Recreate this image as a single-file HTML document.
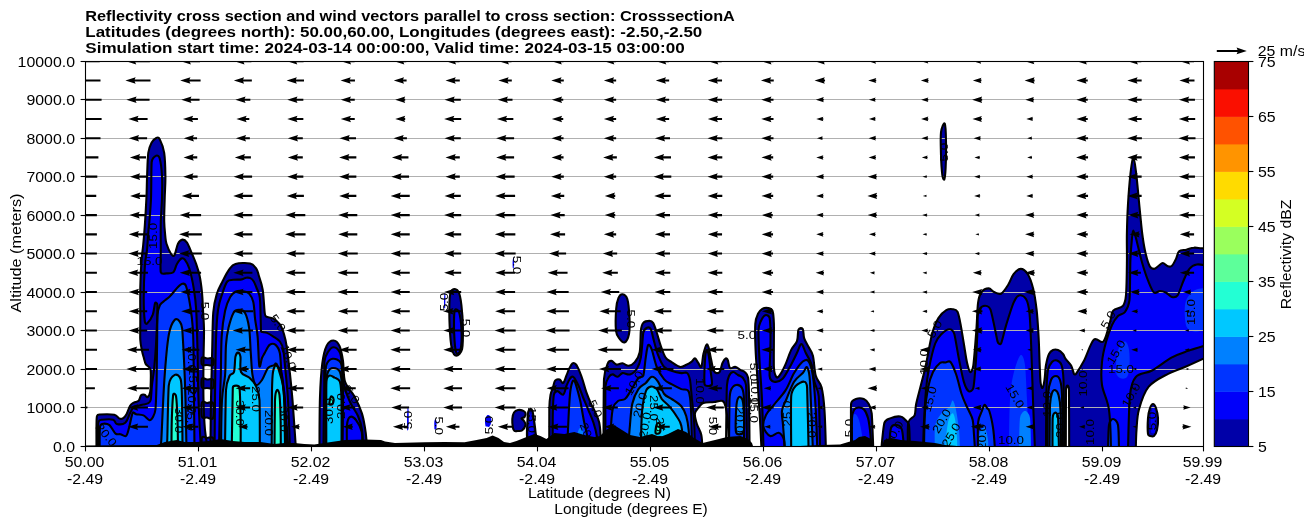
<!DOCTYPE html>
<html><head><meta charset="utf-8"><title>Reflectivity cross section</title><style>html,body{margin:0;padding:0;background:#fff;width:1304px;height:526px;overflow:hidden}</style></head>
<body><svg width="1304" height="526" viewBox="0 0 1304 526" style="position:absolute;left:0;top:0;will-change:transform"><rect width="1304" height="526" fill="#fff"/><defs><clipPath id="ax"><rect x="85.5" y="61.5" width="1118.00" height="385.00"/></clipPath></defs><g clip-path="url(#ax)"><path d="M96.5 450.0 C96.5 450.0 96.4 429.5 96.5 425.0 C96.6 420.5 96.5 417.6 97.0 416.0 C97.5 414.4 98.3 414.6 100.0 414.5 C101.7 414.4 111.3 414.2 114.3 414.8 C117.3 415.4 117.8 417.8 119.2 418.4 C120.6 419.0 121.6 419.1 122.8 418.4 C124.0 417.7 125.3 416.3 126.5 414.2 C127.7 412.1 128.9 407.6 130.1 405.7 C131.3 403.8 132.4 403.4 133.8 402.6 C135.2 401.8 137.4 402.0 138.6 400.8 C139.8 399.6 140.1 396.3 141.1 395.3 C142.1 394.3 143.7 394.4 144.7 394.7 C145.7 395.0 146.2 397.6 147.1 397.2 C148.0 396.8 149.8 395.0 150.2 392.0 C150.6 389.0 151.2 373.5 150.6 369.8 C150.0 366.1 146.9 366.0 145.8 364.1 C144.7 362.2 144.6 360.6 144.0 358.4 C143.4 356.2 142.6 353.9 142.0 350.8 C141.4 347.7 140.6 344.9 140.3 340.0 C140.0 335.1 140.3 330.1 140.3 321.3 C140.3 312.5 140.1 296.9 140.3 287.0 C140.5 277.1 140.9 269.0 141.4 262.0 C141.9 255.0 142.6 251.0 143.2 245.0 C143.8 239.0 144.3 233.7 144.8 225.9 C145.3 218.2 146.0 206.9 146.4 198.5 C146.8 190.1 146.8 183.3 147.1 175.7 C147.4 168.1 147.6 158.1 148.3 152.8 C149.0 147.5 150.4 145.1 151.7 142.6 C153.0 140.1 155.0 138.6 156.3 138.0 C157.6 137.4 158.9 137.5 159.7 139.1 C160.5 140.7 163.2 146.7 164.2 152.8 C165.1 158.9 165.3 168.1 165.4 175.7 C165.5 183.3 164.9 190.9 164.7 198.5 C164.5 206.1 164.1 214.8 164.2 221.3 C164.3 227.8 165.1 234.1 165.4 237.3 C165.7 240.5 165.6 240.9 166.5 243.7 C167.4 246.5 170.1 252.5 171.1 254.0 C172.1 255.5 173.5 256.6 174.5 255.1 C175.5 253.6 176.7 246.3 178.0 243.7 C179.3 241.1 181.0 239.8 182.5 239.6 C184.0 239.4 185.5 240.4 187.0 242.6 C188.5 244.8 190.1 249.2 191.6 252.8 C193.1 256.4 194.9 260.4 196.2 264.2 C197.5 268.0 198.6 271.1 199.6 275.7 C200.6 280.3 201.3 285.9 201.9 291.6 C202.5 297.3 202.7 303.5 203.0 309.9 C203.3 316.3 203.9 321.6 204.0 330.0 C204.1 338.4 203.6 348.3 203.5 360.0 C203.4 371.7 203.2 388.3 203.5 400.0 C203.8 411.7 204.2 421.7 205.0 430.0 C205.8 438.3 208.0 450.0 208.0 450.0 C208.0 450.0 96.5 450.0 96.5 450.0Z" fill="#0000a8"/><path d="M210.4 450.0 C210.4 450.0 210.7 416.7 211.0 400.0 C211.3 383.3 211.8 364.7 212.2 350.0 C212.6 335.3 212.5 321.1 213.3 312.0 C214.1 302.9 215.3 299.1 216.8 294.0 C218.3 288.9 220.4 285.5 222.5 281.4 C224.6 277.3 227.0 272.4 229.2 269.5 C231.4 266.6 232.0 265.0 235.5 264.0 C239.0 263.0 246.6 262.7 250.1 263.5 C253.6 264.3 254.9 266.7 256.4 268.8 C257.9 270.9 257.9 272.8 259.0 276.3 C260.1 279.8 261.8 283.8 262.7 289.7 C263.6 295.6 264.3 309.5 264.6 312.0 C264.9 314.5 264.8 315.6 266.2 316.7 C267.6 317.8 270.7 317.1 273.0 318.4 C275.3 319.7 278.0 321.7 279.9 324.4 C281.8 327.1 283.0 330.9 284.1 334.6 C285.2 338.3 285.8 340.5 286.7 346.6 C287.6 352.7 289.1 366.1 290.1 375.0 C291.1 383.9 291.5 387.5 292.5 400.0 C293.5 412.5 296.0 450.0 296.0 450.0 C296.0 450.0 210.4 450.0 210.4 450.0Z" fill="#0000a8"/><path d="M319.5 450.0 C319.5 450.0 319.5 411.2 320.0 396.8 C320.5 382.4 321.2 371.9 322.3 363.4 C323.4 354.9 324.8 349.4 326.7 345.6 C328.6 341.8 331.4 340.4 333.5 340.5 C335.6 340.6 337.9 342.6 339.5 346.0 C341.1 349.4 342.1 355.0 343.0 361.0 C343.9 367.0 343.2 375.9 345.1 381.8 C347.0 387.7 351.7 391.3 354.5 396.5 C357.3 401.7 360.1 408.0 361.8 413.2 C363.6 418.4 364.2 423.4 365.0 427.9 C365.8 432.4 366.2 436.7 366.5 440.4 C366.8 444.1 367.0 450.0 367.0 450.0 C367.0 450.0 319.5 450.0 319.5 450.0Z" fill="#0000a8"/><path d="M513.0 428.0 C512.7 426.4 512.1 421.6 512.3 419.0 C512.5 416.4 513.0 414.0 514.0 412.5 C515.0 411.0 516.6 410.3 518.0 410.0 C519.4 409.7 521.2 410.0 522.5 410.5 C523.8 411.0 525.2 411.9 525.5 413.0 C525.8 414.1 525.2 416.1 524.5 417.0 C523.8 417.9 521.6 417.8 521.5 418.5 C521.4 419.2 523.3 419.9 524.0 421.0 C524.7 422.1 525.8 423.4 525.5 425.0 C525.2 426.6 523.3 429.5 522.0 430.5 C520.7 431.5 518.8 430.9 517.5 431.0 C516.2 431.1 515.2 431.5 514.5 431.0 C513.8 430.5 513.3 429.6 513.0 428.0Z" fill="#0000a8"/><path d="M527.5 440.0 C526.1 436.7 527.4 424.0 527.5 420.0 C527.6 416.0 527.8 413.7 528.2 412.0 C528.6 410.3 529.3 409.2 530.0 409.0 C530.7 408.8 532.0 409.5 532.5 411.0 C533.0 412.5 533.5 416.5 534.0 420.0 C534.5 423.5 535.2 428.7 535.5 432.0 C535.8 435.3 537.3 438.7 536.0 440.0 C534.7 441.3 528.9 443.3 527.5 440.0Z" fill="#0000a8"/><path d="M549.3 450.0 C549.3 450.0 549.2 415.3 549.3 408.5 C549.4 401.7 549.9 398.4 550.5 395.0 C551.1 391.6 552.0 390.4 552.8 388.0 C553.6 385.6 554.0 382.1 555.1 380.7 C556.2 379.3 558.4 379.1 559.7 379.5 C561.1 379.9 562.0 383.8 563.2 383.0 C564.4 382.2 565.7 377.2 566.7 374.9 C567.7 372.6 568.0 371.0 569.0 369.1 C570.0 367.2 571.3 364.1 572.5 363.3 C573.7 362.5 574.8 363.1 576.0 364.5 C577.2 365.9 578.4 368.7 579.5 371.4 C580.6 374.1 581.8 377.2 582.9 380.7 C584.0 384.2 585.0 388.4 586.4 392.3 C587.8 396.2 589.5 400.4 591.1 403.9 C592.7 407.4 594.4 410.1 595.7 413.2 C597.1 416.3 598.4 419.0 599.2 422.5 C600.0 426.0 600.2 429.5 600.5 434.1 C600.8 438.7 601.0 450.0 601.0 450.0 C601.0 450.0 549.3 450.0 549.3 450.0Z" fill="#0000a8"/><path d="M603.5 450.0 C603.5 450.0 603.6 387.1 604.0 379.0 C604.4 370.9 607.0 365.3 607.8 363.3 C608.6 361.3 610.1 360.7 611.5 360.9 C612.9 361.1 614.6 364.2 616.4 364.6 C618.2 365.0 620.5 363.1 622.5 363.3 C624.5 363.5 626.6 366.0 628.6 365.8 C630.6 365.6 632.9 364.4 634.8 362.1 C636.6 359.9 638.7 357.6 639.7 352.3 C640.7 347.0 640.4 334.2 640.9 330.3 C641.4 326.4 641.9 324.5 643.3 322.9 C644.7 321.3 647.9 320.9 649.5 320.9 C651.1 320.9 652.0 321.1 653.1 322.9 C654.2 324.7 655.6 329.0 656.8 332.7 C658.0 336.4 659.1 340.9 660.5 345.0 C661.9 349.1 663.6 354.3 665.4 357.2 C667.2 360.1 669.1 360.5 671.5 362.1 C673.9 363.7 677.5 366.4 680.0 366.9 C682.5 367.3 684.4 365.7 686.4 364.8 C688.4 363.9 690.3 362.7 691.7 361.6 C693.1 360.5 693.8 358.2 694.9 358.4 C696.0 358.6 697.0 361.3 698.1 362.7 C699.2 364.1 700.4 368.3 701.3 366.9 C702.2 365.5 702.5 357.8 703.4 354.1 C704.3 350.4 705.7 345.7 706.6 344.6 C707.5 343.6 708.1 346.0 708.7 347.8 C709.3 349.6 710.0 354.5 710.9 358.4 C711.8 362.3 712.6 368.9 714.0 371.2 C715.4 373.5 718.0 373.6 719.4 372.2 C720.8 370.8 721.5 365.0 722.6 362.7 C723.7 360.4 724.8 358.8 725.7 358.4 C726.6 358.0 727.3 359.1 727.9 360.5 C728.5 361.9 728.8 366.9 730.0 368.0 C731.2 369.1 733.5 366.5 735.3 366.9 C737.1 367.2 739.0 369.2 740.6 370.1 C742.2 371.0 743.6 370.9 744.9 372.2 C746.1 373.4 747.6 374.5 748.1 377.6 C748.6 380.7 748.9 388.4 749.1 398.8 C749.3 409.2 749.4 435.0 749.5 440.0 C749.6 445.0 750.0 450.0 750.0 450.0 C750.0 450.0 603.5 450.0 603.5 450.0Z" fill="#0000a8"/><path d="M616.0 330.8 C615.6 326.9 615.8 314.0 616.2 308.6 C616.6 303.2 617.5 300.4 618.5 298.0 C619.5 295.6 621.0 294.1 622.5 294.3 C624.0 294.5 626.3 295.8 627.3 299.0 C628.3 302.2 629.2 312.2 629.5 318.0 C629.8 323.8 629.8 329.9 629.0 334.0 C628.2 338.1 626.2 341.8 624.5 342.5 C622.8 343.2 620.4 339.9 619.0 338.0 C617.6 336.1 616.4 334.7 616.0 330.8Z" fill="#0000a8"/><path d="M452.6 289.6 C454.1 288.6 457.0 289.2 458.5 291.8 C460.0 294.4 460.7 299.1 461.4 305.0 C462.1 310.9 462.8 319.7 462.9 327.0 C463.0 334.3 463.1 344.7 462.1 349.0 C461.1 353.3 458.0 355.6 456.3 355.6 C454.6 355.6 452.8 352.9 451.9 349.0 C451.0 345.1 450.1 335.6 449.7 327.0 C449.3 318.4 449.4 302.0 449.7 297.7 C450.0 293.4 451.1 290.6 452.6 289.6Z" fill="#0000a8"/><path d="M761.5 450.0 C761.5 450.0 760.7 431.7 760.0 420.0 C759.3 408.3 758.2 391.7 757.5 380.0 C756.8 368.3 756.0 359.4 755.6 350.0 C755.2 340.6 755.0 329.1 755.3 323.9 C755.6 318.7 756.8 316.3 758.0 313.8 C759.2 311.3 760.6 309.9 762.3 308.9 C764.0 307.9 766.4 307.7 768.1 308.0 C769.8 308.3 771.6 308.4 772.5 310.9 C773.4 313.4 773.7 317.4 773.9 323.9 C774.1 330.4 773.6 362.1 773.9 367.3 C774.2 372.5 775.6 376.4 776.8 377.4 C778.0 378.3 779.6 375.2 781.1 373.0 C782.6 370.8 783.8 368.2 785.5 364.4 C787.2 360.5 789.3 353.8 791.2 349.9 C793.1 346.0 795.8 344.6 797.0 341.2 C798.2 337.8 797.6 331.7 798.5 329.7 C799.4 327.7 801.8 327.7 802.8 329.1 C803.8 330.6 803.2 335.4 804.2 338.4 C805.2 341.4 807.2 344.1 808.6 347.0 C810.0 349.9 811.7 351.0 812.9 355.7 C814.1 360.4 814.3 370.6 815.8 375.9 C817.2 381.2 820.1 381.7 821.6 387.5 C823.1 393.3 823.8 400.2 824.5 410.6 C825.2 421.0 825.9 450.0 825.9 450.0 C825.9 450.0 761.5 450.0 761.5 450.0Z" fill="#0000a8"/><path d="M851.1 450.0 C851.1 450.0 850.8 407.2 851.1 403.8 C851.4 400.4 853.8 399.8 855.9 399.0 C858.0 398.2 861.7 398.2 863.8 399.0 C865.9 399.8 867.3 401.4 868.6 403.8 C869.9 406.2 871.2 408.3 871.7 413.3 C872.2 418.3 873.3 450.0 873.3 450.0 C873.3 450.0 851.1 450.0 851.1 450.0Z" fill="#0000a8"/><path d="M881.3 450.0 C881.3 450.0 883.3 426.7 884.4 422.9 C885.5 419.1 888.1 419.2 890.8 418.1 C893.4 417.0 897.9 416.2 900.3 416.5 C902.7 416.8 903.6 418.3 905.1 419.7 C906.6 421.1 908.5 421.8 909.0 425.0 C909.5 428.2 910.0 450.0 910.0 450.0 C910.0 450.0 881.3 450.0 881.3 450.0Z" fill="#0000a8"/><path d="M908.0 450.0 C908.0 450.0 907.4 427.3 908.3 422.6 C909.2 417.9 913.3 418.4 914.6 415.3 C915.9 412.2 915.1 408.9 916.2 403.8 C917.3 398.7 919.4 391.2 921.0 384.8 C922.6 378.4 923.9 374.2 925.7 365.7 C927.6 357.2 930.0 341.9 932.1 334.0 C934.2 326.1 936.0 322.1 938.4 318.1 C940.8 314.1 943.9 311.7 946.3 310.2 C948.7 308.7 950.8 308.9 952.7 309.2 C954.6 309.4 956.3 309.3 957.5 311.7 C958.7 314.1 959.6 319.1 960.6 324.4 C961.6 329.7 962.7 337.1 963.8 343.5 C964.9 349.9 965.9 357.7 967.0 362.5 C968.1 367.3 969.2 371.6 970.2 372.1 C971.2 372.6 972.8 369.2 973.3 365.7 C973.8 362.2 975.5 341.5 976.3 331.0 C977.1 320.5 977.3 308.1 978.1 302.6 C978.9 297.1 979.8 294.4 981.6 292.0 C983.4 289.6 986.6 288.4 988.7 288.4 C990.8 288.4 991.9 291.1 994.0 292.0 C996.1 292.9 998.7 294.9 1001.1 293.7 C1003.5 292.5 1006.1 288.1 1008.2 284.8 C1010.3 281.6 1011.5 276.9 1013.6 274.2 C1015.7 271.5 1018.3 268.9 1020.7 268.9 C1023.1 268.9 1025.7 270.9 1027.8 274.2 C1029.9 277.4 1031.6 282.5 1033.1 288.4 C1034.6 294.3 1035.7 301.9 1036.6 309.7 C1037.5 317.5 1038.0 326.6 1038.5 335.0 C1039.0 343.4 1039.2 352.2 1039.5 360.0 C1039.8 367.8 1040.2 378.9 1040.5 382.0 C1040.8 385.1 1041.8 388.3 1042.5 388.0 C1043.2 387.7 1043.9 383.8 1044.5 380.0 C1045.1 376.2 1045.2 369.3 1046.0 365.0 C1046.8 360.7 1047.8 356.5 1049.0 354.0 C1050.2 351.5 1051.5 350.7 1053.0 350.0 C1054.5 349.3 1056.3 349.3 1058.0 350.0 C1059.7 350.7 1061.7 352.5 1063.0 354.0 C1064.3 355.5 1064.2 357.0 1065.6 358.9 C1066.9 360.8 1069.7 363.1 1071.1 365.6 C1072.5 368.1 1073.5 373.1 1074.0 374.0 C1074.5 374.9 1075.4 374.6 1076.0 373.8 C1076.6 373.0 1081.0 366.5 1084.0 360.8 C1087.0 355.1 1090.5 343.0 1093.8 339.8 C1097.0 336.6 1100.8 344.4 1103.5 341.4 C1106.2 338.4 1108.4 327.1 1110.0 322.0 C1111.6 316.9 1111.0 313.4 1113.2 310.7 C1115.4 308.0 1120.8 308.5 1122.9 305.9 C1125.0 303.3 1125.5 300.6 1126.0 295.0 C1126.5 289.4 1126.8 273.2 1126.9 263.0 C1127.1 252.8 1126.7 243.3 1126.9 233.5 C1127.1 223.7 1127.4 213.8 1128.0 204.0 C1128.6 194.2 1129.5 182.4 1130.4 174.5 C1131.3 166.6 1132.3 156.8 1133.3 156.8 C1134.3 156.8 1135.3 166.6 1136.3 174.5 C1137.3 182.4 1138.2 194.2 1139.2 204.0 C1140.2 213.8 1141.2 225.6 1142.2 233.5 C1143.2 241.4 1143.9 245.8 1145.1 251.2 C1146.3 256.6 1148.4 263.6 1149.6 266.0 C1150.8 268.4 1152.5 268.9 1154.0 268.9 C1155.5 268.9 1156.9 267.0 1158.4 266.0 C1159.9 265.0 1161.3 263.0 1162.8 263.0 C1164.3 263.0 1165.8 265.5 1167.3 266.0 C1168.8 266.5 1170.2 267.2 1171.7 266.0 C1173.2 264.8 1174.9 261.1 1176.1 258.6 C1177.3 256.1 1177.4 252.7 1179.1 251.2 C1180.8 249.7 1184.0 250.3 1186.4 249.7 C1188.9 249.1 1191.3 247.9 1193.8 247.7 C1196.3 247.4 1198.8 248.1 1201.2 248.2 C1203.6 248.3 1208.0 248.2 1208.0 248.2 C1208.0 248.2 1208.0 356.6 1208.0 356.6 C1208.0 356.6 1191.0 364.4 1184.3 367.3 C1177.6 370.2 1174.0 370.6 1168.1 373.8 C1162.2 377.0 1153.5 380.8 1148.7 386.7 C1143.9 392.6 1141.0 402.1 1139.0 409.3 C1137.0 416.5 1137.0 423.2 1136.5 430.0 C1136.0 436.8 1135.8 450.0 1135.8 450.0 C1135.8 450.0 908.0 450.0 908.0 450.0Z" fill="#0000a8"/><path d="M1148.0 434.0 C1147.8 432.6 1147.7 422.3 1148.0 418.0 C1148.3 413.7 1149.2 410.3 1150.0 408.0 C1150.8 405.7 1152.0 404.0 1153.0 404.0 C1154.0 404.0 1155.2 405.7 1156.0 408.0 C1156.8 410.3 1157.8 414.3 1158.0 418.0 C1158.2 421.7 1157.7 427.0 1157.0 430.0 C1156.3 433.0 1155.2 435.0 1154.0 436.0 C1152.8 437.0 1151.0 436.3 1150.0 436.0 C1149.0 435.7 1148.2 435.4 1148.0 434.0Z" fill="#0000a8"/><path d="M944.7 123.6 C945.5 125.1 945.9 134.2 946.0 141.6 C946.1 149.0 945.9 162.5 945.6 168.2 C945.3 173.9 944.8 178.4 944.3 179.5 C943.8 180.6 942.6 177.3 942.3 174.8 C942.0 172.3 941.2 162.0 941.0 154.9 C940.8 147.8 940.4 137.0 941.0 132.3 C941.6 127.6 943.9 122.0 944.7 123.6Z" fill="#0000a8"/><path d="M202.0 357.5 C202.8 356.5 205.2 358.3 207.0 358.5 C208.8 358.7 212.0 357.4 213.0 358.5 C214.0 359.6 214.0 363.9 213.0 365.0 C212.0 366.1 208.8 365.1 207.0 365.0 C205.2 364.9 202.8 365.8 202.0 364.5 C201.2 363.2 201.2 358.5 202.0 357.5Z" fill="#0000a8"/><path d="M202.0 378.5 C202.8 377.2 205.2 379.3 207.0 379.5 C208.8 379.7 212.0 378.1 213.0 379.5 C214.0 380.9 214.0 386.6 213.0 388.0 C212.0 389.4 208.8 388.1 207.0 388.0 C205.2 387.9 202.8 389.1 202.0 387.5 C201.2 385.9 201.2 379.8 202.0 378.5Z" fill="#0000a8"/><path d="M202.0 402.5 C202.8 400.2 205.2 402.9 207.0 403.0 C208.8 403.1 212.0 400.5 213.0 403.0 C214.0 405.5 214.0 415.6 213.0 418.0 C212.0 420.4 208.8 417.7 207.0 417.5 C205.2 417.3 202.8 419.4 202.0 417.0 C201.2 414.6 201.2 404.8 202.0 402.5Z" fill="#0000a8"/><path d="M202.0 437.5 C202.8 435.5 205.2 437.9 207.0 438.0 C208.8 438.1 212.0 436.0 213.0 438.0 C214.0 440.0 213.0 450.0 213.0 450.0 C213.0 450.0 202.0 450.0 202.0 450.0 C202.0 450.0 201.2 439.5 202.0 437.5Z" fill="#0000a8"/><path d="M98.0 450.0 C98.0 450.0 97.9 434.3 98.0 430.0 C98.1 425.7 97.9 423.2 98.6 421.5 C99.3 419.8 100.2 419.9 102.2 419.7 C104.2 419.5 110.7 419.0 113.1 419.7 C115.5 420.4 114.7 423.4 116.7 423.9 C118.7 424.4 123.1 424.5 125.3 422.7 C127.5 420.9 128.7 415.6 130.1 413.0 C131.5 410.4 132.4 408.1 133.8 406.9 C135.2 405.7 137.0 406.1 138.6 405.7 C140.2 405.3 141.9 404.9 143.5 404.5 C145.1 404.1 147.2 404.0 148.4 403.2 C149.6 402.4 150.4 401.7 150.8 399.6 C151.2 397.5 151.5 389.9 152.0 385.0 C152.5 380.1 153.3 376.7 154.0 370.0 C154.7 363.3 155.4 355.8 156.0 345.0 C156.6 334.2 157.4 306.5 157.4 305.0 C157.4 303.5 155.8 301.6 155.1 303.0 C154.4 304.4 154.1 311.1 152.8 314.5 C151.5 317.9 148.3 322.5 147.1 323.6 C145.9 324.7 145.0 322.9 144.8 321.3 C144.6 319.7 143.7 308.1 143.7 298.5 C143.7 288.9 144.5 271.1 145.0 264.0 C145.5 256.9 146.4 255.7 147.0 250.0 C147.6 244.3 148.1 234.4 148.5 230.0 C148.9 225.6 149.1 225.7 149.4 221.3 C149.7 216.9 150.6 208.4 151.0 198.5 C151.4 188.6 151.2 165.9 151.7 162.0 C152.2 158.1 155.0 156.2 156.3 155.6 C157.6 155.0 159.1 156.4 159.7 158.5 C160.3 160.6 161.6 169.0 162.0 175.7 C162.4 182.4 162.2 190.9 162.0 198.5 C161.8 206.1 161.0 212.7 160.8 221.3 C160.6 229.9 160.8 241.5 160.8 250.0 C160.8 258.5 160.1 269.4 160.8 272.2 C161.5 275.0 164.4 273.4 166.5 273.4 C168.6 273.4 171.7 273.7 173.4 272.2 C175.1 270.7 175.5 266.5 176.8 264.2 C178.1 261.9 180.1 259.2 181.4 258.5 C182.7 257.8 183.7 258.3 184.8 259.7 C185.9 261.1 187.9 263.9 189.4 268.8 C190.9 273.7 192.8 282.5 193.9 289.4 C195.0 296.2 195.6 299.8 196.2 309.9 C196.8 320.0 197.1 335.0 197.5 350.0 C197.9 365.0 197.9 383.3 198.5 400.0 C199.1 416.7 201.0 450.0 201.0 450.0 C201.0 450.0 98.0 450.0 98.0 450.0Z" fill="#0000fa"/><path d="M214.6 450.0 C214.6 450.0 214.8 418.3 215.0 400.0 C215.2 381.7 215.5 355.0 216.0 340.0 C216.5 325.0 216.9 317.8 218.0 310.0 C219.1 302.2 220.9 297.8 222.5 293.0 C224.1 288.2 225.5 283.7 227.3 281.5 C229.1 279.3 230.9 280.2 233.3 279.8 C235.7 279.4 239.7 279.8 241.8 279.4 C243.9 279.0 244.7 277.9 246.1 277.7 C247.5 277.5 249.1 277.5 250.4 278.1 C251.7 278.7 252.8 279.9 253.8 281.5 C254.8 283.1 255.5 285.2 256.4 287.5 C257.3 289.8 258.7 292.6 259.3 295.0 C259.9 297.4 260.0 298.5 260.2 302.1 C260.4 305.7 260.9 330.2 261.0 331.2 C261.1 332.2 261.9 331.7 262.8 332.0 C263.7 332.3 265.3 332.2 267.0 332.9 C268.7 333.6 270.9 334.9 273.0 336.3 C275.1 337.7 278.2 339.2 279.9 341.5 C281.6 343.8 282.5 345.5 283.3 350.0 C284.1 354.5 285.1 366.7 285.9 375.0 C286.7 383.3 287.3 387.5 288.0 400.0 C288.7 412.5 290.0 450.0 290.0 450.0 C290.0 450.0 214.6 450.0 214.6 450.0Z" fill="#0000fa"/><path d="M323.4 450.0 C323.4 450.0 324.0 404.5 324.2 390.0 C324.4 375.5 324.0 365.8 324.5 361.0 C325.0 356.2 326.5 354.3 328.0 352.0 C329.5 349.7 331.6 347.2 333.6 347.3 C335.6 347.4 338.5 349.7 339.9 352.6 C341.3 355.6 341.3 359.6 342.0 365.0 C342.7 370.4 342.7 378.8 344.0 385.0 C345.3 391.2 347.7 396.8 350.0 402.0 C352.3 407.2 356.0 411.3 358.0 416.0 C360.0 420.7 361.2 424.3 362.0 430.0 C362.8 435.7 363.0 450.0 363.0 450.0 C363.0 450.0 323.4 450.0 323.4 450.0Z" fill="#0000fa"/><path d="M347.0 450.0 C347.0 450.0 346.6 429.3 347.0 425.0 C347.4 420.7 348.5 417.8 350.0 417.0 C351.5 416.2 354.0 417.5 356.0 420.0 C358.0 422.5 360.8 427.0 361.8 432.0 C362.8 437.0 362.0 450.0 362.0 450.0 C362.0 450.0 347.0 450.0 347.0 450.0Z" fill="#0000fa"/><path d="M407.2 430.0 C407.2 429.5 406.9 421.7 407.0 418.0 C407.1 414.3 407.4 409.1 407.6 408.0 C407.8 406.9 408.5 408.9 408.6 410.0 C408.7 411.1 408.9 418.7 408.8 422.0 C408.7 425.3 408.3 429.5 408.2 430.0 C408.1 430.5 407.2 430.5 407.2 430.0Z" fill="#0000fa"/><path d="M434.5 429.0 C434.4 428.4 434.2 423.6 434.3 422.0 C434.4 420.4 435.0 419.2 435.3 419.0 C435.6 418.8 436.2 419.9 436.4 421.0 C436.6 422.1 436.6 427.1 436.5 428.0 C436.4 428.9 435.8 429.3 435.5 429.5 C435.2 429.7 434.6 429.6 434.5 429.0Z" fill="#0000fa"/><path d="M485.5 426.0 C485.3 425.2 484.8 421.8 485.0 420.0 C485.2 418.2 486.2 416.2 487.0 415.5 C487.8 414.8 489.2 415.1 490.0 416.0 C490.8 416.9 491.6 419.2 491.5 421.0 C491.4 422.8 490.2 425.7 489.5 426.6 C488.8 427.5 487.7 426.6 487.0 426.5 C486.3 426.4 485.7 426.8 485.5 426.0Z" fill="#0000fa"/><path d="M529.5 440.0 C529.1 438.0 529.3 426.0 529.5 422.0 C529.7 418.0 530.1 415.0 530.5 414.0 C530.9 413.0 531.7 414.8 532.0 416.0 C532.3 417.2 532.8 421.0 533.0 425.0 C533.2 429.0 534.0 438.1 533.5 440.0 C533.0 441.9 529.9 442.0 529.5 440.0Z" fill="#0000fa"/><path d="M552.8 450.0 C552.8 450.0 552.6 422.4 552.8 413.2 C553.0 404.0 553.4 397.0 553.9 394.6 C554.4 392.2 555.8 391.1 557.4 391.1 C559.0 391.1 561.7 395.6 563.2 394.6 C564.8 393.6 565.5 388.0 566.7 385.3 C567.9 382.6 569.1 379.8 570.2 378.4 C571.4 377.0 572.2 376.0 573.6 377.2 C575.0 378.4 576.8 382.0 578.3 385.3 C579.8 388.6 581.2 392.7 582.9 397.0 C584.6 401.3 587.0 406.6 588.7 410.9 C590.5 415.1 592.0 418.2 593.4 422.5 C594.8 426.8 596.2 431.8 596.9 436.4 C597.6 441.0 597.5 450.0 597.5 450.0 C597.5 450.0 552.8 450.0 552.8 450.0Z" fill="#0000fa"/><path d="M605.5 450.0 C605.5 450.0 605.2 391.8 605.4 386.6 C605.6 381.4 607.9 378.7 609.0 376.8 C610.1 374.9 611.3 374.4 612.7 374.4 C614.1 374.4 616.0 377.0 617.6 376.8 C619.2 376.6 620.5 373.5 622.5 373.1 C624.5 372.7 627.4 375.2 629.9 374.4 C632.4 373.6 635.4 371.1 637.2 368.2 C639.0 365.3 639.9 362.9 640.9 357.2 C641.9 351.5 642.7 335.7 643.3 332.7 C643.9 329.7 645.8 328.4 647.0 327.8 C648.2 327.2 649.7 327.4 650.7 329.0 C651.7 330.6 651.9 333.3 653.1 337.6 C654.3 341.9 656.1 349.9 658.0 354.8 C659.9 359.7 662.0 364.4 664.2 367.0 C666.5 369.6 668.6 369.7 671.5 370.7 C674.4 371.7 678.7 372.7 681.3 373.1 C683.9 373.5 685.5 371.9 687.0 373.0 C688.5 374.1 689.3 376.3 690.0 380.0 C690.7 383.7 691.3 393.3 692.0 400.0 C692.7 406.7 693.5 411.7 694.0 420.0 C694.5 428.3 695.0 450.0 695.0 450.0 C695.0 450.0 605.5 450.0 605.5 450.0Z" fill="#0000fa"/><path d="M704.5 384.0 C704.3 382.0 704.7 365.1 705.0 360.0 C705.3 354.9 706.2 350.7 706.8 350.0 C707.4 349.3 708.2 352.9 708.8 356.0 C709.4 359.1 710.0 365.3 710.5 370.0 C711.0 374.7 712.3 381.8 712.0 384.0 C711.7 386.2 709.2 386.0 708.0 386.0 C706.8 386.0 704.7 386.0 704.5 384.0Z" fill="#0000fa"/><path d="M726.0 450.0 C726.0 450.0 726.3 415.0 726.5 405.0 C726.7 395.0 726.6 389.6 727.0 385.0 C727.4 380.4 728.0 378.2 729.0 376.0 C730.0 373.8 731.5 372.2 733.0 372.0 C734.5 371.8 736.3 374.0 738.0 375.0 C739.7 376.0 741.7 376.3 743.0 378.0 C744.3 379.7 745.6 381.2 746.0 385.0 C746.4 388.8 746.3 399.2 746.5 410.0 C746.7 420.8 747.0 450.0 747.0 450.0 C747.0 450.0 726.0 450.0 726.0 450.0Z" fill="#0000fa"/><path d="M455.0 310.0 C455.8 308.7 458.3 309.9 459.0 312.0 C459.7 314.1 461.2 323.7 461.5 330.0 C461.8 336.3 461.0 347.6 460.5 350.0 C460.0 352.4 457.5 354.7 456.5 353.0 C455.5 351.3 454.9 345.5 454.5 340.0 C454.1 334.5 453.9 325.0 454.0 320.0 C454.1 315.0 454.2 311.3 455.0 310.0Z" fill="#0000fa"/><path d="M444.2 308.0 C444.1 307.5 443.9 302.5 444.0 300.0 C444.1 297.5 444.4 293.7 444.6 293.0 C444.8 292.3 445.3 294.4 445.4 296.0 C445.5 297.6 445.2 307.5 445.2 308.0 C445.2 308.5 444.3 308.5 444.2 308.0Z" fill="#0000fa"/><path d="M512.8 268.0 C512.7 267.5 512.5 263.8 512.6 262.0 C512.7 260.2 513.1 257.3 513.3 257.0 C513.5 256.7 513.9 258.5 514.0 260.0 C514.1 261.5 513.9 267.5 513.8 268.0 C513.7 268.5 512.9 268.5 512.8 268.0Z" fill="#0000fa"/><path d="M763.5 450.0 C763.5 450.0 762.7 415.0 762.0 400.0 C761.3 385.0 760.1 371.7 759.5 360.0 C758.9 348.3 758.3 334.7 758.5 330.0 C758.7 325.3 759.8 323.5 760.9 321.0 C762.0 318.5 763.8 315.7 765.2 315.2 C766.7 314.7 769.0 315.5 769.6 318.1 C770.2 320.7 770.5 330.4 770.5 340.0 C770.5 349.6 769.3 372.3 769.6 375.9 C769.9 379.5 771.7 381.2 773.9 381.7 C776.1 382.2 779.7 381.7 782.6 378.8 C785.5 375.9 788.8 368.7 791.2 364.4 C793.6 360.1 795.3 356.2 797.0 352.8 C798.7 349.4 799.9 344.1 801.4 344.1 C802.9 344.1 804.0 349.4 805.7 352.8 C807.4 356.2 810.0 359.6 811.5 364.4 C813.0 369.2 813.2 376.4 814.4 381.7 C815.6 387.0 818.1 388.7 818.7 396.2 C819.3 403.7 820.1 450.0 820.1 450.0 C820.1 450.0 763.5 450.0 763.5 450.0Z" fill="#0000fa"/><path d="M852.0 450.0 C852.0 450.0 851.8 422.1 852.0 418.0 C852.2 413.9 852.9 411.8 854.0 410.0 C855.1 408.2 856.8 407.6 858.5 407.5 C860.2 407.4 862.4 407.8 864.0 409.5 C865.6 411.2 866.9 413.8 868.0 418.0 C869.1 422.2 870.0 429.7 870.5 435.0 C871.0 440.3 871.0 450.0 871.0 450.0 C871.0 450.0 852.0 450.0 852.0 450.0Z" fill="#0000fa"/><path d="M889.0 450.0 C889.0 450.0 890.0 431.2 891.0 428.0 C892.0 424.8 895.2 424.7 897.0 425.0 C898.8 425.3 901.0 426.6 902.0 430.0 C903.0 433.4 904.0 450.0 904.0 450.0 C904.0 450.0 889.0 450.0 889.0 450.0Z" fill="#0000fa"/><path d="M923.0 450.0 C923.0 450.0 923.6 429.7 924.1 419.7 C924.6 409.7 925.2 398.5 926.0 390.0 C926.8 381.5 927.4 376.6 928.9 368.9 C930.4 361.1 933.2 348.9 935.2 343.5 C937.2 338.1 939.2 336.4 941.6 334.0 C944.0 331.6 947.4 329.2 949.5 329.2 C951.6 329.2 953.3 330.8 954.3 334.0 C955.3 337.2 957.4 351.5 959.0 359.4 C960.6 367.3 962.3 376.5 963.8 381.6 C965.3 386.7 967.0 390.0 968.6 391.1 C970.2 392.2 972.6 390.7 973.3 388.0 C974.0 385.3 975.3 369.7 976.0 360.0 C976.7 350.3 977.1 337.8 977.5 330.0 C977.9 322.2 977.1 317.2 978.1 313.2 C979.1 309.2 981.3 306.7 983.4 306.1 C985.5 305.5 989.0 306.0 990.5 309.7 C992.0 313.4 997.0 339.7 997.6 341.6 C998.2 343.5 1000.2 345.2 1001.1 343.4 C1002.0 341.6 1004.4 330.7 1006.5 323.9 C1008.6 317.1 1011.8 306.7 1013.6 302.6 C1015.4 298.5 1016.8 296.1 1018.9 295.5 C1021.0 294.9 1024.2 296.1 1026.0 299.0 C1027.8 301.9 1028.7 305.9 1029.5 313.2 C1030.3 320.5 1030.7 334.2 1031.3 348.7 C1031.9 363.2 1032.4 383.1 1033.0 400.0 C1033.6 416.9 1035.0 450.0 1035.0 450.0 C1035.0 450.0 923.0 450.0 923.0 450.0Z" fill="#0000fa"/><path d="M1046.0 450.0 C1046.0 450.0 1046.2 400.0 1046.5 390.0 C1046.8 380.0 1047.1 374.4 1048.0 370.0 C1048.9 365.6 1050.5 363.6 1052.0 362.0 C1053.5 360.4 1055.4 360.0 1057.0 360.5 C1058.6 361.0 1060.5 362.0 1061.5 365.0 C1062.5 368.0 1063.2 372.4 1063.5 380.0 C1063.8 387.6 1064.5 450.0 1064.5 450.0 C1064.5 450.0 1046.0 450.0 1046.0 450.0Z" fill="#0000fa"/><path d="M1111.0 450.0 C1111.0 450.0 1110.5 420.8 1109.0 410.0 C1107.5 399.2 1103.2 393.0 1102.0 385.0 C1100.8 377.0 1101.3 369.2 1102.0 362.0 C1102.7 354.8 1104.3 348.2 1106.0 342.0 C1107.7 335.8 1110.0 329.3 1112.0 325.0 C1114.0 320.7 1115.8 318.2 1118.0 316.0 C1120.2 313.8 1123.1 314.7 1125.0 312.0 C1126.9 309.3 1128.8 306.4 1129.5 300.0 C1130.2 293.6 1130.0 270.1 1130.4 260.0 C1130.8 249.9 1131.5 243.9 1131.9 239.4 C1132.3 234.9 1132.6 230.5 1133.3 230.5 C1134.0 230.5 1135.1 234.9 1136.3 239.4 C1137.5 243.9 1140.2 256.1 1142.2 263.0 C1144.2 269.9 1146.1 275.8 1148.1 280.7 C1150.1 285.6 1152.0 290.8 1154.0 292.5 C1156.0 294.2 1157.9 291.0 1159.9 291.0 C1161.9 291.0 1163.8 291.5 1165.8 292.5 C1167.8 293.5 1169.7 296.4 1171.7 296.9 C1173.7 297.4 1175.8 297.9 1177.6 295.4 C1179.4 292.9 1181.5 285.1 1183.5 280.7 C1185.5 276.3 1187.2 271.6 1189.4 268.9 C1191.6 266.2 1193.7 265.0 1196.8 264.5 C1199.9 264.0 1208.0 266.0 1208.0 266.0 C1208.0 266.0 1208.0 344.7 1208.0 344.7 C1208.0 344.7 1193.6 349.0 1187.5 351.1 C1181.4 353.2 1177.3 354.4 1171.4 357.6 C1165.5 360.8 1157.9 367.3 1152.0 370.5 C1146.1 373.7 1139.5 372.9 1135.8 377.0 C1132.1 381.1 1131.0 385.6 1130.0 395.0 C1129.0 404.4 1128.0 450.0 1128.0 450.0 C1128.0 450.0 1111.0 450.0 1111.0 450.0Z" fill="#0000fa"/><path d="M1151.0 432.0 C1150.6 430.0 1150.7 417.2 1151.0 414.0 C1151.3 410.8 1152.8 408.0 1153.5 408.0 C1154.2 408.0 1155.3 410.8 1155.5 414.0 C1155.7 417.2 1155.5 430.1 1155.0 432.0 C1154.5 433.9 1151.4 434.0 1151.0 432.0Z" fill="#0000fa"/><path d="M99.7 450.0 C99.7 450.0 99.6 439.0 99.7 435.0 C99.8 431.0 99.6 427.9 100.2 426.0 C100.8 424.1 101.9 423.8 103.4 423.7 C105.0 423.6 107.5 423.5 109.5 425.1 C111.5 426.8 113.7 432.1 115.5 433.6 C117.3 435.1 118.7 433.8 120.4 434.2 C122.2 434.6 124.6 437.0 126.0 436.0 C127.4 435.0 127.9 431.8 129.0 428.0 C130.1 424.2 131.7 414.7 132.6 413.0 C133.5 411.3 134.4 413.8 136.2 414.2 C138.0 414.6 141.3 414.4 143.5 415.4 C145.7 416.4 148.0 420.1 149.6 420.3 C151.2 420.5 152.2 418.5 153.2 416.6 C154.2 414.7 155.1 412.9 155.5 409.0 C155.9 405.1 156.2 394.8 156.5 385.0 C156.8 375.2 156.8 361.7 157.0 350.0 C157.2 338.3 157.2 320.1 157.5 315.0 C157.8 309.9 158.7 307.5 160.0 305.0 C161.3 302.5 163.7 301.5 165.4 300.0 C167.1 298.5 167.9 298.3 170.0 296.2 C172.1 294.1 176.0 289.0 178.0 287.0 C180.0 285.0 181.2 283.9 182.5 283.7 C183.8 283.5 185.3 284.0 186.0 286.0 C186.7 288.0 189.4 300.6 190.5 307.6 C191.6 314.6 192.3 321.1 192.8 328.2 C193.3 335.3 193.3 339.1 193.5 350.0 C193.7 360.9 193.8 383.3 194.0 400.0 C194.2 416.7 194.5 450.0 194.5 450.0 C194.5 450.0 99.7 450.0 99.7 450.0Z" fill="#0034ff"/><path d="M219.0 450.0 C219.0 450.0 219.7 412.5 220.0 400.0 C220.3 387.5 220.5 385.6 220.8 375.0 C221.1 364.4 221.0 347.0 221.7 336.3 C222.4 325.6 223.7 317.2 225.1 310.7 C226.5 304.1 228.5 300.1 230.2 297.0 C231.9 293.9 233.4 292.8 235.4 291.8 C237.4 290.8 239.9 290.7 242.2 291.0 C244.5 291.3 247.2 291.8 249.1 293.6 C250.9 295.5 252.3 297.8 253.3 302.1 C254.3 306.4 254.4 313.5 255.1 319.2 C255.8 324.9 256.9 328.5 257.6 336.3 C258.3 344.1 258.6 362.4 259.3 366.0 C260.0 369.6 261.1 360.1 262.0 358.0 C262.9 355.9 263.2 355.6 264.5 353.4 C265.8 351.2 267.8 346.3 269.6 344.9 C271.5 343.5 273.9 343.5 275.6 344.9 C277.3 346.3 279.0 348.7 279.9 353.4 C280.8 358.1 280.8 367.2 281.6 375.0 C282.4 382.8 283.4 387.5 284.5 400.0 C285.6 412.5 288.5 450.0 288.5 450.0 C288.5 450.0 219.0 450.0 219.0 450.0Z" fill="#0034ff"/><path d="M325.2 450.0 C325.2 450.0 325.5 387.5 325.6 380.0 C325.7 372.5 325.1 368.6 326.3 365.1 C327.5 361.6 330.2 359.2 332.6 358.8 C335.0 358.4 339.2 359.5 340.9 363.0 C342.5 366.5 342.1 373.8 342.5 380.0 C342.9 386.2 343.0 390.0 343.0 400.0 C343.0 410.0 342.5 450.0 342.5 450.0 C342.5 450.0 325.2 450.0 325.2 450.0Z" fill="#0034ff"/><path d="M567.0 450.0 C567.0 450.0 567.3 442.8 567.7 435.6 C568.1 428.4 568.7 412.5 569.2 405.0 C569.7 397.5 569.9 394.0 570.5 390.0 C571.1 386.0 572.2 382.1 572.8 381.0 C573.4 379.9 574.5 380.9 575.0 382.0 C575.5 383.1 577.1 388.7 578.0 392.0 C578.9 395.3 579.5 397.1 580.5 402.0 C581.5 406.9 582.9 415.9 584.0 421.4 C585.1 426.9 586.3 430.2 587.0 435.0 C587.7 439.8 588.0 450.0 588.0 450.0 C588.0 450.0 567.0 450.0 567.0 450.0Z" fill="#0034ff"/><path d="M610.0 450.0 C610.0 450.0 610.5 433.0 611.0 426.0 C611.5 419.0 611.8 412.1 613.0 408.0 C614.2 403.9 616.0 402.5 618.0 401.0 C620.0 399.5 623.0 400.5 625.0 399.0 C627.0 397.5 627.8 395.5 630.0 392.0 C632.2 388.5 636.7 380.1 638.4 378.0 C640.1 375.9 642.4 378.2 643.3 375.6 C644.2 373.0 645.0 362.3 645.8 357.2 C646.6 352.1 647.2 346.2 648.2 345.0 C649.2 343.8 650.8 347.0 651.9 349.9 C653.0 352.8 654.8 362.1 656.8 367.0 C658.8 371.9 661.8 376.4 664.2 379.3 C666.7 382.2 668.6 382.6 671.5 384.2 C674.4 385.8 678.4 387.9 681.3 389.1 C684.2 390.3 687.1 388.0 688.7 391.5 C690.3 395.0 690.5 400.7 691.0 410.0 C691.5 419.3 692.0 450.0 692.0 450.0 C692.0 450.0 610.0 450.0 610.0 450.0Z" fill="#0034ff"/><path d="M729.0 450.0 C729.0 450.0 729.3 405.1 729.5 400.0 C729.7 394.9 729.9 392.5 731.0 390.0 C732.1 387.5 734.2 385.3 736.0 385.0 C737.8 384.7 740.7 385.5 742.0 388.0 C743.3 390.5 743.8 393.9 744.0 400.0 C744.2 406.1 744.0 450.0 744.0 450.0 C744.0 450.0 729.0 450.0 729.0 450.0Z" fill="#0034ff"/><path d="M784.5 450.0 C784.5 450.0 784.7 441.9 783.7 439.0 C782.7 436.1 780.9 433.2 778.6 432.7 C776.4 432.2 772.7 437.0 770.2 436.0 C767.7 435.0 764.1 430.3 763.4 426.8 C762.7 423.3 764.2 418.7 766.0 415.0 C767.8 411.3 770.6 408.9 773.9 404.8 C777.1 400.7 782.1 395.7 785.5 390.4 C788.9 385.1 791.2 377.8 794.1 373.0 C797.0 368.2 800.5 363.3 802.8 361.5 C805.1 359.7 806.9 359.1 808.6 361.5 C810.3 363.9 811.8 368.5 812.9 375.9 C814.0 383.3 815.1 398.2 815.8 410.6 C816.5 423.0 817.3 450.0 817.3 450.0 C817.3 450.0 784.5 450.0 784.5 450.0Z" fill="#0034ff"/><path d="M852.0 450.0 C852.0 450.0 851.8 420.5 852.0 418.0 C852.2 415.5 853.8 413.7 855.0 414.0 C856.2 414.3 857.9 416.6 859.0 420.0 C860.1 423.4 861.2 430.0 862.0 435.0 C862.8 440.0 863.5 450.0 863.5 450.0 C863.5 450.0 852.0 450.0 852.0 450.0Z" fill="#0034ff"/><path d="M1186.0 325.0 C1184.9 320.9 1184.3 310.2 1185.0 305.0 C1185.7 299.8 1187.8 296.7 1190.0 294.0 C1192.2 291.3 1195.0 290.0 1198.0 289.0 C1201.0 288.0 1208.0 288.0 1208.0 288.0 C1208.0 288.0 1208.0 326.0 1208.0 326.0 C1208.0 326.0 1202.7 330.2 1200.0 331.0 C1197.3 331.8 1194.3 332.0 1192.0 331.0 C1189.7 330.0 1187.1 329.1 1186.0 325.0Z" fill="#0034ff"/><path d="M1116.0 372.0 C1115.5 368.4 1116.2 359.7 1117.0 355.0 C1117.8 350.3 1119.5 346.2 1121.0 344.0 C1122.5 341.8 1124.7 341.0 1126.0 342.0 C1127.3 343.0 1128.4 346.2 1129.0 350.0 C1129.6 353.8 1129.8 360.5 1129.5 365.0 C1129.2 369.5 1128.6 374.8 1127.0 377.0 C1125.4 379.2 1121.8 378.8 1120.0 378.0 C1118.2 377.2 1116.5 375.6 1116.0 372.0Z" fill="#0034ff"/><path d="M1108.0 450.0 C1108.0 450.0 1108.4 428.6 1109.0 425.0 C1109.6 421.4 1111.5 419.0 1113.0 419.0 C1114.5 419.0 1117.3 421.2 1118.0 425.0 C1118.7 428.8 1119.0 450.0 1119.0 450.0 C1119.0 450.0 1108.0 450.0 1108.0 450.0Z" fill="#0034ff"/><path d="M924.0 450.0 C924.0 450.0 924.3 422.3 925.0 412.0 C925.7 401.7 926.7 394.7 928.0 388.0 C929.3 381.3 931.0 376.2 933.0 372.0 C935.0 367.8 937.9 364.6 940.0 363.0 C942.1 361.4 943.8 362.7 945.5 362.5 C947.2 362.3 948.8 360.1 950.5 362.0 C952.2 363.9 954.1 368.7 956.0 374.0 C957.9 379.3 959.9 388.8 961.6 394.0 C963.3 399.2 964.8 402.2 966.0 405.0 C967.2 407.8 967.9 408.5 969.0 411.0 C970.1 413.5 971.9 416.0 972.7 420.0 C973.5 424.0 973.6 430.0 974.0 435.0 C974.4 440.0 975.0 450.0 975.0 450.0 C975.0 450.0 924.0 450.0 924.0 450.0Z" fill="#0034ff"/><path d="M978.0 450.0 C978.0 450.0 977.6 427.8 978.2 422.0 C978.8 416.2 980.9 413.8 981.9 411.0 C982.9 408.2 983.6 405.5 984.5 405.0 C985.4 404.5 986.2 407.0 987.0 408.0 C987.8 409.0 988.7 409.2 989.3 411.0 C989.9 412.8 992.0 421.0 993.0 427.5 C994.0 434.0 995.0 450.0 995.0 450.0 C995.0 450.0 978.0 450.0 978.0 450.0Z" fill="#0034ff"/><path d="M1009.0 450.0 C1009.0 450.0 1009.2 412.7 1010.0 400.0 C1010.8 387.3 1011.8 381.1 1013.6 373.6 C1015.4 366.1 1018.8 356.5 1020.7 355.1 C1022.6 353.7 1024.3 359.7 1025.0 365.0 C1025.7 370.3 1026.3 385.8 1027.0 400.0 C1027.7 414.2 1029.0 450.0 1029.0 450.0 C1029.0 450.0 1009.0 450.0 1009.0 450.0Z" fill="#0034ff"/><path d="M1047.5 450.0 C1047.5 450.0 1047.6 402.6 1048.0 395.0 C1048.4 387.4 1049.8 383.0 1051.0 380.0 C1052.2 377.0 1054.5 376.0 1056.0 376.0 C1057.5 376.0 1059.1 377.3 1060.0 380.0 C1060.9 382.7 1061.7 387.4 1062.0 395.0 C1062.3 402.6 1063.0 450.0 1063.0 450.0 C1063.0 450.0 1047.5 450.0 1047.5 450.0Z" fill="#0034ff"/><path d="M160.0 450.0 C160.0 450.0 161.1 444.5 161.4 439.0 C161.7 433.5 163.2 396.8 164.4 379.4 C165.6 362.0 167.4 342.6 168.8 334.7 C170.2 326.8 172.9 321.9 174.8 319.8 C176.7 317.7 178.8 320.5 180.0 322.0 C181.2 323.5 181.8 325.2 182.2 328.7 C182.6 332.2 183.4 348.1 184.0 360.0 C184.6 371.9 185.1 385.0 185.5 400.0 C185.9 415.0 186.5 450.0 186.5 450.0 C186.5 450.0 160.0 450.0 160.0 450.0Z" fill="#0080ff"/><path d="M221.0 450.0 C221.0 450.0 221.3 412.5 222.0 400.0 C222.7 387.5 224.4 384.2 225.1 375.0 C225.8 365.8 225.4 352.8 226.0 344.9 C226.6 337.0 227.2 333.2 228.5 327.8 C229.8 322.4 232.3 314.9 233.7 312.4 C235.1 309.9 237.0 309.8 238.8 309.8 C240.7 309.8 243.2 309.6 244.8 312.4 C246.4 315.2 248.1 321.0 249.1 327.8 C250.1 334.6 250.2 345.5 250.8 353.4 C251.4 361.3 251.6 369.8 252.5 375.0 C253.4 380.2 254.4 384.2 256.0 385.0 C257.6 385.8 260.0 382.8 262.0 380.0 C264.0 377.2 266.0 370.4 268.0 368.0 C270.0 365.6 272.6 366.1 273.9 365.4 C275.2 364.7 275.5 362.8 276.4 363.7 C277.2 364.6 277.9 367.1 279.0 370.6 C280.1 374.1 282.0 380.1 283.0 385.0 C284.0 389.9 284.6 392.4 285.0 400.0 C285.4 407.6 286.5 450.0 286.5 450.0 C286.5 450.0 221.0 450.0 221.0 450.0Z" fill="#0080ff"/><path d="M325.8 450.0 C325.8 450.0 325.8 391.6 326.0 385.0 C326.2 378.4 326.8 374.8 328.0 372.0 C329.2 369.2 331.0 368.0 333.0 368.0 C335.0 368.0 338.5 368.3 340.0 372.0 C341.5 375.7 341.8 380.9 342.0 390.0 C342.2 399.1 342.0 450.0 342.0 450.0 C342.0 450.0 325.8 450.0 325.8 450.0Z" fill="#0080ff"/><path d="M577.0 450.0 C577.0 450.0 577.1 437.2 577.5 434.0 C577.9 430.8 579.1 428.3 580.0 428.0 C580.9 427.7 582.5 429.6 583.0 432.0 C583.5 434.4 584.5 450.0 584.5 450.0 C584.5 450.0 577.0 450.0 577.0 450.0Z" fill="#0080ff"/><path d="M628.0 450.0 C628.0 450.0 629.2 433.5 629.9 425.8 C630.6 418.1 630.9 409.9 632.3 403.8 C633.7 397.7 636.1 392.6 638.4 389.1 C640.6 385.6 643.5 385.1 645.8 383.0 C648.0 380.9 649.9 377.0 651.9 376.8 C653.9 376.6 656.0 378.8 658.0 381.7 C660.0 384.6 662.0 391.1 664.2 394.0 C666.5 396.9 668.6 396.9 671.5 398.9 C674.4 400.9 678.8 403.3 681.3 406.2 C683.8 409.1 685.0 411.9 686.2 416.0 C687.4 420.1 688.2 425.0 688.7 430.7 C689.2 436.4 689.5 450.0 689.5 450.0 C689.5 450.0 628.0 450.0 628.0 450.0Z" fill="#0080ff"/><path d="M736.0 432.0 C735.1 428.4 736.1 409.2 736.5 405.0 C736.9 400.8 738.0 397.8 739.0 397.0 C740.0 396.2 741.9 397.8 742.5 400.0 C743.1 402.2 743.8 409.7 744.0 415.0 C744.2 420.3 744.8 429.2 743.5 432.0 C742.2 434.8 736.9 435.6 736.0 432.0Z" fill="#0080ff"/><path d="M785.0 450.0 C785.0 450.0 783.5 431.6 783.0 425.0 C782.5 418.4 781.4 414.9 782.0 410.6 C782.6 406.3 784.5 403.8 786.5 399.0 C788.5 394.2 791.4 386.0 794.1 381.7 C796.8 377.4 800.6 375.4 802.8 373.0 C805.0 370.6 805.9 365.9 807.1 367.3 C808.3 368.8 809.5 374.4 810.0 381.7 C810.5 389.0 812.9 450.0 812.9 450.0 C812.9 450.0 785.0 450.0 785.0 450.0Z" fill="#0080ff"/><path d="M935.0 450.0 C935.0 450.0 934.1 432.1 935.2 426.0 C936.3 419.9 939.2 416.5 941.6 413.3 C944.0 410.1 947.6 409.1 949.5 407.0 C951.4 404.9 951.6 400.1 952.7 400.6 C953.8 401.1 955.0 405.1 956.0 410.0 C957.0 414.9 958.3 423.3 959.0 430.0 C959.7 436.7 960.0 450.0 960.0 450.0 C960.0 450.0 935.0 450.0 935.0 450.0Z" fill="#0080ff"/><path d="M1019.0 450.0 C1019.0 450.0 1019.3 422.3 1020.0 418.0 C1020.7 413.7 1023.3 411.0 1025.0 411.0 C1026.7 411.0 1029.3 413.7 1030.0 418.0 C1030.7 422.3 1031.0 450.0 1031.0 450.0 C1031.0 450.0 1019.0 450.0 1019.0 450.0Z" fill="#0080ff"/><path d="M978.0 450.0 C978.0 450.0 979.0 435.1 980.0 432.0 C981.0 428.9 983.7 426.7 985.0 428.0 C986.3 429.3 987.5 436.3 988.0 440.0 C988.5 443.7 988.0 450.0 988.0 450.0 C988.0 450.0 978.0 450.0 978.0 450.0Z" fill="#0080ff"/><path d="M1049.5 450.0 C1049.5 450.0 1049.7 411.1 1050.0 405.0 C1050.3 398.9 1051.3 395.0 1052.0 393.0 C1052.7 391.0 1053.9 389.7 1055.0 390.0 C1056.1 390.3 1057.7 392.1 1058.5 395.0 C1059.3 397.9 1060.2 402.4 1060.5 410.0 C1060.8 417.6 1061.0 450.0 1061.0 450.0 C1061.0 450.0 1049.5 450.0 1049.5 450.0Z" fill="#0080ff"/><path d="M166.0 450.0 C166.0 450.0 167.1 444.5 167.3 439.0 C167.5 433.5 168.1 391.3 168.8 385.3 C169.5 379.3 172.8 375.9 174.8 374.9 C176.8 373.9 179.7 375.8 180.7 379.4 C181.7 383.0 181.7 389.7 182.0 400.0 C182.3 410.3 182.5 450.0 182.5 450.0 C182.5 450.0 166.0 450.0 166.0 450.0Z" fill="#00c8ff"/><path d="M225.0 450.0 C225.0 450.0 225.6 397.2 226.0 390.0 C226.4 382.8 228.3 378.8 229.5 376.0 C230.7 373.2 233.1 374.9 234.0 372.0 C234.9 369.1 234.9 359.4 235.4 356.9 C235.9 354.4 237.2 352.6 238.0 352.6 C238.8 352.6 240.1 354.4 240.5 356.9 C240.9 359.4 239.5 368.5 241.0 372.0 C242.5 375.5 247.0 375.5 249.5 377.8 C252.0 380.1 254.3 382.3 256.0 386.0 C257.7 389.7 259.1 392.8 259.5 400.0 C259.9 407.2 259.8 450.0 259.8 450.0 C259.8 450.0 225.0 450.0 225.0 450.0Z" fill="#00c8ff"/><path d="M271.7 450.0 C271.7 450.0 271.8 399.0 272.0 390.0 C272.2 381.0 272.4 375.5 273.0 372.0 C273.6 368.5 274.7 365.2 276.2 365.6 C277.7 366.0 280.5 369.4 281.8 374.5 C283.1 379.6 283.5 385.6 284.0 396.7 C284.5 407.8 285.1 450.0 285.1 450.0 C285.1 450.0 271.7 450.0 271.7 450.0Z" fill="#00c8ff"/><path d="M326.3 450.0 C326.3 450.0 326.2 385.3 326.3 381.8 C326.4 378.3 328.0 376.3 329.4 375.6 C330.8 374.9 332.9 376.7 334.6 377.7 C336.4 378.7 338.9 378.6 339.9 381.8 C340.9 385.0 341.3 390.9 341.5 400.0 C341.7 409.1 341.5 450.0 341.5 450.0 C341.5 450.0 326.3 450.0 326.3 450.0Z" fill="#00c8ff"/><path d="M640.9 450.0 C640.9 450.0 641.3 420.9 642.1 411.1 C642.9 401.4 644.7 394.8 645.8 391.5 C646.9 388.2 648.9 387.0 650.7 386.6 C652.5 386.2 655.0 387.1 656.8 389.1 C658.6 391.2 659.7 396.0 661.7 398.9 C663.8 401.8 666.7 403.3 669.1 406.2 C671.5 409.1 674.4 412.7 676.4 416.0 C678.4 419.3 680.1 420.4 681.3 425.8 C682.5 431.2 683.8 450.0 683.8 450.0 C683.8 450.0 640.9 450.0 640.9 450.0Z" fill="#00c8ff"/><path d="M791.2 450.0 C791.2 450.0 790.8 401.7 791.2 396.2 C791.6 390.7 793.4 388.4 795.6 386.0 C797.8 383.6 802.3 381.4 804.2 381.7 C806.1 381.9 806.9 384.3 807.1 387.5 C807.3 390.7 808.6 450.0 808.6 450.0 C808.6 450.0 791.2 450.0 791.2 450.0Z" fill="#00c8ff"/><path d="M944.8 450.0 C944.8 450.0 946.8 428.1 947.9 422.9 C949.0 417.7 951.4 412.9 952.7 413.3 C954.1 413.7 955.2 419.0 956.0 425.0 C956.8 431.0 957.5 450.0 957.5 450.0 C957.5 450.0 944.8 450.0 944.8 450.0Z" fill="#00c8ff"/><path d="M1052.5 450.0 C1052.5 450.0 1052.5 420.9 1052.7 418.0 C1052.9 415.1 1054.1 413.0 1055.0 412.7 C1055.9 412.4 1057.8 413.8 1058.0 416.0 C1058.2 418.2 1059.0 450.0 1059.0 450.0 C1059.0 450.0 1052.5 450.0 1052.5 450.0Z" fill="#00c8ff"/><path d="M171.5 450.0 C171.5 450.0 171.5 429.3 171.8 420.0 C172.1 410.7 173.0 395.9 173.3 394.3 C173.6 392.7 175.7 394.4 176.0 396.0 C176.3 397.6 177.2 411.0 177.5 420.0 C177.8 429.0 178.0 450.0 178.0 450.0 C178.0 450.0 171.5 450.0 171.5 450.0Z" fill="#23ffd4"/><path d="M231.7 450.0 C231.7 450.0 232.7 389.8 232.8 387.8 C232.9 385.8 235.0 385.6 236.1 385.6 C237.2 385.6 239.2 385.8 239.5 387.8 C239.8 389.8 240.4 408.6 240.6 419.0 C240.8 429.4 240.6 450.0 240.6 450.0 C240.6 450.0 231.7 450.0 231.7 450.0Z" fill="#23ffd4"/><path d="M274.5 450.0 C274.5 450.0 274.8 405.1 275.0 400.0 C275.2 394.9 276.2 390.8 277.0 390.0 C277.8 389.2 279.2 392.2 279.5 395.0 C279.8 397.8 280.4 410.8 280.6 420.0 C280.8 429.2 280.8 450.0 280.8 450.0 C280.8 450.0 274.5 450.0 274.5 450.0Z" fill="#23ffd4"/><path d="M329.4 404.0 C329.1 402.8 330.3 397.3 331.0 396.5 C331.7 395.7 333.4 397.8 333.6 399.0 C333.9 400.2 333.2 403.2 332.5 404.0 C331.8 404.8 329.6 405.2 329.4 404.0Z" fill="#23ffd4"/><path d="M655.6 433.0 C655.1 431.7 656.0 426.5 656.5 425.0 C657.0 423.5 658.3 422.5 659.0 423.0 C659.7 423.5 660.4 426.3 660.5 428.0 C660.6 429.7 660.3 432.2 659.5 433.0 C658.7 433.8 656.1 434.3 655.6 433.0Z" fill="#23ffd4"/><path d="M694.9 413.7 C695.2 410.8 697.6 408.8 699.0 407.0 C700.4 405.2 700.9 403.9 703.4 403.1 C705.9 402.3 710.8 402.4 714.0 402.0 C717.2 401.6 720.6 400.1 722.6 401.0 C724.6 401.9 724.9 403.9 725.7 407.3 C726.5 410.7 727.4 417.3 727.9 424.4 C728.4 431.5 729.0 450.0 729.0 450.0 C729.0 450.0 702.3 450.0 702.3 450.0 C702.3 450.0 702.2 439.3 701.3 435.0 C700.4 430.7 698.1 427.9 697.0 424.4 C695.9 420.8 694.6 416.6 694.9 413.7Z" fill="#fff"/><path d="M1065.8 450.0 C1065.8 450.0 1065.9 392.3 1066.0 390.0 C1066.1 387.7 1067.0 385.6 1067.5 385.6 C1068.0 385.6 1068.9 387.7 1069.0 390.0 C1069.1 392.3 1069.2 450.0 1069.2 450.0 C1069.2 450.0 1065.8 450.0 1065.8 450.0Z" fill="#fff"/><path d="M80.0 446.6 L85.0 445.5 L150.0 445.0 L156.8 445.0 L164.8 442.0 L176.7 440.0 L184.7 442.0 L196.7 442.0 L208.6 441.0 L220.6 439.0 L232.6 441.0 L244.5 442.0 L260.5 442.0 L274.4 444.0 L284.4 443.0 L294.4 443.0 L304.3 444.0 L314.3 444.5 L324.3 443.0 L345.0 440.0 L365.0 439.5 L381.0 440.0 L385.0 441.5 L395.0 443.0 L424.8 442.3 L444.7 442.0 L464.6 442.3 L476.6 440.0 L486.6 438.0 L492.6 435.6 L498.5 438.0 L504.0 442.0 L510.0 443.0 L516.5 441.0 L526.5 437.0 L534.4 434.0 L540.4 436.0 L546.4 439.0 L554.4 433.0 L564.3 434.0 L574.3 432.0 L584.3 435.0 L594.3 437.0 L600.0 436.0 L606.0 430.0 L614.0 425.0 L622.0 430.0 L630.0 435.0 L640.0 437.0 L652.0 434.0 L660.0 437.0 L668.0 434.0 L678.0 429.0 L686.0 432.0 L694.0 438.0 L702.7 443.0 L715.0 440.0 L727.0 437.0 L733.0 436.5 L740.6 436.0 L748.0 439.0 L752.0 443.0 L753.0 446.0 L800.0 446.0 L820.0 445.0 L840.0 444.5 L855.0 440.0 L859.0 437.0 L865.0 436.0 L871.0 439.0 L874.0 446.0 L882.0 446.0 L884.0 440.0 L891.0 438.0 L901.0 440.0 L915.0 441.0 L935.0 443.0 L945.0 445.0 L960.0 446.3 L1210.0 446.3 L1210.0 450.0 L80.0 450.0Z" fill="#000"/><line x1="85.5" x2="1203.5" y1="446.50" y2="446.50" stroke="#b0b0b0" stroke-width="1.1"/><line x1="85.5" x2="1203.5" y1="407.50" y2="407.50" stroke="#b0b0b0" stroke-width="1.1"/><line x1="85.5" x2="1203.5" y1="369.50" y2="369.50" stroke="#b0b0b0" stroke-width="1.1"/><line x1="85.5" x2="1203.5" y1="330.50" y2="330.50" stroke="#b0b0b0" stroke-width="1.1"/><line x1="85.5" x2="1203.5" y1="292.50" y2="292.50" stroke="#b0b0b0" stroke-width="1.1"/><line x1="85.5" x2="1203.5" y1="253.50" y2="253.50" stroke="#b0b0b0" stroke-width="1.1"/><line x1="85.5" x2="1203.5" y1="215.50" y2="215.50" stroke="#b0b0b0" stroke-width="1.1"/><line x1="85.5" x2="1203.5" y1="176.50" y2="176.50" stroke="#b0b0b0" stroke-width="1.1"/><line x1="85.5" x2="1203.5" y1="138.50" y2="138.50" stroke="#b0b0b0" stroke-width="1.1"/><line x1="85.5" x2="1203.5" y1="99.50" y2="99.50" stroke="#b0b0b0" stroke-width="1.1"/><line x1="85.5" x2="1203.5" y1="61.50" y2="61.50" stroke="#b0b0b0" stroke-width="1.1"/><path d="M96.5 450.0 C96.5 450.0 96.4 429.5 96.5 425.0 C96.6 420.5 96.5 417.6 97.0 416.0 C97.5 414.4 98.3 414.6 100.0 414.5 C101.7 414.4 111.3 414.2 114.3 414.8 C117.3 415.4 117.8 417.8 119.2 418.4 C120.6 419.0 121.6 419.1 122.8 418.4 C124.0 417.7 125.3 416.3 126.5 414.2 C127.7 412.1 128.9 407.6 130.1 405.7 C131.3 403.8 132.4 403.4 133.8 402.6 C135.2 401.8 137.4 402.0 138.6 400.8 C139.8 399.6 140.1 396.3 141.1 395.3 C142.1 394.3 143.7 394.4 144.7 394.7 C145.7 395.0 146.2 397.6 147.1 397.2 C148.0 396.8 149.8 395.0 150.2 392.0 C150.6 389.0 151.2 373.5 150.6 369.8 C150.0 366.1 146.9 366.0 145.8 364.1 C144.7 362.2 144.6 360.6 144.0 358.4 C143.4 356.2 142.6 353.9 142.0 350.8 C141.4 347.7 140.6 344.9 140.3 340.0 C140.0 335.1 140.3 330.1 140.3 321.3 C140.3 312.5 140.1 296.9 140.3 287.0 C140.5 277.1 140.9 269.0 141.4 262.0 C141.9 255.0 142.6 251.0 143.2 245.0 C143.8 239.0 144.3 233.7 144.8 225.9 C145.3 218.2 146.0 206.9 146.4 198.5 C146.8 190.1 146.8 183.3 147.1 175.7 C147.4 168.1 147.6 158.1 148.3 152.8 C149.0 147.5 150.4 145.1 151.7 142.6 C153.0 140.1 155.0 138.6 156.3 138.0 C157.6 137.4 158.9 137.5 159.7 139.1 C160.5 140.7 163.2 146.7 164.2 152.8 C165.1 158.9 165.3 168.1 165.4 175.7 C165.5 183.3 164.9 190.9 164.7 198.5 C164.5 206.1 164.1 214.8 164.2 221.3 C164.3 227.8 165.1 234.1 165.4 237.3 C165.7 240.5 165.6 240.9 166.5 243.7 C167.4 246.5 170.1 252.5 171.1 254.0 C172.1 255.5 173.5 256.6 174.5 255.1 C175.5 253.6 176.7 246.3 178.0 243.7 C179.3 241.1 181.0 239.8 182.5 239.6 C184.0 239.4 185.5 240.4 187.0 242.6 C188.5 244.8 190.1 249.2 191.6 252.8 C193.1 256.4 194.9 260.4 196.2 264.2 C197.5 268.0 198.6 271.1 199.6 275.7 C200.6 280.3 201.3 285.9 201.9 291.6 C202.5 297.3 202.7 303.5 203.0 309.9 C203.3 316.3 203.9 321.6 204.0 330.0 C204.1 338.4 203.6 348.3 203.5 360.0 C203.4 371.7 203.2 388.3 203.5 400.0 C203.8 411.7 204.2 421.7 205.0 430.0 C205.8 438.3 208.0 450.0 208.0 450.0 C208.0 450.0 96.5 450.0 96.5 450.0Z" fill="none" stroke="#000" stroke-width="2.1" stroke-linejoin="round"/><path d="M210.4 450.0 C210.4 450.0 210.7 416.7 211.0 400.0 C211.3 383.3 211.8 364.7 212.2 350.0 C212.6 335.3 212.5 321.1 213.3 312.0 C214.1 302.9 215.3 299.1 216.8 294.0 C218.3 288.9 220.4 285.5 222.5 281.4 C224.6 277.3 227.0 272.4 229.2 269.5 C231.4 266.6 232.0 265.0 235.5 264.0 C239.0 263.0 246.6 262.7 250.1 263.5 C253.6 264.3 254.9 266.7 256.4 268.8 C257.9 270.9 257.9 272.8 259.0 276.3 C260.1 279.8 261.8 283.8 262.7 289.7 C263.6 295.6 264.3 309.5 264.6 312.0 C264.9 314.5 264.8 315.6 266.2 316.7 C267.6 317.8 270.7 317.1 273.0 318.4 C275.3 319.7 278.0 321.7 279.9 324.4 C281.8 327.1 283.0 330.9 284.1 334.6 C285.2 338.3 285.8 340.5 286.7 346.6 C287.6 352.7 289.1 366.1 290.1 375.0 C291.1 383.9 291.5 387.5 292.5 400.0 C293.5 412.5 296.0 450.0 296.0 450.0 C296.0 450.0 210.4 450.0 210.4 450.0Z" fill="none" stroke="#000" stroke-width="2.1" stroke-linejoin="round"/><path d="M319.5 450.0 C319.5 450.0 319.5 411.2 320.0 396.8 C320.5 382.4 321.2 371.9 322.3 363.4 C323.4 354.9 324.8 349.4 326.7 345.6 C328.6 341.8 331.4 340.4 333.5 340.5 C335.6 340.6 337.9 342.6 339.5 346.0 C341.1 349.4 342.1 355.0 343.0 361.0 C343.9 367.0 343.2 375.9 345.1 381.8 C347.0 387.7 351.7 391.3 354.5 396.5 C357.3 401.7 360.1 408.0 361.8 413.2 C363.6 418.4 364.2 423.4 365.0 427.9 C365.8 432.4 366.2 436.7 366.5 440.4 C366.8 444.1 367.0 450.0 367.0 450.0 C367.0 450.0 319.5 450.0 319.5 450.0Z" fill="none" stroke="#000" stroke-width="2.1" stroke-linejoin="round"/><path d="M513.0 428.0 C512.7 426.4 512.1 421.6 512.3 419.0 C512.5 416.4 513.0 414.0 514.0 412.5 C515.0 411.0 516.6 410.3 518.0 410.0 C519.4 409.7 521.2 410.0 522.5 410.5 C523.8 411.0 525.2 411.9 525.5 413.0 C525.8 414.1 525.2 416.1 524.5 417.0 C523.8 417.9 521.6 417.8 521.5 418.5 C521.4 419.2 523.3 419.9 524.0 421.0 C524.7 422.1 525.8 423.4 525.5 425.0 C525.2 426.6 523.3 429.5 522.0 430.5 C520.7 431.5 518.8 430.9 517.5 431.0 C516.2 431.1 515.2 431.5 514.5 431.0 C513.8 430.5 513.3 429.6 513.0 428.0Z" fill="none" stroke="#000" stroke-width="2.1" stroke-linejoin="round"/><path d="M527.5 440.0 C526.1 436.7 527.4 424.0 527.5 420.0 C527.6 416.0 527.8 413.7 528.2 412.0 C528.6 410.3 529.3 409.2 530.0 409.0 C530.7 408.8 532.0 409.5 532.5 411.0 C533.0 412.5 533.5 416.5 534.0 420.0 C534.5 423.5 535.2 428.7 535.5 432.0 C535.8 435.3 537.3 438.7 536.0 440.0 C534.7 441.3 528.9 443.3 527.5 440.0Z" fill="none" stroke="#000" stroke-width="2.1" stroke-linejoin="round"/><path d="M549.3 450.0 C549.3 450.0 549.2 415.3 549.3 408.5 C549.4 401.7 549.9 398.4 550.5 395.0 C551.1 391.6 552.0 390.4 552.8 388.0 C553.6 385.6 554.0 382.1 555.1 380.7 C556.2 379.3 558.4 379.1 559.7 379.5 C561.1 379.9 562.0 383.8 563.2 383.0 C564.4 382.2 565.7 377.2 566.7 374.9 C567.7 372.6 568.0 371.0 569.0 369.1 C570.0 367.2 571.3 364.1 572.5 363.3 C573.7 362.5 574.8 363.1 576.0 364.5 C577.2 365.9 578.4 368.7 579.5 371.4 C580.6 374.1 581.8 377.2 582.9 380.7 C584.0 384.2 585.0 388.4 586.4 392.3 C587.8 396.2 589.5 400.4 591.1 403.9 C592.7 407.4 594.4 410.1 595.7 413.2 C597.1 416.3 598.4 419.0 599.2 422.5 C600.0 426.0 600.2 429.5 600.5 434.1 C600.8 438.7 601.0 450.0 601.0 450.0 C601.0 450.0 549.3 450.0 549.3 450.0Z" fill="none" stroke="#000" stroke-width="2.1" stroke-linejoin="round"/><path d="M603.5 450.0 C603.5 450.0 603.6 387.1 604.0 379.0 C604.4 370.9 607.0 365.3 607.8 363.3 C608.6 361.3 610.1 360.7 611.5 360.9 C612.9 361.1 614.6 364.2 616.4 364.6 C618.2 365.0 620.5 363.1 622.5 363.3 C624.5 363.5 626.6 366.0 628.6 365.8 C630.6 365.6 632.9 364.4 634.8 362.1 C636.6 359.9 638.7 357.6 639.7 352.3 C640.7 347.0 640.4 334.2 640.9 330.3 C641.4 326.4 641.9 324.5 643.3 322.9 C644.7 321.3 647.9 320.9 649.5 320.9 C651.1 320.9 652.0 321.1 653.1 322.9 C654.2 324.7 655.6 329.0 656.8 332.7 C658.0 336.4 659.1 340.9 660.5 345.0 C661.9 349.1 663.6 354.3 665.4 357.2 C667.2 360.1 669.1 360.5 671.5 362.1 C673.9 363.7 677.5 366.4 680.0 366.9 C682.5 367.3 684.4 365.7 686.4 364.8 C688.4 363.9 690.3 362.7 691.7 361.6 C693.1 360.5 693.8 358.2 694.9 358.4 C696.0 358.6 697.0 361.3 698.1 362.7 C699.2 364.1 700.4 368.3 701.3 366.9 C702.2 365.5 702.5 357.8 703.4 354.1 C704.3 350.4 705.7 345.7 706.6 344.6 C707.5 343.6 708.1 346.0 708.7 347.8 C709.3 349.6 710.0 354.5 710.9 358.4 C711.8 362.3 712.6 368.9 714.0 371.2 C715.4 373.5 718.0 373.6 719.4 372.2 C720.8 370.8 721.5 365.0 722.6 362.7 C723.7 360.4 724.8 358.8 725.7 358.4 C726.6 358.0 727.3 359.1 727.9 360.5 C728.5 361.9 728.8 366.9 730.0 368.0 C731.2 369.1 733.5 366.5 735.3 366.9 C737.1 367.2 739.0 369.2 740.6 370.1 C742.2 371.0 743.6 370.9 744.9 372.2 C746.1 373.4 747.6 374.5 748.1 377.6 C748.6 380.7 748.9 388.4 749.1 398.8 C749.3 409.2 749.4 435.0 749.5 440.0 C749.6 445.0 750.0 450.0 750.0 450.0 C750.0 450.0 603.5 450.0 603.5 450.0Z" fill="none" stroke="#000" stroke-width="2.1" stroke-linejoin="round"/><path d="M616.0 330.8 C615.6 326.9 615.8 314.0 616.2 308.6 C616.6 303.2 617.5 300.4 618.5 298.0 C619.5 295.6 621.0 294.1 622.5 294.3 C624.0 294.5 626.3 295.8 627.3 299.0 C628.3 302.2 629.2 312.2 629.5 318.0 C629.8 323.8 629.8 329.9 629.0 334.0 C628.2 338.1 626.2 341.8 624.5 342.5 C622.8 343.2 620.4 339.9 619.0 338.0 C617.6 336.1 616.4 334.7 616.0 330.8Z" fill="none" stroke="#000" stroke-width="2.1" stroke-linejoin="round"/><path d="M452.6 289.6 C454.1 288.6 457.0 289.2 458.5 291.8 C460.0 294.4 460.7 299.1 461.4 305.0 C462.1 310.9 462.8 319.7 462.9 327.0 C463.0 334.3 463.1 344.7 462.1 349.0 C461.1 353.3 458.0 355.6 456.3 355.6 C454.6 355.6 452.8 352.9 451.9 349.0 C451.0 345.1 450.1 335.6 449.7 327.0 C449.3 318.4 449.4 302.0 449.7 297.7 C450.0 293.4 451.1 290.6 452.6 289.6Z" fill="none" stroke="#000" stroke-width="2.1" stroke-linejoin="round"/><path d="M761.5 450.0 C761.5 450.0 760.7 431.7 760.0 420.0 C759.3 408.3 758.2 391.7 757.5 380.0 C756.8 368.3 756.0 359.4 755.6 350.0 C755.2 340.6 755.0 329.1 755.3 323.9 C755.6 318.7 756.8 316.3 758.0 313.8 C759.2 311.3 760.6 309.9 762.3 308.9 C764.0 307.9 766.4 307.7 768.1 308.0 C769.8 308.3 771.6 308.4 772.5 310.9 C773.4 313.4 773.7 317.4 773.9 323.9 C774.1 330.4 773.6 362.1 773.9 367.3 C774.2 372.5 775.6 376.4 776.8 377.4 C778.0 378.3 779.6 375.2 781.1 373.0 C782.6 370.8 783.8 368.2 785.5 364.4 C787.2 360.5 789.3 353.8 791.2 349.9 C793.1 346.0 795.8 344.6 797.0 341.2 C798.2 337.8 797.6 331.7 798.5 329.7 C799.4 327.7 801.8 327.7 802.8 329.1 C803.8 330.6 803.2 335.4 804.2 338.4 C805.2 341.4 807.2 344.1 808.6 347.0 C810.0 349.9 811.7 351.0 812.9 355.7 C814.1 360.4 814.3 370.6 815.8 375.9 C817.2 381.2 820.1 381.7 821.6 387.5 C823.1 393.3 823.8 400.2 824.5 410.6 C825.2 421.0 825.9 450.0 825.9 450.0 C825.9 450.0 761.5 450.0 761.5 450.0Z" fill="none" stroke="#000" stroke-width="2.1" stroke-linejoin="round"/><path d="M851.1 450.0 C851.1 450.0 850.8 407.2 851.1 403.8 C851.4 400.4 853.8 399.8 855.9 399.0 C858.0 398.2 861.7 398.2 863.8 399.0 C865.9 399.8 867.3 401.4 868.6 403.8 C869.9 406.2 871.2 408.3 871.7 413.3 C872.2 418.3 873.3 450.0 873.3 450.0 C873.3 450.0 851.1 450.0 851.1 450.0Z" fill="none" stroke="#000" stroke-width="2.1" stroke-linejoin="round"/><path d="M881.3 450.0 C881.3 450.0 883.3 426.7 884.4 422.9 C885.5 419.1 888.1 419.2 890.8 418.1 C893.4 417.0 897.9 416.2 900.3 416.5 C902.7 416.8 903.6 418.3 905.1 419.7 C906.6 421.1 908.5 421.8 909.0 425.0 C909.5 428.2 910.0 450.0 910.0 450.0 C910.0 450.0 881.3 450.0 881.3 450.0Z" fill="none" stroke="#000" stroke-width="2.1" stroke-linejoin="round"/><path d="M908.0 450.0 C908.0 450.0 907.4 427.3 908.3 422.6 C909.2 417.9 913.3 418.4 914.6 415.3 C915.9 412.2 915.1 408.9 916.2 403.8 C917.3 398.7 919.4 391.2 921.0 384.8 C922.6 378.4 923.9 374.2 925.7 365.7 C927.6 357.2 930.0 341.9 932.1 334.0 C934.2 326.1 936.0 322.1 938.4 318.1 C940.8 314.1 943.9 311.7 946.3 310.2 C948.7 308.7 950.8 308.9 952.7 309.2 C954.6 309.4 956.3 309.3 957.5 311.7 C958.7 314.1 959.6 319.1 960.6 324.4 C961.6 329.7 962.7 337.1 963.8 343.5 C964.9 349.9 965.9 357.7 967.0 362.5 C968.1 367.3 969.2 371.6 970.2 372.1 C971.2 372.6 972.8 369.2 973.3 365.7 C973.8 362.2 975.5 341.5 976.3 331.0 C977.1 320.5 977.3 308.1 978.1 302.6 C978.9 297.1 979.8 294.4 981.6 292.0 C983.4 289.6 986.6 288.4 988.7 288.4 C990.8 288.4 991.9 291.1 994.0 292.0 C996.1 292.9 998.7 294.9 1001.1 293.7 C1003.5 292.5 1006.1 288.1 1008.2 284.8 C1010.3 281.6 1011.5 276.9 1013.6 274.2 C1015.7 271.5 1018.3 268.9 1020.7 268.9 C1023.1 268.9 1025.7 270.9 1027.8 274.2 C1029.9 277.4 1031.6 282.5 1033.1 288.4 C1034.6 294.3 1035.7 301.9 1036.6 309.7 C1037.5 317.5 1038.0 326.6 1038.5 335.0 C1039.0 343.4 1039.2 352.2 1039.5 360.0 C1039.8 367.8 1040.2 378.9 1040.5 382.0 C1040.8 385.1 1041.8 388.3 1042.5 388.0 C1043.2 387.7 1043.9 383.8 1044.5 380.0 C1045.1 376.2 1045.2 369.3 1046.0 365.0 C1046.8 360.7 1047.8 356.5 1049.0 354.0 C1050.2 351.5 1051.5 350.7 1053.0 350.0 C1054.5 349.3 1056.3 349.3 1058.0 350.0 C1059.7 350.7 1061.7 352.5 1063.0 354.0 C1064.3 355.5 1064.2 357.0 1065.6 358.9 C1066.9 360.8 1069.7 363.1 1071.1 365.6 C1072.5 368.1 1073.5 373.1 1074.0 374.0 C1074.5 374.9 1075.4 374.6 1076.0 373.8 C1076.6 373.0 1081.0 366.5 1084.0 360.8 C1087.0 355.1 1090.5 343.0 1093.8 339.8 C1097.0 336.6 1100.8 344.4 1103.5 341.4 C1106.2 338.4 1108.4 327.1 1110.0 322.0 C1111.6 316.9 1111.0 313.4 1113.2 310.7 C1115.4 308.0 1120.8 308.5 1122.9 305.9 C1125.0 303.3 1125.5 300.6 1126.0 295.0 C1126.5 289.4 1126.8 273.2 1126.9 263.0 C1127.1 252.8 1126.7 243.3 1126.9 233.5 C1127.1 223.7 1127.4 213.8 1128.0 204.0 C1128.6 194.2 1129.5 182.4 1130.4 174.5 C1131.3 166.6 1132.3 156.8 1133.3 156.8 C1134.3 156.8 1135.3 166.6 1136.3 174.5 C1137.3 182.4 1138.2 194.2 1139.2 204.0 C1140.2 213.8 1141.2 225.6 1142.2 233.5 C1143.2 241.4 1143.9 245.8 1145.1 251.2 C1146.3 256.6 1148.4 263.6 1149.6 266.0 C1150.8 268.4 1152.5 268.9 1154.0 268.9 C1155.5 268.9 1156.9 267.0 1158.4 266.0 C1159.9 265.0 1161.3 263.0 1162.8 263.0 C1164.3 263.0 1165.8 265.5 1167.3 266.0 C1168.8 266.5 1170.2 267.2 1171.7 266.0 C1173.2 264.8 1174.9 261.1 1176.1 258.6 C1177.3 256.1 1177.4 252.7 1179.1 251.2 C1180.8 249.7 1184.0 250.3 1186.4 249.7 C1188.9 249.1 1191.3 247.9 1193.8 247.7 C1196.3 247.4 1198.8 248.1 1201.2 248.2 C1203.6 248.3 1208.0 248.2 1208.0 248.2 C1208.0 248.2 1208.0 356.6 1208.0 356.6 C1208.0 356.6 1191.0 364.4 1184.3 367.3 C1177.6 370.2 1174.0 370.6 1168.1 373.8 C1162.2 377.0 1153.5 380.8 1148.7 386.7 C1143.9 392.6 1141.0 402.1 1139.0 409.3 C1137.0 416.5 1137.0 423.2 1136.5 430.0 C1136.0 436.8 1135.8 450.0 1135.8 450.0 C1135.8 450.0 908.0 450.0 908.0 450.0Z" fill="none" stroke="#000" stroke-width="2.1" stroke-linejoin="round"/><path d="M1148.0 434.0 C1147.8 432.6 1147.7 422.3 1148.0 418.0 C1148.3 413.7 1149.2 410.3 1150.0 408.0 C1150.8 405.7 1152.0 404.0 1153.0 404.0 C1154.0 404.0 1155.2 405.7 1156.0 408.0 C1156.8 410.3 1157.8 414.3 1158.0 418.0 C1158.2 421.7 1157.7 427.0 1157.0 430.0 C1156.3 433.0 1155.2 435.0 1154.0 436.0 C1152.8 437.0 1151.0 436.3 1150.0 436.0 C1149.0 435.7 1148.2 435.4 1148.0 434.0Z" fill="none" stroke="#000" stroke-width="2.1" stroke-linejoin="round"/><path d="M944.7 123.6 C945.5 125.1 945.9 134.2 946.0 141.6 C946.1 149.0 945.9 162.5 945.6 168.2 C945.3 173.9 944.8 178.4 944.3 179.5 C943.8 180.6 942.6 177.3 942.3 174.8 C942.0 172.3 941.2 162.0 941.0 154.9 C940.8 147.8 940.4 137.0 941.0 132.3 C941.6 127.6 943.9 122.0 944.7 123.6Z" fill="none" stroke="#000" stroke-width="2.1" stroke-linejoin="round"/><path d="M202.0 357.5 C202.8 356.5 205.2 358.3 207.0 358.5 C208.8 358.7 212.0 357.4 213.0 358.5 C214.0 359.6 214.0 363.9 213.0 365.0 C212.0 366.1 208.8 365.1 207.0 365.0 C205.2 364.9 202.8 365.8 202.0 364.5 C201.2 363.2 201.2 358.5 202.0 357.5Z" fill="none" stroke="#000" stroke-width="2.1" stroke-linejoin="round"/><path d="M202.0 378.5 C202.8 377.2 205.2 379.3 207.0 379.5 C208.8 379.7 212.0 378.1 213.0 379.5 C214.0 380.9 214.0 386.6 213.0 388.0 C212.0 389.4 208.8 388.1 207.0 388.0 C205.2 387.9 202.8 389.1 202.0 387.5 C201.2 385.9 201.2 379.8 202.0 378.5Z" fill="none" stroke="#000" stroke-width="2.1" stroke-linejoin="round"/><path d="M202.0 402.5 C202.8 400.2 205.2 402.9 207.0 403.0 C208.8 403.1 212.0 400.5 213.0 403.0 C214.0 405.5 214.0 415.6 213.0 418.0 C212.0 420.4 208.8 417.7 207.0 417.5 C205.2 417.3 202.8 419.4 202.0 417.0 C201.2 414.6 201.2 404.8 202.0 402.5Z" fill="none" stroke="#000" stroke-width="2.1" stroke-linejoin="round"/><path d="M202.0 437.5 C202.8 435.5 205.2 437.9 207.0 438.0 C208.8 438.1 212.0 436.0 213.0 438.0 C214.0 440.0 213.0 450.0 213.0 450.0 C213.0 450.0 202.0 450.0 202.0 450.0 C202.0 450.0 201.2 439.5 202.0 437.5Z" fill="none" stroke="#000" stroke-width="2.1" stroke-linejoin="round"/><path d="M98.0 450.0 C98.0 450.0 97.9 434.3 98.0 430.0 C98.1 425.7 97.9 423.2 98.6 421.5 C99.3 419.8 100.2 419.9 102.2 419.7 C104.2 419.5 110.7 419.0 113.1 419.7 C115.5 420.4 114.7 423.4 116.7 423.9 C118.7 424.4 123.1 424.5 125.3 422.7 C127.5 420.9 128.7 415.6 130.1 413.0 C131.5 410.4 132.4 408.1 133.8 406.9 C135.2 405.7 137.0 406.1 138.6 405.7 C140.2 405.3 141.9 404.9 143.5 404.5 C145.1 404.1 147.2 404.0 148.4 403.2 C149.6 402.4 150.4 401.7 150.8 399.6 C151.2 397.5 151.5 389.9 152.0 385.0 C152.5 380.1 153.3 376.7 154.0 370.0 C154.7 363.3 155.4 355.8 156.0 345.0 C156.6 334.2 157.4 306.5 157.4 305.0 C157.4 303.5 155.8 301.6 155.1 303.0 C154.4 304.4 154.1 311.1 152.8 314.5 C151.5 317.9 148.3 322.5 147.1 323.6 C145.9 324.7 145.0 322.9 144.8 321.3 C144.6 319.7 143.7 308.1 143.7 298.5 C143.7 288.9 144.5 271.1 145.0 264.0 C145.5 256.9 146.4 255.7 147.0 250.0 C147.6 244.3 148.1 234.4 148.5 230.0 C148.9 225.6 149.1 225.7 149.4 221.3 C149.7 216.9 150.6 208.4 151.0 198.5 C151.4 188.6 151.2 165.9 151.7 162.0 C152.2 158.1 155.0 156.2 156.3 155.6 C157.6 155.0 159.1 156.4 159.7 158.5 C160.3 160.6 161.6 169.0 162.0 175.7 C162.4 182.4 162.2 190.9 162.0 198.5 C161.8 206.1 161.0 212.7 160.8 221.3 C160.6 229.9 160.8 241.5 160.8 250.0 C160.8 258.5 160.1 269.4 160.8 272.2 C161.5 275.0 164.4 273.4 166.5 273.4 C168.6 273.4 171.7 273.7 173.4 272.2 C175.1 270.7 175.5 266.5 176.8 264.2 C178.1 261.9 180.1 259.2 181.4 258.5 C182.7 257.8 183.7 258.3 184.8 259.7 C185.9 261.1 187.9 263.9 189.4 268.8 C190.9 273.7 192.8 282.5 193.9 289.4 C195.0 296.2 195.6 299.8 196.2 309.9 C196.8 320.0 197.1 335.0 197.5 350.0 C197.9 365.0 197.9 383.3 198.5 400.0 C199.1 416.7 201.0 450.0 201.0 450.0 C201.0 450.0 98.0 450.0 98.0 450.0Z" fill="none" stroke="#000" stroke-width="2.1" stroke-linejoin="round"/><path d="M214.6 450.0 C214.6 450.0 214.8 418.3 215.0 400.0 C215.2 381.7 215.5 355.0 216.0 340.0 C216.5 325.0 216.9 317.8 218.0 310.0 C219.1 302.2 220.9 297.8 222.5 293.0 C224.1 288.2 225.5 283.7 227.3 281.5 C229.1 279.3 230.9 280.2 233.3 279.8 C235.7 279.4 239.7 279.8 241.8 279.4 C243.9 279.0 244.7 277.9 246.1 277.7 C247.5 277.5 249.1 277.5 250.4 278.1 C251.7 278.7 252.8 279.9 253.8 281.5 C254.8 283.1 255.5 285.2 256.4 287.5 C257.3 289.8 258.7 292.6 259.3 295.0 C259.9 297.4 260.0 298.5 260.2 302.1 C260.4 305.7 260.9 330.2 261.0 331.2 C261.1 332.2 261.9 331.7 262.8 332.0 C263.7 332.3 265.3 332.2 267.0 332.9 C268.7 333.6 270.9 334.9 273.0 336.3 C275.1 337.7 278.2 339.2 279.9 341.5 C281.6 343.8 282.5 345.5 283.3 350.0 C284.1 354.5 285.1 366.7 285.9 375.0 C286.7 383.3 287.3 387.5 288.0 400.0 C288.7 412.5 290.0 450.0 290.0 450.0 C290.0 450.0 214.6 450.0 214.6 450.0Z" fill="none" stroke="#000" stroke-width="2.1" stroke-linejoin="round"/><path d="M323.4 450.0 C323.4 450.0 324.0 404.5 324.2 390.0 C324.4 375.5 324.0 365.8 324.5 361.0 C325.0 356.2 326.5 354.3 328.0 352.0 C329.5 349.7 331.6 347.2 333.6 347.3 C335.6 347.4 338.5 349.7 339.9 352.6 C341.3 355.6 341.3 359.6 342.0 365.0 C342.7 370.4 342.7 378.8 344.0 385.0 C345.3 391.2 347.7 396.8 350.0 402.0 C352.3 407.2 356.0 411.3 358.0 416.0 C360.0 420.7 361.2 424.3 362.0 430.0 C362.8 435.7 363.0 450.0 363.0 450.0 C363.0 450.0 323.4 450.0 323.4 450.0Z" fill="none" stroke="#000" stroke-width="2.1" stroke-linejoin="round"/><path d="M347.0 450.0 C347.0 450.0 346.6 429.3 347.0 425.0 C347.4 420.7 348.5 417.8 350.0 417.0 C351.5 416.2 354.0 417.5 356.0 420.0 C358.0 422.5 360.8 427.0 361.8 432.0 C362.8 437.0 362.0 450.0 362.0 450.0 C362.0 450.0 347.0 450.0 347.0 450.0Z" fill="none" stroke="#000" stroke-width="2.1" stroke-linejoin="round"/><path d="M552.8 450.0 C552.8 450.0 552.6 422.4 552.8 413.2 C553.0 404.0 553.4 397.0 553.9 394.6 C554.4 392.2 555.8 391.1 557.4 391.1 C559.0 391.1 561.7 395.6 563.2 394.6 C564.8 393.6 565.5 388.0 566.7 385.3 C567.9 382.6 569.1 379.8 570.2 378.4 C571.4 377.0 572.2 376.0 573.6 377.2 C575.0 378.4 576.8 382.0 578.3 385.3 C579.8 388.6 581.2 392.7 582.9 397.0 C584.6 401.3 587.0 406.6 588.7 410.9 C590.5 415.1 592.0 418.2 593.4 422.5 C594.8 426.8 596.2 431.8 596.9 436.4 C597.6 441.0 597.5 450.0 597.5 450.0 C597.5 450.0 552.8 450.0 552.8 450.0Z" fill="none" stroke="#000" stroke-width="2.1" stroke-linejoin="round"/><path d="M605.5 450.0 C605.5 450.0 605.2 391.8 605.4 386.6 C605.6 381.4 607.9 378.7 609.0 376.8 C610.1 374.9 611.3 374.4 612.7 374.4 C614.1 374.4 616.0 377.0 617.6 376.8 C619.2 376.6 620.5 373.5 622.5 373.1 C624.5 372.7 627.4 375.2 629.9 374.4 C632.4 373.6 635.4 371.1 637.2 368.2 C639.0 365.3 639.9 362.9 640.9 357.2 C641.9 351.5 642.7 335.7 643.3 332.7 C643.9 329.7 645.8 328.4 647.0 327.8 C648.2 327.2 649.7 327.4 650.7 329.0 C651.7 330.6 651.9 333.3 653.1 337.6 C654.3 341.9 656.1 349.9 658.0 354.8 C659.9 359.7 662.0 364.4 664.2 367.0 C666.5 369.6 668.6 369.7 671.5 370.7 C674.4 371.7 678.7 372.7 681.3 373.1 C683.9 373.5 685.5 371.9 687.0 373.0 C688.5 374.1 689.3 376.3 690.0 380.0 C690.7 383.7 691.3 393.3 692.0 400.0 C692.7 406.7 693.5 411.7 694.0 420.0 C694.5 428.3 695.0 450.0 695.0 450.0 C695.0 450.0 605.5 450.0 605.5 450.0Z" fill="none" stroke="#000" stroke-width="2.1" stroke-linejoin="round"/><path d="M704.5 384.0 C704.3 382.0 704.7 365.1 705.0 360.0 C705.3 354.9 706.2 350.7 706.8 350.0 C707.4 349.3 708.2 352.9 708.8 356.0 C709.4 359.1 710.0 365.3 710.5 370.0 C711.0 374.7 712.3 381.8 712.0 384.0 C711.7 386.2 709.2 386.0 708.0 386.0 C706.8 386.0 704.7 386.0 704.5 384.0Z" fill="none" stroke="#000" stroke-width="2.1" stroke-linejoin="round"/><path d="M726.0 450.0 C726.0 450.0 726.3 415.0 726.5 405.0 C726.7 395.0 726.6 389.6 727.0 385.0 C727.4 380.4 728.0 378.2 729.0 376.0 C730.0 373.8 731.5 372.2 733.0 372.0 C734.5 371.8 736.3 374.0 738.0 375.0 C739.7 376.0 741.7 376.3 743.0 378.0 C744.3 379.7 745.6 381.2 746.0 385.0 C746.4 388.8 746.3 399.2 746.5 410.0 C746.7 420.8 747.0 450.0 747.0 450.0 C747.0 450.0 726.0 450.0 726.0 450.0Z" fill="none" stroke="#000" stroke-width="2.1" stroke-linejoin="round"/><path d="M455.0 310.0 C455.8 308.7 458.3 309.9 459.0 312.0 C459.7 314.1 461.2 323.7 461.5 330.0 C461.8 336.3 461.0 347.6 460.5 350.0 C460.0 352.4 457.5 354.7 456.5 353.0 C455.5 351.3 454.9 345.5 454.5 340.0 C454.1 334.5 453.9 325.0 454.0 320.0 C454.1 315.0 454.2 311.3 455.0 310.0Z" fill="none" stroke="#000" stroke-width="2.1" stroke-linejoin="round"/><path d="M763.5 450.0 C763.5 450.0 762.7 415.0 762.0 400.0 C761.3 385.0 760.1 371.7 759.5 360.0 C758.9 348.3 758.3 334.7 758.5 330.0 C758.7 325.3 759.8 323.5 760.9 321.0 C762.0 318.5 763.8 315.7 765.2 315.2 C766.7 314.7 769.0 315.5 769.6 318.1 C770.2 320.7 770.5 330.4 770.5 340.0 C770.5 349.6 769.3 372.3 769.6 375.9 C769.9 379.5 771.7 381.2 773.9 381.7 C776.1 382.2 779.7 381.7 782.6 378.8 C785.5 375.9 788.8 368.7 791.2 364.4 C793.6 360.1 795.3 356.2 797.0 352.8 C798.7 349.4 799.9 344.1 801.4 344.1 C802.9 344.1 804.0 349.4 805.7 352.8 C807.4 356.2 810.0 359.6 811.5 364.4 C813.0 369.2 813.2 376.4 814.4 381.7 C815.6 387.0 818.1 388.7 818.7 396.2 C819.3 403.7 820.1 450.0 820.1 450.0 C820.1 450.0 763.5 450.0 763.5 450.0Z" fill="none" stroke="#000" stroke-width="2.1" stroke-linejoin="round"/><path d="M852.0 450.0 C852.0 450.0 851.8 422.1 852.0 418.0 C852.2 413.9 852.9 411.8 854.0 410.0 C855.1 408.2 856.8 407.6 858.5 407.5 C860.2 407.4 862.4 407.8 864.0 409.5 C865.6 411.2 866.9 413.8 868.0 418.0 C869.1 422.2 870.0 429.7 870.5 435.0 C871.0 440.3 871.0 450.0 871.0 450.0 C871.0 450.0 852.0 450.0 852.0 450.0Z" fill="none" stroke="#000" stroke-width="2.1" stroke-linejoin="round"/><path d="M889.0 450.0 C889.0 450.0 890.0 431.2 891.0 428.0 C892.0 424.8 895.2 424.7 897.0 425.0 C898.8 425.3 901.0 426.6 902.0 430.0 C903.0 433.4 904.0 450.0 904.0 450.0 C904.0 450.0 889.0 450.0 889.0 450.0Z" fill="none" stroke="#000" stroke-width="2.1" stroke-linejoin="round"/><path d="M923.0 450.0 C923.0 450.0 923.6 429.7 924.1 419.7 C924.6 409.7 925.2 398.5 926.0 390.0 C926.8 381.5 927.4 376.6 928.9 368.9 C930.4 361.1 933.2 348.9 935.2 343.5 C937.2 338.1 939.2 336.4 941.6 334.0 C944.0 331.6 947.4 329.2 949.5 329.2 C951.6 329.2 953.3 330.8 954.3 334.0 C955.3 337.2 957.4 351.5 959.0 359.4 C960.6 367.3 962.3 376.5 963.8 381.6 C965.3 386.7 967.0 390.0 968.6 391.1 C970.2 392.2 972.6 390.7 973.3 388.0 C974.0 385.3 975.3 369.7 976.0 360.0 C976.7 350.3 977.1 337.8 977.5 330.0 C977.9 322.2 977.1 317.2 978.1 313.2 C979.1 309.2 981.3 306.7 983.4 306.1 C985.5 305.5 989.0 306.0 990.5 309.7 C992.0 313.4 997.0 339.7 997.6 341.6 C998.2 343.5 1000.2 345.2 1001.1 343.4 C1002.0 341.6 1004.4 330.7 1006.5 323.9 C1008.6 317.1 1011.8 306.7 1013.6 302.6 C1015.4 298.5 1016.8 296.1 1018.9 295.5 C1021.0 294.9 1024.2 296.1 1026.0 299.0 C1027.8 301.9 1028.7 305.9 1029.5 313.2 C1030.3 320.5 1030.7 334.2 1031.3 348.7 C1031.9 363.2 1032.4 383.1 1033.0 400.0 C1033.6 416.9 1035.0 450.0 1035.0 450.0 C1035.0 450.0 923.0 450.0 923.0 450.0Z" fill="none" stroke="#000" stroke-width="2.1" stroke-linejoin="round"/><path d="M1046.0 450.0 C1046.0 450.0 1046.2 400.0 1046.5 390.0 C1046.8 380.0 1047.1 374.4 1048.0 370.0 C1048.9 365.6 1050.5 363.6 1052.0 362.0 C1053.5 360.4 1055.4 360.0 1057.0 360.5 C1058.6 361.0 1060.5 362.0 1061.5 365.0 C1062.5 368.0 1063.2 372.4 1063.5 380.0 C1063.8 387.6 1064.5 450.0 1064.5 450.0 C1064.5 450.0 1046.0 450.0 1046.0 450.0Z" fill="none" stroke="#000" stroke-width="2.1" stroke-linejoin="round"/><path d="M1111.0 450.0 C1111.0 450.0 1110.5 420.8 1109.0 410.0 C1107.5 399.2 1103.2 393.0 1102.0 385.0 C1100.8 377.0 1101.3 369.2 1102.0 362.0 C1102.7 354.8 1104.3 348.2 1106.0 342.0 C1107.7 335.8 1110.0 329.3 1112.0 325.0 C1114.0 320.7 1115.8 318.2 1118.0 316.0 C1120.2 313.8 1123.1 314.7 1125.0 312.0 C1126.9 309.3 1128.8 306.4 1129.5 300.0 C1130.2 293.6 1130.0 270.1 1130.4 260.0 C1130.8 249.9 1131.5 243.9 1131.9 239.4 C1132.3 234.9 1132.6 230.5 1133.3 230.5 C1134.0 230.5 1135.1 234.9 1136.3 239.4 C1137.5 243.9 1140.2 256.1 1142.2 263.0 C1144.2 269.9 1146.1 275.8 1148.1 280.7 C1150.1 285.6 1152.0 290.8 1154.0 292.5 C1156.0 294.2 1157.9 291.0 1159.9 291.0 C1161.9 291.0 1163.8 291.5 1165.8 292.5 C1167.8 293.5 1169.7 296.4 1171.7 296.9 C1173.7 297.4 1175.8 297.9 1177.6 295.4 C1179.4 292.9 1181.5 285.1 1183.5 280.7 C1185.5 276.3 1187.2 271.6 1189.4 268.9 C1191.6 266.2 1193.7 265.0 1196.8 264.5 C1199.9 264.0 1208.0 266.0 1208.0 266.0 C1208.0 266.0 1208.0 344.7 1208.0 344.7 C1208.0 344.7 1193.6 349.0 1187.5 351.1 C1181.4 353.2 1177.3 354.4 1171.4 357.6 C1165.5 360.8 1157.9 367.3 1152.0 370.5 C1146.1 373.7 1139.5 372.9 1135.8 377.0 C1132.1 381.1 1131.0 385.6 1130.0 395.0 C1129.0 404.4 1128.0 450.0 1128.0 450.0 C1128.0 450.0 1111.0 450.0 1111.0 450.0Z" fill="none" stroke="#000" stroke-width="2.1" stroke-linejoin="round"/><path d="M99.7 450.0 C99.7 450.0 99.6 439.0 99.7 435.0 C99.8 431.0 99.6 427.9 100.2 426.0 C100.8 424.1 101.9 423.8 103.4 423.7 C105.0 423.6 107.5 423.5 109.5 425.1 C111.5 426.8 113.7 432.1 115.5 433.6 C117.3 435.1 118.7 433.8 120.4 434.2 C122.2 434.6 124.6 437.0 126.0 436.0 C127.4 435.0 127.9 431.8 129.0 428.0 C130.1 424.2 131.7 414.7 132.6 413.0 C133.5 411.3 134.4 413.8 136.2 414.2 C138.0 414.6 141.3 414.4 143.5 415.4 C145.7 416.4 148.0 420.1 149.6 420.3 C151.2 420.5 152.2 418.5 153.2 416.6 C154.2 414.7 155.1 412.9 155.5 409.0 C155.9 405.1 156.2 394.8 156.5 385.0 C156.8 375.2 156.8 361.7 157.0 350.0 C157.2 338.3 157.2 320.1 157.5 315.0 C157.8 309.9 158.7 307.5 160.0 305.0 C161.3 302.5 163.7 301.5 165.4 300.0 C167.1 298.5 167.9 298.3 170.0 296.2 C172.1 294.1 176.0 289.0 178.0 287.0 C180.0 285.0 181.2 283.9 182.5 283.7 C183.8 283.5 185.3 284.0 186.0 286.0 C186.7 288.0 189.4 300.6 190.5 307.6 C191.6 314.6 192.3 321.1 192.8 328.2 C193.3 335.3 193.3 339.1 193.5 350.0 C193.7 360.9 193.8 383.3 194.0 400.0 C194.2 416.7 194.5 450.0 194.5 450.0 C194.5 450.0 99.7 450.0 99.7 450.0Z" fill="none" stroke="#000" stroke-width="2.1" stroke-linejoin="round"/><path d="M219.0 450.0 C219.0 450.0 219.7 412.5 220.0 400.0 C220.3 387.5 220.5 385.6 220.8 375.0 C221.1 364.4 221.0 347.0 221.7 336.3 C222.4 325.6 223.7 317.2 225.1 310.7 C226.5 304.1 228.5 300.1 230.2 297.0 C231.9 293.9 233.4 292.8 235.4 291.8 C237.4 290.8 239.9 290.7 242.2 291.0 C244.5 291.3 247.2 291.8 249.1 293.6 C250.9 295.5 252.3 297.8 253.3 302.1 C254.3 306.4 254.4 313.5 255.1 319.2 C255.8 324.9 256.9 328.5 257.6 336.3 C258.3 344.1 258.6 362.4 259.3 366.0 C260.0 369.6 261.1 360.1 262.0 358.0 C262.9 355.9 263.2 355.6 264.5 353.4 C265.8 351.2 267.8 346.3 269.6 344.9 C271.5 343.5 273.9 343.5 275.6 344.9 C277.3 346.3 279.0 348.7 279.9 353.4 C280.8 358.1 280.8 367.2 281.6 375.0 C282.4 382.8 283.4 387.5 284.5 400.0 C285.6 412.5 288.5 450.0 288.5 450.0 C288.5 450.0 219.0 450.0 219.0 450.0Z" fill="none" stroke="#000" stroke-width="2.1" stroke-linejoin="round"/><path d="M325.2 450.0 C325.2 450.0 325.5 387.5 325.6 380.0 C325.7 372.5 325.1 368.6 326.3 365.1 C327.5 361.6 330.2 359.2 332.6 358.8 C335.0 358.4 339.2 359.5 340.9 363.0 C342.5 366.5 342.1 373.8 342.5 380.0 C342.9 386.2 343.0 390.0 343.0 400.0 C343.0 410.0 342.5 450.0 342.5 450.0 C342.5 450.0 325.2 450.0 325.2 450.0Z" fill="none" stroke="#000" stroke-width="2.1" stroke-linejoin="round"/><path d="M567.0 450.0 C567.0 450.0 567.3 442.8 567.7 435.6 C568.1 428.4 568.7 412.5 569.2 405.0 C569.7 397.5 569.9 394.0 570.5 390.0 C571.1 386.0 572.2 382.1 572.8 381.0 C573.4 379.9 574.5 380.9 575.0 382.0 C575.5 383.1 577.1 388.7 578.0 392.0 C578.9 395.3 579.5 397.1 580.5 402.0 C581.5 406.9 582.9 415.9 584.0 421.4 C585.1 426.9 586.3 430.2 587.0 435.0 C587.7 439.8 588.0 450.0 588.0 450.0 C588.0 450.0 567.0 450.0 567.0 450.0Z" fill="none" stroke="#000" stroke-width="2.1" stroke-linejoin="round"/><path d="M610.0 450.0 C610.0 450.0 610.5 433.0 611.0 426.0 C611.5 419.0 611.8 412.1 613.0 408.0 C614.2 403.9 616.0 402.5 618.0 401.0 C620.0 399.5 623.0 400.5 625.0 399.0 C627.0 397.5 627.8 395.5 630.0 392.0 C632.2 388.5 636.7 380.1 638.4 378.0 C640.1 375.9 642.4 378.2 643.3 375.6 C644.2 373.0 645.0 362.3 645.8 357.2 C646.6 352.1 647.2 346.2 648.2 345.0 C649.2 343.8 650.8 347.0 651.9 349.9 C653.0 352.8 654.8 362.1 656.8 367.0 C658.8 371.9 661.8 376.4 664.2 379.3 C666.7 382.2 668.6 382.6 671.5 384.2 C674.4 385.8 678.4 387.9 681.3 389.1 C684.2 390.3 687.1 388.0 688.7 391.5 C690.3 395.0 690.5 400.7 691.0 410.0 C691.5 419.3 692.0 450.0 692.0 450.0 C692.0 450.0 610.0 450.0 610.0 450.0Z" fill="none" stroke="#000" stroke-width="2.1" stroke-linejoin="round"/><path d="M729.0 450.0 C729.0 450.0 729.3 405.1 729.5 400.0 C729.7 394.9 729.9 392.5 731.0 390.0 C732.1 387.5 734.2 385.3 736.0 385.0 C737.8 384.7 740.7 385.5 742.0 388.0 C743.3 390.5 743.8 393.9 744.0 400.0 C744.2 406.1 744.0 450.0 744.0 450.0 C744.0 450.0 729.0 450.0 729.0 450.0Z" fill="none" stroke="#000" stroke-width="2.1" stroke-linejoin="round"/><path d="M784.5 450.0 C784.5 450.0 784.7 441.9 783.7 439.0 C782.7 436.1 780.9 433.2 778.6 432.7 C776.4 432.2 772.7 437.0 770.2 436.0 C767.7 435.0 764.1 430.3 763.4 426.8 C762.7 423.3 764.2 418.7 766.0 415.0 C767.8 411.3 770.6 408.9 773.9 404.8 C777.1 400.7 782.1 395.7 785.5 390.4 C788.9 385.1 791.2 377.8 794.1 373.0 C797.0 368.2 800.5 363.3 802.8 361.5 C805.1 359.7 806.9 359.1 808.6 361.5 C810.3 363.9 811.8 368.5 812.9 375.9 C814.0 383.3 815.1 398.2 815.8 410.6 C816.5 423.0 817.3 450.0 817.3 450.0 C817.3 450.0 784.5 450.0 784.5 450.0Z" fill="none" stroke="#000" stroke-width="2.1" stroke-linejoin="round"/><path d="M1108.0 450.0 C1108.0 450.0 1108.4 428.6 1109.0 425.0 C1109.6 421.4 1111.5 419.0 1113.0 419.0 C1114.5 419.0 1117.3 421.2 1118.0 425.0 C1118.7 428.8 1119.0 450.0 1119.0 450.0 C1119.0 450.0 1108.0 450.0 1108.0 450.0Z" fill="none" stroke="#000" stroke-width="2.1" stroke-linejoin="round"/><path d="M924.0 450.0 C924.0 450.0 924.3 422.3 925.0 412.0 C925.7 401.7 926.7 394.7 928.0 388.0 C929.3 381.3 931.0 376.2 933.0 372.0 C935.0 367.8 937.9 364.6 940.0 363.0 C942.1 361.4 943.8 362.7 945.5 362.5 C947.2 362.3 948.8 360.1 950.5 362.0 C952.2 363.9 954.1 368.7 956.0 374.0 C957.9 379.3 959.9 388.8 961.6 394.0 C963.3 399.2 964.8 402.2 966.0 405.0 C967.2 407.8 967.9 408.5 969.0 411.0 C970.1 413.5 971.9 416.0 972.7 420.0 C973.5 424.0 973.6 430.0 974.0 435.0 C974.4 440.0 975.0 450.0 975.0 450.0 C975.0 450.0 924.0 450.0 924.0 450.0Z" fill="none" stroke="#000" stroke-width="2.1" stroke-linejoin="round"/><path d="M978.0 450.0 C978.0 450.0 977.6 427.8 978.2 422.0 C978.8 416.2 980.9 413.8 981.9 411.0 C982.9 408.2 983.6 405.5 984.5 405.0 C985.4 404.5 986.2 407.0 987.0 408.0 C987.8 409.0 988.7 409.2 989.3 411.0 C989.9 412.8 992.0 421.0 993.0 427.5 C994.0 434.0 995.0 450.0 995.0 450.0 C995.0 450.0 978.0 450.0 978.0 450.0Z" fill="none" stroke="#000" stroke-width="2.1" stroke-linejoin="round"/><path d="M1047.5 450.0 C1047.5 450.0 1047.6 402.6 1048.0 395.0 C1048.4 387.4 1049.8 383.0 1051.0 380.0 C1052.2 377.0 1054.5 376.0 1056.0 376.0 C1057.5 376.0 1059.1 377.3 1060.0 380.0 C1060.9 382.7 1061.7 387.4 1062.0 395.0 C1062.3 402.6 1063.0 450.0 1063.0 450.0 C1063.0 450.0 1047.5 450.0 1047.5 450.0Z" fill="none" stroke="#000" stroke-width="2.1" stroke-linejoin="round"/><path d="M160.0 450.0 C160.0 450.0 161.1 444.5 161.4 439.0 C161.7 433.5 163.2 396.8 164.4 379.4 C165.6 362.0 167.4 342.6 168.8 334.7 C170.2 326.8 172.9 321.9 174.8 319.8 C176.7 317.7 178.8 320.5 180.0 322.0 C181.2 323.5 181.8 325.2 182.2 328.7 C182.6 332.2 183.4 348.1 184.0 360.0 C184.6 371.9 185.1 385.0 185.5 400.0 C185.9 415.0 186.5 450.0 186.5 450.0 C186.5 450.0 160.0 450.0 160.0 450.0Z" fill="none" stroke="#000" stroke-width="2.1" stroke-linejoin="round"/><path d="M221.0 450.0 C221.0 450.0 221.3 412.5 222.0 400.0 C222.7 387.5 224.4 384.2 225.1 375.0 C225.8 365.8 225.4 352.8 226.0 344.9 C226.6 337.0 227.2 333.2 228.5 327.8 C229.8 322.4 232.3 314.9 233.7 312.4 C235.1 309.9 237.0 309.8 238.8 309.8 C240.7 309.8 243.2 309.6 244.8 312.4 C246.4 315.2 248.1 321.0 249.1 327.8 C250.1 334.6 250.2 345.5 250.8 353.4 C251.4 361.3 251.6 369.8 252.5 375.0 C253.4 380.2 254.4 384.2 256.0 385.0 C257.6 385.8 260.0 382.8 262.0 380.0 C264.0 377.2 266.0 370.4 268.0 368.0 C270.0 365.6 272.6 366.1 273.9 365.4 C275.2 364.7 275.5 362.8 276.4 363.7 C277.2 364.6 277.9 367.1 279.0 370.6 C280.1 374.1 282.0 380.1 283.0 385.0 C284.0 389.9 284.6 392.4 285.0 400.0 C285.4 407.6 286.5 450.0 286.5 450.0 C286.5 450.0 221.0 450.0 221.0 450.0Z" fill="none" stroke="#000" stroke-width="2.1" stroke-linejoin="round"/><path d="M325.8 450.0 C325.8 450.0 325.8 391.6 326.0 385.0 C326.2 378.4 326.8 374.8 328.0 372.0 C329.2 369.2 331.0 368.0 333.0 368.0 C335.0 368.0 338.5 368.3 340.0 372.0 C341.5 375.7 341.8 380.9 342.0 390.0 C342.2 399.1 342.0 450.0 342.0 450.0 C342.0 450.0 325.8 450.0 325.8 450.0Z" fill="none" stroke="#000" stroke-width="2.1" stroke-linejoin="round"/><path d="M628.0 450.0 C628.0 450.0 629.2 433.5 629.9 425.8 C630.6 418.1 630.9 409.9 632.3 403.8 C633.7 397.7 636.1 392.6 638.4 389.1 C640.6 385.6 643.5 385.1 645.8 383.0 C648.0 380.9 649.9 377.0 651.9 376.8 C653.9 376.6 656.0 378.8 658.0 381.7 C660.0 384.6 662.0 391.1 664.2 394.0 C666.5 396.9 668.6 396.9 671.5 398.9 C674.4 400.9 678.8 403.3 681.3 406.2 C683.8 409.1 685.0 411.9 686.2 416.0 C687.4 420.1 688.2 425.0 688.7 430.7 C689.2 436.4 689.5 450.0 689.5 450.0 C689.5 450.0 628.0 450.0 628.0 450.0Z" fill="none" stroke="#000" stroke-width="2.1" stroke-linejoin="round"/><path d="M736.0 432.0 C735.1 428.4 736.1 409.2 736.5 405.0 C736.9 400.8 738.0 397.8 739.0 397.0 C740.0 396.2 741.9 397.8 742.5 400.0 C743.1 402.2 743.8 409.7 744.0 415.0 C744.2 420.3 744.8 429.2 743.5 432.0 C742.2 434.8 736.9 435.6 736.0 432.0Z" fill="none" stroke="#000" stroke-width="2.1" stroke-linejoin="round"/><path d="M785.0 450.0 C785.0 450.0 783.5 431.6 783.0 425.0 C782.5 418.4 781.4 414.9 782.0 410.6 C782.6 406.3 784.5 403.8 786.5 399.0 C788.5 394.2 791.4 386.0 794.1 381.7 C796.8 377.4 800.6 375.4 802.8 373.0 C805.0 370.6 805.9 365.9 807.1 367.3 C808.3 368.8 809.5 374.4 810.0 381.7 C810.5 389.0 812.9 450.0 812.9 450.0 C812.9 450.0 785.0 450.0 785.0 450.0Z" fill="none" stroke="#000" stroke-width="2.1" stroke-linejoin="round"/><path d="M1049.5 450.0 C1049.5 450.0 1049.7 411.1 1050.0 405.0 C1050.3 398.9 1051.3 395.0 1052.0 393.0 C1052.7 391.0 1053.9 389.7 1055.0 390.0 C1056.1 390.3 1057.7 392.1 1058.5 395.0 C1059.3 397.9 1060.2 402.4 1060.5 410.0 C1060.8 417.6 1061.0 450.0 1061.0 450.0 C1061.0 450.0 1049.5 450.0 1049.5 450.0Z" fill="none" stroke="#000" stroke-width="2.1" stroke-linejoin="round"/><path d="M166.0 450.0 C166.0 450.0 167.1 444.5 167.3 439.0 C167.5 433.5 168.1 391.3 168.8 385.3 C169.5 379.3 172.8 375.9 174.8 374.9 C176.8 373.9 179.7 375.8 180.7 379.4 C181.7 383.0 181.7 389.7 182.0 400.0 C182.3 410.3 182.5 450.0 182.5 450.0 C182.5 450.0 166.0 450.0 166.0 450.0Z" fill="none" stroke="#000" stroke-width="2.1" stroke-linejoin="round"/><path d="M225.0 450.0 C225.0 450.0 225.6 397.2 226.0 390.0 C226.4 382.8 228.3 378.8 229.5 376.0 C230.7 373.2 233.1 374.9 234.0 372.0 C234.9 369.1 234.9 359.4 235.4 356.9 C235.9 354.4 237.2 352.6 238.0 352.6 C238.8 352.6 240.1 354.4 240.5 356.9 C240.9 359.4 239.5 368.5 241.0 372.0 C242.5 375.5 247.0 375.5 249.5 377.8 C252.0 380.1 254.3 382.3 256.0 386.0 C257.7 389.7 259.1 392.8 259.5 400.0 C259.9 407.2 259.8 450.0 259.8 450.0 C259.8 450.0 225.0 450.0 225.0 450.0Z" fill="none" stroke="#000" stroke-width="2.1" stroke-linejoin="round"/><path d="M271.7 450.0 C271.7 450.0 271.8 399.0 272.0 390.0 C272.2 381.0 272.4 375.5 273.0 372.0 C273.6 368.5 274.7 365.2 276.2 365.6 C277.7 366.0 280.5 369.4 281.8 374.5 C283.1 379.6 283.5 385.6 284.0 396.7 C284.5 407.8 285.1 450.0 285.1 450.0 C285.1 450.0 271.7 450.0 271.7 450.0Z" fill="none" stroke="#000" stroke-width="2.1" stroke-linejoin="round"/><path d="M326.3 450.0 C326.3 450.0 326.2 385.3 326.3 381.8 C326.4 378.3 328.0 376.3 329.4 375.6 C330.8 374.9 332.9 376.7 334.6 377.7 C336.4 378.7 338.9 378.6 339.9 381.8 C340.9 385.0 341.3 390.9 341.5 400.0 C341.7 409.1 341.5 450.0 341.5 450.0 C341.5 450.0 326.3 450.0 326.3 450.0Z" fill="none" stroke="#000" stroke-width="2.1" stroke-linejoin="round"/><path d="M640.9 450.0 C640.9 450.0 641.3 420.9 642.1 411.1 C642.9 401.4 644.7 394.8 645.8 391.5 C646.9 388.2 648.9 387.0 650.7 386.6 C652.5 386.2 655.0 387.1 656.8 389.1 C658.6 391.2 659.7 396.0 661.7 398.9 C663.8 401.8 666.7 403.3 669.1 406.2 C671.5 409.1 674.4 412.7 676.4 416.0 C678.4 419.3 680.1 420.4 681.3 425.8 C682.5 431.2 683.8 450.0 683.8 450.0 C683.8 450.0 640.9 450.0 640.9 450.0Z" fill="none" stroke="#000" stroke-width="2.1" stroke-linejoin="round"/><path d="M791.2 450.0 C791.2 450.0 790.8 401.7 791.2 396.2 C791.6 390.7 793.4 388.4 795.6 386.0 C797.8 383.6 802.3 381.4 804.2 381.7 C806.1 381.9 806.9 384.3 807.1 387.5 C807.3 390.7 808.6 450.0 808.6 450.0 C808.6 450.0 791.2 450.0 791.2 450.0Z" fill="none" stroke="#000" stroke-width="2.1" stroke-linejoin="round"/><path d="M1052.5 450.0 C1052.5 450.0 1052.5 420.9 1052.7 418.0 C1052.9 415.1 1054.1 413.0 1055.0 412.7 C1055.9 412.4 1057.8 413.8 1058.0 416.0 C1058.2 418.2 1059.0 450.0 1059.0 450.0 C1059.0 450.0 1052.5 450.0 1052.5 450.0Z" fill="none" stroke="#000" stroke-width="2.1" stroke-linejoin="round"/><path d="M171.5 450.0 C171.5 450.0 171.5 429.3 171.8 420.0 C172.1 410.7 173.0 395.9 173.3 394.3 C173.6 392.7 175.7 394.4 176.0 396.0 C176.3 397.6 177.2 411.0 177.5 420.0 C177.8 429.0 178.0 450.0 178.0 450.0 C178.0 450.0 171.5 450.0 171.5 450.0Z" fill="none" stroke="#000" stroke-width="2.1" stroke-linejoin="round"/><path d="M231.7 450.0 C231.7 450.0 232.7 389.8 232.8 387.8 C232.9 385.8 235.0 385.6 236.1 385.6 C237.2 385.6 239.2 385.8 239.5 387.8 C239.8 389.8 240.4 408.6 240.6 419.0 C240.8 429.4 240.6 450.0 240.6 450.0 C240.6 450.0 231.7 450.0 231.7 450.0Z" fill="none" stroke="#000" stroke-width="2.1" stroke-linejoin="round"/><path d="M274.5 450.0 C274.5 450.0 274.8 405.1 275.0 400.0 C275.2 394.9 276.2 390.8 277.0 390.0 C277.8 389.2 279.2 392.2 279.5 395.0 C279.8 397.8 280.4 410.8 280.6 420.0 C280.8 429.2 280.8 450.0 280.8 450.0 C280.8 450.0 274.5 450.0 274.5 450.0Z" fill="none" stroke="#000" stroke-width="2.1" stroke-linejoin="round"/><path d="M329.4 404.0 C329.1 402.8 330.3 397.3 331.0 396.5 C331.7 395.7 333.4 397.8 333.6 399.0 C333.9 400.2 333.2 403.2 332.5 404.0 C331.8 404.8 329.6 405.2 329.4 404.0Z" fill="none" stroke="#000" stroke-width="2.1" stroke-linejoin="round"/><path d="M655.6 433.0 C655.1 431.7 656.0 426.5 656.5 425.0 C657.0 423.5 658.3 422.5 659.0 423.0 C659.7 423.5 660.4 426.3 660.5 428.0 C660.6 429.7 660.3 432.2 659.5 433.0 C658.7 433.8 656.1 434.3 655.6 433.0Z" fill="none" stroke="#000" stroke-width="2.1" stroke-linejoin="round"/><path d="M694.9 413.7 C695.2 410.8 697.6 408.8 699.0 407.0 C700.4 405.2 700.9 403.9 703.4 403.1 C705.9 402.3 710.8 402.4 714.0 402.0 C717.2 401.6 720.6 400.1 722.6 401.0 C724.6 401.9 724.9 403.9 725.7 407.3 C726.5 410.7 727.4 417.3 727.9 424.4 C728.4 431.5 729.0 450.0 729.0 450.0 C729.0 450.0 702.3 450.0 702.3 450.0 C702.3 450.0 702.2 439.3 701.3 435.0 C700.4 430.7 698.1 427.9 697.0 424.4 C695.9 420.8 694.6 416.6 694.9 413.7Z" fill="none" stroke="#000" stroke-width="2.1" stroke-linejoin="round"/><path d="M1065.8 450.0 C1065.8 450.0 1065.9 392.3 1066.0 390.0 C1066.1 387.7 1067.0 385.6 1067.5 385.6 C1068.0 385.6 1068.9 387.7 1069.0 390.0 C1069.1 392.3 1069.2 450.0 1069.2 450.0 C1069.2 450.0 1065.8 450.0 1065.8 450.0Z" fill="none" stroke="#000" stroke-width="2.1" stroke-linejoin="round"/><text x="152.8" y="240.0" transform="rotate(-90 152.8 235.9)" font-family="'Liberation Sans', sans-serif" font-size="11.6" text-anchor="middle" textLength="26.0" lengthAdjust="spacingAndGlyphs" fill="#000">15.0</text><text x="149.5" y="264.6" transform="rotate(0 149.5 260.5)" font-family="'Liberation Sans', sans-serif" font-size="11.6" text-anchor="middle" textLength="26.0" lengthAdjust="spacingAndGlyphs" fill="#000">15.0</text><text x="205.3" y="315.1" transform="rotate(90 205.3 311)" font-family="'Liberation Sans', sans-serif" font-size="11.6" text-anchor="middle" textLength="18.6" lengthAdjust="spacingAndGlyphs" fill="#000">5.0</text><text x="178.9" y="424.3" transform="rotate(90 178.9 420.2)" font-family="'Liberation Sans', sans-serif" font-size="11.6" text-anchor="middle" textLength="26.0" lengthAdjust="spacingAndGlyphs" fill="#000">30.0</text><text x="192.3" y="363.1" transform="rotate(90 192.3 359)" font-family="'Liberation Sans', sans-serif" font-size="11.6" text-anchor="middle" textLength="26.0" lengthAdjust="spacingAndGlyphs" fill="#000">10.0</text><text x="193.4" y="385.1" transform="rotate(90 193.4 381)" font-family="'Liberation Sans', sans-serif" font-size="11.6" text-anchor="middle" textLength="26.0" lengthAdjust="spacingAndGlyphs" fill="#000">15.0</text><text x="192" y="405.1" transform="rotate(90 192 401)" font-family="'Liberation Sans', sans-serif" font-size="11.6" text-anchor="middle" textLength="26.0" lengthAdjust="spacingAndGlyphs" fill="#000">20.0</text><text x="191" y="422.1" transform="rotate(90 191 418)" font-family="'Liberation Sans', sans-serif" font-size="11.6" text-anchor="middle" textLength="26.0" lengthAdjust="spacingAndGlyphs" fill="#000">25.0</text><text x="106.4" y="438.9" transform="rotate(50 106.4 434.8)" font-family="'Liberation Sans', sans-serif" font-size="11.6" text-anchor="middle" textLength="26.0" lengthAdjust="spacingAndGlyphs" fill="#000">20.0</text><text x="278" y="327.1" transform="rotate(55 278 323)" font-family="'Liberation Sans', sans-serif" font-size="11.6" text-anchor="middle" textLength="18.6" lengthAdjust="spacingAndGlyphs" fill="#000">5.0</text><text x="288.5" y="361.1" transform="rotate(70 288.5 357)" font-family="'Liberation Sans', sans-serif" font-size="11.6" text-anchor="middle" textLength="26.0" lengthAdjust="spacingAndGlyphs" fill="#000">10.0</text><text x="256" y="403.1" transform="rotate(90 256 399)" font-family="'Liberation Sans', sans-serif" font-size="11.6" text-anchor="middle" textLength="26.0" lengthAdjust="spacingAndGlyphs" fill="#000">25.0</text><text x="240" y="417.1" transform="rotate(90 240 413)" font-family="'Liberation Sans', sans-serif" font-size="11.6" text-anchor="middle" textLength="26.0" lengthAdjust="spacingAndGlyphs" fill="#000">30.0</text><text x="269.5" y="427.1" transform="rotate(90 269.5 423)" font-family="'Liberation Sans', sans-serif" font-size="11.6" text-anchor="middle" textLength="26.0" lengthAdjust="spacingAndGlyphs" fill="#000">20.0</text><text x="284" y="423.1" transform="rotate(90 284 419)" font-family="'Liberation Sans', sans-serif" font-size="11.6" text-anchor="middle" textLength="26.0" lengthAdjust="spacingAndGlyphs" fill="#000">30.0</text><text x="329" y="415.1" transform="rotate(-90 329 411)" font-family="'Liberation Sans', sans-serif" font-size="11.6" text-anchor="middle" textLength="26.0" lengthAdjust="spacingAndGlyphs" fill="#000">30.0</text><text x="341" y="410.1" transform="rotate(-90 341 406)" font-family="'Liberation Sans', sans-serif" font-size="11.6" text-anchor="middle" textLength="26.0" lengthAdjust="spacingAndGlyphs" fill="#000">20.0</text><text x="352" y="399.1" transform="rotate(55 352 395)" font-family="'Liberation Sans', sans-serif" font-size="11.6" text-anchor="middle" textLength="18.6" lengthAdjust="spacingAndGlyphs" fill="#000">5.0</text><text x="407.5" y="424.1" transform="rotate(-90 407.5 420)" font-family="'Liberation Sans', sans-serif" font-size="11.6" text-anchor="middle" textLength="18.6" lengthAdjust="spacingAndGlyphs" fill="#000">5.0</text><text x="439" y="429.8" transform="rotate(90 439 425.7)" font-family="'Liberation Sans', sans-serif" font-size="11.6" text-anchor="middle" textLength="18.6" lengthAdjust="spacingAndGlyphs" fill="#000">5.0</text><text x="489" y="429.1" transform="rotate(-90 489 425)" font-family="'Liberation Sans', sans-serif" font-size="11.6" text-anchor="middle" textLength="18.6" lengthAdjust="spacingAndGlyphs" fill="#000">5.0</text><text x="532" y="424.1" transform="rotate(90 532 420)" font-family="'Liberation Sans', sans-serif" font-size="11.6" text-anchor="middle" textLength="26.0" lengthAdjust="spacingAndGlyphs" fill="#000">15.0</text><text x="444" y="306.1" transform="rotate(-90 444 302)" font-family="'Liberation Sans', sans-serif" font-size="11.6" text-anchor="middle" textLength="18.6" lengthAdjust="spacingAndGlyphs" fill="#000">5.0</text><text x="466" y="332.1" transform="rotate(90 466 328)" font-family="'Liberation Sans', sans-serif" font-size="11.6" text-anchor="middle" textLength="18.6" lengthAdjust="spacingAndGlyphs" fill="#000">5.0</text><text x="517" y="269.1" transform="rotate(90 517 265)" font-family="'Liberation Sans', sans-serif" font-size="11.6" text-anchor="middle" textLength="18.6" lengthAdjust="spacingAndGlyphs" fill="#000">5.0</text><text x="595.5" y="412.7" transform="rotate(65 595.5 408.6)" font-family="'Liberation Sans', sans-serif" font-size="11.6" text-anchor="middle" textLength="18.6" lengthAdjust="spacingAndGlyphs" fill="#000">5.0</text><text x="586" y="434.1" transform="rotate(70 586 430)" font-family="'Liberation Sans', sans-serif" font-size="11.6" text-anchor="middle" textLength="14.9" lengthAdjust="spacingAndGlyphs" fill="#000">20</text><text x="631" y="322.9" transform="rotate(90 631 318.8)" font-family="'Liberation Sans', sans-serif" font-size="11.6" text-anchor="middle" textLength="18.6" lengthAdjust="spacingAndGlyphs" fill="#000">5.0</text><text x="634" y="387.1" transform="rotate(-60 634 383)" font-family="'Liberation Sans', sans-serif" font-size="11.6" text-anchor="middle" textLength="26.0" lengthAdjust="spacingAndGlyphs" fill="#000">10.0</text><text x="640" y="409.1" transform="rotate(-75 640 405)" font-family="'Liberation Sans', sans-serif" font-size="11.6" text-anchor="middle" textLength="26.0" lengthAdjust="spacingAndGlyphs" fill="#000">20.0</text><text x="654" y="412.1" transform="rotate(90 654 408)" font-family="'Liberation Sans', sans-serif" font-size="11.6" text-anchor="middle" textLength="26.0" lengthAdjust="spacingAndGlyphs" fill="#000">25.0</text><text x="645" y="429.1" transform="rotate(-80 645 425)" font-family="'Liberation Sans', sans-serif" font-size="11.6" text-anchor="middle" textLength="26.0" lengthAdjust="spacingAndGlyphs" fill="#000">20.0</text><text x="660" y="434.1" transform="rotate(90 660 430)" font-family="'Liberation Sans', sans-serif" font-size="11.6" text-anchor="middle" textLength="26.0" lengthAdjust="spacingAndGlyphs" fill="#000">25.0</text><text x="700" y="395.1" transform="rotate(90 700 391)" font-family="'Liberation Sans', sans-serif" font-size="11.6" text-anchor="middle" textLength="26.0" lengthAdjust="spacingAndGlyphs" fill="#000">10.0</text><text x="713" y="430.1" transform="rotate(90 713 426)" font-family="'Liberation Sans', sans-serif" font-size="11.6" text-anchor="middle" textLength="18.6" lengthAdjust="spacingAndGlyphs" fill="#000">5.0</text><text x="740" y="424.1" transform="rotate(90 740 420)" font-family="'Liberation Sans', sans-serif" font-size="11.6" text-anchor="middle" textLength="26.0" lengthAdjust="spacingAndGlyphs" fill="#000">20.0</text><text x="746.8" y="338.7" transform="rotate(0 746.8 334.6)" font-family="'Liberation Sans', sans-serif" font-size="11.6" text-anchor="middle" textLength="18.6" lengthAdjust="spacingAndGlyphs" fill="#000">5.0</text><text x="754" y="376.1" transform="rotate(90 754 372)" font-family="'Liberation Sans', sans-serif" font-size="11.6" text-anchor="middle" textLength="18.6" lengthAdjust="spacingAndGlyphs" fill="#000">5.0</text><text x="755" y="396.1" transform="rotate(90 755 392)" font-family="'Liberation Sans', sans-serif" font-size="11.6" text-anchor="middle" textLength="26.0" lengthAdjust="spacingAndGlyphs" fill="#000">10.0</text><text x="754" y="414.1" transform="rotate(90 754 410)" font-family="'Liberation Sans', sans-serif" font-size="11.6" text-anchor="middle" textLength="26.0" lengthAdjust="spacingAndGlyphs" fill="#000">15.0</text><text x="787" y="417.6" transform="rotate(-90 787 413.5)" font-family="'Liberation Sans', sans-serif" font-size="11.6" text-anchor="middle" textLength="26.0" lengthAdjust="spacingAndGlyphs" fill="#000">25.0</text><text x="812" y="429.1" transform="rotate(90 812 425)" font-family="'Liberation Sans', sans-serif" font-size="11.6" text-anchor="middle" textLength="26.0" lengthAdjust="spacingAndGlyphs" fill="#000">20.0</text><text x="944.2" y="156.3" transform="rotate(-90 944.2 152.2)" font-family="'Liberation Sans', sans-serif" font-size="11.6" text-anchor="middle" textLength="18.6" lengthAdjust="spacingAndGlyphs" fill="#000">5.0</text><text x="849" y="432.1" transform="rotate(-90 849 428)" font-family="'Liberation Sans', sans-serif" font-size="11.6" text-anchor="middle" textLength="18.6" lengthAdjust="spacingAndGlyphs" fill="#000">5.0</text><text x="894" y="437.1" transform="rotate(-60 894 433)" font-family="'Liberation Sans', sans-serif" font-size="11.6" text-anchor="middle" textLength="26.0" lengthAdjust="spacingAndGlyphs" fill="#000">10.0</text><text x="934.5" y="333.1" transform="rotate(-60 934.5 329)" font-family="'Liberation Sans', sans-serif" font-size="11.6" text-anchor="middle" textLength="18.6" lengthAdjust="spacingAndGlyphs" fill="#000">5.0</text><text x="924" y="366.1" transform="rotate(-90 924 362)" font-family="'Liberation Sans', sans-serif" font-size="11.6" text-anchor="middle" textLength="26.0" lengthAdjust="spacingAndGlyphs" fill="#000">10.0</text><text x="929.7" y="403.1" transform="rotate(-75 929.7 399)" font-family="'Liberation Sans', sans-serif" font-size="11.6" text-anchor="middle" textLength="26.0" lengthAdjust="spacingAndGlyphs" fill="#000">15.0</text><text x="941.5" y="425.1" transform="rotate(-60 941.5 421)" font-family="'Liberation Sans', sans-serif" font-size="11.6" text-anchor="middle" textLength="26.0" lengthAdjust="spacingAndGlyphs" fill="#000">20.0</text><text x="951" y="439.1" transform="rotate(-60 951 435)" font-family="'Liberation Sans', sans-serif" font-size="11.6" text-anchor="middle" textLength="26.0" lengthAdjust="spacingAndGlyphs" fill="#000">25.0</text><text x="1015" y="400.1" transform="rotate(60 1015 396)" font-family="'Liberation Sans', sans-serif" font-size="11.6" text-anchor="middle" textLength="26.0" lengthAdjust="spacingAndGlyphs" fill="#000">15.0</text><text x="1011" y="444.1" transform="rotate(0 1011 440)" font-family="'Liberation Sans', sans-serif" font-size="11.6" text-anchor="middle" textLength="26.0" lengthAdjust="spacingAndGlyphs" fill="#000">10.0</text><text x="982" y="441.1" transform="rotate(-90 982 437)" font-family="'Liberation Sans', sans-serif" font-size="11.6" text-anchor="middle" textLength="26.0" lengthAdjust="spacingAndGlyphs" fill="#000">20.0</text><text x="1108" y="323.7" transform="rotate(-60 1108 319.6)" font-family="'Liberation Sans', sans-serif" font-size="11.6" text-anchor="middle" textLength="18.6" lengthAdjust="spacingAndGlyphs" fill="#000">5.0</text><text x="1116" y="356.1" transform="rotate(-60 1116 352)" font-family="'Liberation Sans', sans-serif" font-size="11.6" text-anchor="middle" textLength="26.0" lengthAdjust="spacingAndGlyphs" fill="#000">15.0</text><text x="1121" y="373.1" transform="rotate(0 1121 369)" font-family="'Liberation Sans', sans-serif" font-size="11.6" text-anchor="middle" textLength="26.0" lengthAdjust="spacingAndGlyphs" fill="#000">15.0</text><text x="1083" y="387.6" transform="rotate(-90 1083 383.5)" font-family="'Liberation Sans', sans-serif" font-size="11.6" text-anchor="middle" textLength="26.0" lengthAdjust="spacingAndGlyphs" fill="#000">10.0</text><text x="1131" y="399.1" transform="rotate(-60 1131 395)" font-family="'Liberation Sans', sans-serif" font-size="11.6" text-anchor="middle" textLength="26.0" lengthAdjust="spacingAndGlyphs" fill="#000">10.0</text><text x="1191" y="316.1" transform="rotate(-90 1191 312)" font-family="'Liberation Sans', sans-serif" font-size="11.6" text-anchor="middle" textLength="26.0" lengthAdjust="spacingAndGlyphs" fill="#000">15.0</text><text x="1152" y="425.1" transform="rotate(-90 1152 421)" font-family="'Liberation Sans', sans-serif" font-size="11.6" text-anchor="middle" textLength="18.6" lengthAdjust="spacingAndGlyphs" fill="#000">5.0</text><text x="1047" y="408.1" transform="rotate(-90 1047 404)" font-family="'Liberation Sans', sans-serif" font-size="11.6" text-anchor="middle" textLength="26.0" lengthAdjust="spacingAndGlyphs" fill="#000">10.0</text><text x="1060" y="429.1" transform="rotate(-90 1060 425)" font-family="'Liberation Sans', sans-serif" font-size="11.6" text-anchor="middle" textLength="26.0" lengthAdjust="spacingAndGlyphs" fill="#000">20.0</text><text x="1090" y="436.1" transform="rotate(-90 1090 432)" font-family="'Liberation Sans', sans-serif" font-size="11.6" text-anchor="middle" textLength="26.0" lengthAdjust="spacingAndGlyphs" fill="#000">10.0</text><polygon points="147.95,427.78 137.17,427.78 138.20,430.04 127.95,426.76 138.20,423.48 137.17,425.74 147.95,425.74" fill="#000"/><polygon points="198.25,427.78 191.78,427.78 192.80,430.04 182.55,426.76 192.80,423.48 191.78,425.74 198.25,425.74" fill="#000"/><polygon points="247.55,427.70 246.61,427.70 247.55,429.77 238.15,426.76 247.55,423.75 246.61,425.82 247.55,425.82" fill="#000"/><polygon points="299.50,427.60 298.66,427.60 299.50,429.45 291.10,426.76 299.50,424.07 298.66,425.92 299.50,425.92" fill="#000"/><polygon points="352.75,427.76 351.75,427.76 352.75,429.96 342.75,426.76 352.75,423.56 351.75,425.76 352.75,425.76" fill="#000"/><polygon points="407.50,427.78 402.13,427.78 403.15,430.04 392.90,426.76 403.15,423.48 402.13,425.74 407.50,425.74" fill="#000"/><polygon points="459.45,427.78 455.08,427.78 456.10,430.04 445.85,426.76 456.10,423.48 455.08,425.74 459.45,425.74" fill="#000"/><polygon points="512.40,427.78 507.03,427.78 508.05,430.04 497.80,426.76 508.05,423.48 507.03,425.74 512.40,425.74" fill="#000"/><polygon points="566.95,427.78 557.38,427.78 558.40,430.04 548.15,426.76 558.40,423.48 557.38,425.74 566.95,425.74" fill="#000"/><polygon points="616.00,427.78 613.23,427.78 614.25,430.04 604.00,426.76 614.25,423.48 613.23,425.74 616.00,425.74" fill="#000"/><polygon points="669.75,427.78 664.38,427.78 665.40,430.04 655.15,426.76 665.40,423.48 664.38,425.74 669.75,425.74" fill="#000"/><polygon points="721.20,427.78 717.83,427.78 718.85,430.04 708.60,426.76 718.85,423.48 717.83,425.74 721.20,425.74" fill="#000"/><polygon points="770.50,427.39 769.87,427.39 770.50,428.78 764.20,426.76 770.50,424.74 769.87,426.13 770.50,426.13" fill="#000"/><polygon points="822.30,427.26 821.80,427.26 822.30,428.36 817.30,426.76 822.30,425.16 821.80,426.26 822.30,426.26" fill="#000"/><polygon points="875.25,427.36 874.65,427.36 875.25,428.68 869.25,426.76 875.25,424.84 874.65,426.16 875.25,426.16" fill="#000"/><polygon points="929.40,427.70 928.46,427.70 929.40,429.77 920.00,426.76 929.40,423.75 928.46,425.82 929.40,425.82" fill="#000"/><polygon points="983.45,427.78 980.08,427.78 981.10,430.04 970.85,426.76 981.10,423.48 980.08,425.74 983.45,425.74" fill="#000"/><polygon points="1033.60,427.56 1032.80,427.56 1033.60,429.32 1025.60,426.76 1033.60,424.20 1032.80,425.96 1033.60,425.96" fill="#000"/><polygon points="1085.05,427.36 1084.45,427.36 1085.05,428.68 1079.05,426.76 1085.05,424.84 1084.45,426.16 1085.05,426.16" fill="#000"/><polygon points="1136.50,427.16 1136.10,427.16 1136.50,428.04 1132.50,426.76 1136.50,425.48 1136.10,426.36 1136.50,426.36" fill="#000"/><polygon points="1182.50,427.65 1183.39,427.65 1182.50,429.61 1191.40,426.76 1182.50,423.91 1183.39,425.87 1182.50,425.87" fill="#000"/><polygon points="87.50,407.92 87.10,407.92 87.50,408.80 83.50,407.52 87.50,406.24 87.10,407.12 87.50,407.12" fill="#000"/><polygon points="147.95,408.54 137.17,408.54 138.20,410.80 127.95,407.52 138.20,404.24 137.17,406.50 147.95,406.50" fill="#000"/><polygon points="198.75,408.54 191.28,408.54 192.30,410.80 182.05,407.52 192.30,404.24 191.28,406.50 198.75,406.50" fill="#000"/><polygon points="250.15,408.54 244.78,408.54 245.80,410.80 235.55,407.52 245.80,404.24 244.78,406.50 250.15,406.50" fill="#000"/><polygon points="303.15,408.54 296.68,408.54 297.70,410.80 287.45,407.52 297.70,404.24 296.68,406.50 303.15,406.50" fill="#000"/><polygon points="355.25,408.54 349.48,408.54 350.50,410.80 340.25,407.52 350.50,404.24 349.48,406.50 355.25,406.50" fill="#000"/><polygon points="409.10,408.54 400.53,408.54 401.55,410.80 391.30,407.52 401.55,404.24 400.53,406.50 409.10,406.50" fill="#000"/><polygon points="462.05,408.54 452.48,408.54 453.50,410.80 443.25,407.52 453.50,404.24 452.48,406.50 462.05,406.50" fill="#000"/><polygon points="515.55,408.54 503.88,408.54 504.90,410.80 494.65,407.52 504.90,404.24 503.88,406.50 515.55,406.50" fill="#000"/><polygon points="568.05,408.54 556.27,408.54 557.30,410.80 547.05,407.52 557.30,404.24 556.27,406.50 568.05,406.50" fill="#000"/><polygon points="617.85,408.54 611.38,408.54 612.40,410.80 602.15,407.52 612.40,404.24 611.38,406.50 617.85,406.50" fill="#000"/><polygon points="671.85,408.54 662.28,408.54 663.30,410.80 653.05,407.52 663.30,404.24 662.28,406.50 671.85,406.50" fill="#000"/><polygon points="723.80,408.54 715.23,408.54 716.25,410.80 706.00,407.52 716.25,404.24 715.23,406.50 723.80,406.50" fill="#000"/><polygon points="773.65,408.54 770.27,408.54 771.30,410.80 761.05,407.52 771.30,404.24 770.27,406.50 773.65,406.50" fill="#000"/><polygon points="822.80,408.12 822.20,408.12 822.80,409.44 816.80,407.52 822.80,405.60 822.20,406.92 822.80,406.92" fill="#000"/><polygon points="875.90,408.25 875.17,408.25 875.90,409.86 868.60,407.52 875.90,405.18 875.17,406.79 875.90,406.79" fill="#000"/><polygon points="928.20,408.22 927.50,408.22 928.20,409.76 921.20,407.52 928.20,405.28 927.50,406.82 928.20,406.82" fill="#000"/><polygon points="981.35,408.36 980.51,408.36 981.35,410.21 972.95,407.52 981.35,404.83 980.51,406.68 981.35,406.68" fill="#000"/><polygon points="1032.75,408.15 1032.12,408.15 1032.75,409.54 1026.45,407.52 1032.75,405.50 1032.12,406.89 1032.75,406.89" fill="#000"/><polygon points="1084.05,407.92 1083.65,407.92 1084.05,408.80 1080.05,407.52 1084.05,406.24 1083.65,407.12 1084.05,407.12" fill="#000"/><polygon points="1136.25,407.87 1135.90,407.87 1136.25,408.64 1132.75,407.52 1136.25,406.40 1135.90,407.17 1136.25,407.17" fill="#000"/><polygon points="1183.30,408.25 1184.03,408.25 1183.30,409.86 1190.60,407.52 1183.30,405.18 1184.03,406.79 1183.30,406.79" fill="#000"/><polygon points="94.90,389.30 85.33,389.30 86.35,391.56 76.10,388.28 86.35,385.00 85.33,387.25 94.90,387.25" fill="#000"/><polygon points="148.95,389.30 136.17,389.30 137.20,391.56 126.95,388.28 137.20,385.00 136.17,387.25 148.95,387.25" fill="#000"/><polygon points="199.30,389.30 190.72,389.30 191.75,391.56 181.50,388.28 191.75,385.00 190.72,387.25 199.30,387.25" fill="#000"/><polygon points="250.15,389.30 244.78,389.30 245.80,391.56 235.55,388.28 245.80,385.00 244.78,387.25 250.15,387.25" fill="#000"/><polygon points="303.65,389.30 296.18,389.30 297.20,391.56 286.95,388.28 297.20,385.00 296.18,387.25 303.65,387.25" fill="#000"/><polygon points="355.75,389.30 348.98,389.30 350.00,391.56 339.75,388.28 350.00,385.00 348.98,387.25 355.75,387.25" fill="#000"/><polygon points="410.15,389.30 399.48,389.30 400.50,391.56 390.25,388.28 400.50,385.00 399.48,387.25 410.15,387.25" fill="#000"/><polygon points="462.05,389.30 452.48,389.30 453.50,391.56 443.25,388.28 453.50,385.00 452.48,387.25 462.05,387.25" fill="#000"/><polygon points="515.55,389.30 503.88,389.30 504.90,391.56 494.65,388.28 504.90,385.00 503.88,387.25 515.55,387.25" fill="#000"/><polygon points="568.55,389.30 555.77,389.30 556.80,391.56 546.55,388.28 556.80,385.00 555.77,387.25 568.55,387.25" fill="#000"/><polygon points="618.90,389.30 610.33,389.30 611.35,391.56 601.10,388.28 611.35,385.00 610.33,387.25 618.90,387.25" fill="#000"/><polygon points="671.85,389.30 662.28,389.30 663.30,391.56 653.05,388.28 663.30,385.00 662.28,387.25 671.85,387.25" fill="#000"/><polygon points="721.90,389.30 717.13,389.30 718.15,391.56 707.90,388.28 718.15,385.00 717.13,387.25 721.90,387.25" fill="#000"/><polygon points="771.00,389.01 770.27,389.01 771.00,390.62 763.70,388.28 771.00,385.94 770.27,387.55 771.00,387.55" fill="#000"/><polygon points="822.30,388.78 821.80,388.78 822.30,389.88 817.30,388.28 822.30,386.68 821.80,387.78 822.30,387.78" fill="#000"/><polygon points="876.95,389.22 876.01,389.22 876.95,391.29 867.55,388.28 876.95,385.27 876.01,387.34 876.95,387.34" fill="#000"/><polygon points="928.70,389.08 927.90,389.08 928.70,390.84 920.70,388.28 928.70,385.72 927.90,387.48 928.70,387.48" fill="#000"/><polygon points="979.65,388.78 979.15,388.78 979.65,389.88 974.65,388.28 979.65,386.68 979.15,387.78 979.65,387.78" fill="#000"/><polygon points="1032.75,388.91 1032.12,388.91 1032.75,390.30 1026.45,388.28 1032.75,386.26 1032.12,387.65 1032.75,387.65" fill="#000"/><polygon points="1083.55,388.58 1083.25,388.58 1083.55,389.24 1080.55,388.28 1083.55,387.32 1083.25,387.98 1083.55,387.98" fill="#000"/><polygon points="1136.00,388.58 1135.70,388.58 1136.00,389.24 1133.00,388.28 1136.00,387.32 1135.70,387.98 1136.00,387.98" fill="#000"/><polygon points="1185.70,388.53 1185.95,388.53 1185.70,389.08 1188.20,388.28 1185.70,387.48 1185.95,388.03 1185.70,388.03" fill="#000"/><polygon points="97.00,370.06 83.22,370.06 84.25,372.32 74.00,369.04 84.25,365.76 83.22,368.02 97.00,368.02" fill="#000"/><polygon points="149.45,370.06 135.67,370.06 136.70,372.32 126.45,369.04 136.70,365.76 135.67,368.02 149.45,368.02" fill="#000"/><polygon points="198.75,370.06 191.28,370.06 192.30,372.32 182.05,369.04 192.30,365.76 191.28,368.02 198.75,368.02" fill="#000"/><polygon points="248.60,370.06 246.33,370.06 247.35,372.32 237.10,369.04 247.35,365.76 246.33,368.02 248.60,368.02" fill="#000"/><polygon points="304.20,370.06 295.62,370.06 296.65,372.32 286.40,369.04 296.65,365.76 295.62,368.02 304.20,368.02" fill="#000"/><polygon points="356.65,370.06 348.07,370.06 349.10,372.32 338.85,369.04 349.10,365.76 348.07,368.02 356.65,368.02" fill="#000"/><polygon points="410.15,370.06 399.48,370.06 400.50,372.32 390.25,369.04 400.50,365.76 399.48,368.02 410.15,368.02" fill="#000"/><polygon points="462.05,370.06 452.48,370.06 453.50,372.32 443.25,369.04 453.50,365.76 452.48,368.02 462.05,368.02" fill="#000"/><polygon points="515.55,370.06 503.88,370.06 504.90,372.32 494.65,369.04 504.90,365.76 503.88,368.02 515.55,368.02" fill="#000"/><polygon points="569.05,370.06 555.27,370.06 556.30,372.32 546.05,369.04 556.30,365.76 555.27,368.02 569.05,368.02" fill="#000"/><polygon points="621.00,370.06 608.23,370.06 609.25,372.32 599.00,369.04 609.25,365.76 608.23,368.02 621.00,368.02" fill="#000"/><polygon points="673.45,370.06 660.68,370.06 661.70,372.32 651.45,369.04 661.70,365.76 660.68,368.02 673.45,368.02" fill="#000"/><polygon points="724.30,370.06 714.73,370.06 715.75,372.32 705.50,369.04 715.75,365.76 714.73,368.02 724.30,368.02" fill="#000"/><polygon points="772.35,370.04 771.35,370.04 772.35,372.24 762.35,369.04 772.35,365.84 771.35,368.04 772.35,368.04" fill="#000"/><polygon points="822.40,369.56 821.88,369.56 822.40,370.70 817.20,369.04 822.40,367.38 821.88,368.52 822.40,368.52" fill="#000"/><polygon points="875.90,369.77 875.17,369.77 875.90,371.38 868.60,369.04 875.90,366.70 875.17,368.31 875.90,368.31" fill="#000"/><polygon points="929.40,369.98 928.46,369.98 929.40,372.05 920.00,369.04 929.40,366.03 928.46,368.10 929.40,368.10" fill="#000"/><polygon points="981.15,369.84 980.35,369.84 981.15,371.60 973.15,369.04 981.15,366.48 980.35,368.24 981.15,368.24" fill="#000"/><polygon points="1032.10,369.54 1031.60,369.54 1032.10,370.64 1027.10,369.04 1032.10,367.44 1031.60,368.54 1032.10,368.54" fill="#000"/><polygon points="1083.05,369.24 1082.85,369.24 1083.05,369.68 1081.05,369.04 1083.05,368.40 1082.85,368.84 1083.05,368.84" fill="#000"/><polygon points="1136.50,369.44 1136.10,369.44 1136.50,370.32 1132.50,369.04 1136.50,367.76 1136.10,368.64 1136.50,368.64" fill="#000"/><polygon points="1188.45,369.34 1188.15,369.34 1188.45,370.00 1185.45,369.04 1188.45,368.08 1188.15,368.74 1188.45,368.74" fill="#000"/><polygon points="97.00,350.82 83.22,350.82 84.25,353.08 74.00,349.80 84.25,346.52 83.22,348.78 97.00,348.78" fill="#000"/><polygon points="148.95,350.82 136.17,350.82 137.20,353.08 126.95,349.80 137.20,346.52 136.17,348.78 148.95,348.78" fill="#000"/><polygon points="199.30,350.82 190.72,350.82 191.75,353.08 181.50,349.80 191.75,346.52 190.72,348.78 199.30,348.78" fill="#000"/><polygon points="250.15,350.82 244.78,350.82 245.80,353.08 235.55,349.80 245.80,346.52 244.78,348.78 250.15,348.78" fill="#000"/><polygon points="304.20,350.82 295.62,350.82 296.65,353.08 286.40,349.80 296.65,346.52 295.62,348.78 304.20,348.78" fill="#000"/><polygon points="356.65,350.82 348.07,350.82 349.10,353.08 338.85,349.80 349.10,346.52 348.07,348.78 356.65,348.78" fill="#000"/><polygon points="410.15,350.82 399.48,350.82 400.50,353.08 390.25,349.80 400.50,346.52 399.48,348.78 410.15,348.78" fill="#000"/><polygon points="462.05,350.82 452.48,350.82 453.50,353.08 443.25,349.80 453.50,346.52 452.48,348.78 462.05,348.78" fill="#000"/><polygon points="515.55,350.82 503.88,350.82 504.90,353.08 494.65,349.80 504.90,346.52 503.88,348.78 515.55,348.78" fill="#000"/><polygon points="569.05,350.82 555.27,350.82 556.30,353.08 546.05,349.80 556.30,346.52 555.27,348.78 569.05,348.78" fill="#000"/><polygon points="622.55,350.82 606.67,350.82 607.70,353.08 597.45,349.80 607.70,346.52 606.67,348.78 622.55,348.78" fill="#000"/><polygon points="673.45,350.82 660.68,350.82 661.70,353.08 651.45,349.80 661.70,346.52 660.68,348.78 673.45,348.78" fill="#000"/><polygon points="723.25,350.82 715.78,350.82 716.80,353.08 706.55,349.80 716.80,346.52 715.78,348.78 723.25,348.78" fill="#000"/><polygon points="773.35,350.82 770.58,350.82 771.60,353.08 761.35,349.80 771.60,346.52 770.58,348.78 773.35,348.78" fill="#000"/><polygon points="821.90,350.22 821.48,350.22 821.90,351.14 817.70,349.80 821.90,348.46 821.48,349.38 821.90,349.38" fill="#000"/><polygon points="874.85,350.32 874.33,350.32 874.85,351.46 869.65,349.80 874.85,348.14 874.33,349.28 874.85,349.28" fill="#000"/><polygon points="929.40,350.74 928.46,350.74 929.40,352.81 920.00,349.80 929.40,346.79 928.46,348.86 929.40,348.86" fill="#000"/><polygon points="981.35,350.64 980.51,350.64 981.35,352.49 972.95,349.80 981.35,347.11 980.51,348.96 981.35,348.96" fill="#000"/><polygon points="1032.00,350.28 1031.52,350.28 1032.00,351.34 1027.20,349.80 1032.00,348.26 1031.52,349.32 1032.00,349.32" fill="#000"/><polygon points="1083.05,350.00 1082.85,350.00 1083.05,350.44 1081.05,349.80 1083.05,349.16 1082.85,349.60 1083.05,349.60" fill="#000"/><polygon points="1137.75,350.45 1137.10,350.45 1137.75,351.88 1131.25,349.80 1137.75,347.72 1137.10,349.15 1137.75,349.15" fill="#000"/><polygon points="1189.35,350.28 1188.87,350.28 1189.35,351.34 1184.55,349.80 1189.35,348.26 1188.87,349.32 1189.35,349.32" fill="#000"/><polygon points="96.90,331.58 83.33,331.58 84.35,333.84 74.10,330.56 84.35,327.28 83.33,329.54 96.90,329.54" fill="#000"/><polygon points="147.20,331.58 137.92,331.58 138.95,333.84 128.70,330.56 138.95,327.28 137.92,329.54 147.20,329.54" fill="#000"/><polygon points="198.95,331.58 191.08,331.58 192.10,333.84 181.85,330.56 192.10,327.28 191.08,329.54 198.95,329.54" fill="#000"/><polygon points="253.10,331.58 241.83,331.58 242.85,333.84 232.60,330.56 242.85,327.28 241.83,329.54 253.10,329.54" fill="#000"/><polygon points="304.55,331.58 295.28,331.58 296.30,333.84 286.05,330.56 296.30,327.28 295.28,329.54 304.55,329.54" fill="#000"/><polygon points="357.75,331.58 346.98,331.58 348.00,333.84 337.75,330.56 348.00,327.28 346.98,329.54 357.75,329.54" fill="#000"/><polygon points="409.75,331.58 399.88,331.58 400.90,333.84 390.65,330.56 400.90,327.28 399.88,329.54 409.75,329.54" fill="#000"/><polygon points="461.90,331.58 452.63,331.58 453.65,333.84 443.40,330.56 453.65,327.28 452.63,329.54 461.90,329.54" fill="#000"/><polygon points="515.65,331.58 503.78,331.58 504.80,333.84 494.55,330.56 504.80,327.28 503.78,329.54 515.65,329.54" fill="#000"/><polygon points="569.55,331.58 554.77,331.58 555.80,333.84 545.55,330.56 555.80,327.28 554.77,329.54 569.55,329.54" fill="#000"/><polygon points="621.85,331.58 607.38,331.58 608.40,333.84 598.15,330.56 608.40,327.28 607.38,329.54 621.85,329.54" fill="#000"/><polygon points="671.70,331.58 662.43,331.58 663.45,333.84 653.20,330.56 663.45,327.28 662.43,329.54 671.70,329.54" fill="#000"/><polygon points="723.45,331.58 715.58,331.58 716.60,333.84 706.35,330.56 716.60,327.28 715.58,329.54 723.45,329.54" fill="#000"/><polygon points="772.85,331.58 771.08,331.58 772.10,333.84 761.85,330.56 772.10,327.28 771.08,329.54 772.85,329.54" fill="#000"/><polygon points="823.35,331.27 822.64,331.27 823.35,332.83 816.25,330.56 823.35,328.29 822.64,329.85 823.35,329.85" fill="#000"/><polygon points="874.65,331.04 874.17,331.04 874.65,332.10 869.85,330.56 874.65,329.02 874.17,330.08 874.65,330.08" fill="#000"/><polygon points="928.05,331.23 927.38,331.23 928.05,332.70 921.35,330.56 928.05,328.42 927.38,329.89 928.05,329.89" fill="#000"/><polygon points="982.40,331.58 981.13,331.58 982.15,333.84 971.90,330.56 982.15,327.28 981.13,329.54 982.40,329.54" fill="#000"/><polygon points="1033.60,331.36 1032.80,331.36 1033.60,333.12 1025.60,330.56 1033.60,328.00 1032.80,329.76 1033.60,329.76" fill="#000"/><polygon points="1085.10,331.17 1084.49,331.17 1085.10,332.51 1079.00,330.56 1085.10,328.61 1084.49,329.95 1085.10,329.95" fill="#000"/><polygon points="1136.50,330.96 1136.10,330.96 1136.50,331.84 1132.50,330.56 1136.50,329.28 1136.10,330.16 1136.50,330.16" fill="#000"/><polygon points="1188.95,330.96 1188.55,330.96 1188.95,331.84 1184.95,330.56 1188.95,329.28 1188.55,330.16 1188.95,330.16" fill="#000"/><polygon points="96.90,312.34 83.33,312.34 84.35,314.60 74.10,311.32 84.35,308.04 83.33,310.30 96.90,310.30" fill="#000"/><polygon points="147.20,312.34 137.92,312.34 138.95,314.60 128.70,311.32 138.95,308.04 137.92,310.30 147.20,310.30" fill="#000"/><polygon points="199.65,312.34 190.38,312.34 191.40,314.60 181.15,311.32 191.40,308.04 190.38,310.30 199.65,310.30" fill="#000"/><polygon points="253.10,312.34 241.83,312.34 242.85,314.60 232.60,311.32 242.85,308.04 241.83,310.30 253.10,310.30" fill="#000"/><polygon points="304.55,312.34 295.28,312.34 296.30,314.60 286.05,311.32 296.30,308.04 295.28,310.30 304.55,310.30" fill="#000"/><polygon points="357.75,312.34 346.98,312.34 348.00,314.60 337.75,311.32 348.00,308.04 346.98,310.30 357.75,310.30" fill="#000"/><polygon points="409.75,312.34 399.88,312.34 400.90,314.60 390.65,311.32 400.90,308.04 399.88,310.30 409.75,310.30" fill="#000"/><polygon points="462.20,312.34 452.33,312.34 453.35,314.60 443.10,311.32 453.35,308.04 452.33,310.30 462.20,310.30" fill="#000"/><polygon points="515.10,312.34 504.33,312.34 505.35,314.60 495.10,311.32 505.35,308.04 504.33,310.30 515.10,310.30" fill="#000"/><polygon points="568.95,312.34 555.38,312.34 556.40,314.60 546.15,311.32 556.40,308.04 555.38,310.30 568.95,310.30" fill="#000"/><polygon points="620.70,312.34 608.52,312.34 609.55,314.60 599.30,311.32 609.55,308.04 608.52,310.30 620.70,310.30" fill="#000"/><polygon points="671.30,312.34 662.83,312.34 663.85,314.60 653.60,311.32 663.85,308.04 662.83,310.30 671.30,310.30" fill="#000"/><polygon points="723.45,312.34 715.58,312.34 716.60,314.60 706.35,311.32 716.60,308.04 715.58,310.30 723.45,310.30" fill="#000"/><polygon points="772.85,312.34 771.08,312.34 772.10,314.60 761.85,311.32 772.10,308.04 771.08,310.30 772.85,310.30" fill="#000"/><polygon points="823.10,311.98 822.44,311.98 823.10,313.43 816.50,311.32 823.10,309.21 822.44,310.66 823.10,310.66" fill="#000"/><polygon points="874.10,311.69 873.73,311.69 874.10,312.50 870.40,311.32 874.10,310.14 873.73,310.95 874.10,310.95" fill="#000"/><polygon points="927.20,311.82 926.70,311.82 927.20,312.92 922.20,311.32 927.20,309.72 926.70,310.82 927.20,310.82" fill="#000"/><polygon points="982.40,312.34 981.13,312.34 982.15,314.60 971.90,311.32 982.15,308.04 981.13,310.30 982.40,310.30" fill="#000"/><polygon points="1033.60,312.12 1032.80,312.12 1033.60,313.88 1025.60,311.32 1033.60,308.76 1032.80,310.52 1033.60,310.52" fill="#000"/><polygon points="1086.90,312.29 1085.93,312.29 1086.90,314.42 1077.20,311.32 1086.90,308.22 1085.93,310.35 1086.90,310.35" fill="#000"/><polygon points="1137.75,311.97 1137.10,311.97 1137.75,313.40 1131.25,311.32 1137.75,309.24 1137.10,310.67 1137.75,310.67" fill="#000"/><polygon points="1189.45,311.82 1188.95,311.82 1189.45,312.92 1184.45,311.32 1189.45,309.72 1188.95,310.82 1189.45,310.82" fill="#000"/><polygon points="96.90,293.11 83.33,293.11 84.35,295.36 74.10,292.08 84.35,288.80 83.33,291.06 96.90,291.06" fill="#000"/><polygon points="147.20,293.11 137.92,293.11 138.95,295.36 128.70,292.08 138.95,288.80 137.92,291.06 147.20,291.06" fill="#000"/><polygon points="200.40,293.11 189.62,293.11 190.65,295.36 180.40,292.08 190.65,288.80 189.62,291.06 200.40,291.06" fill="#000"/><polygon points="252.40,293.11 242.53,293.11 243.55,295.36 233.30,292.08 243.55,288.80 242.53,291.06 252.40,291.06" fill="#000"/><polygon points="305.30,293.11 294.53,293.11 295.55,295.36 285.30,292.08 295.55,288.80 294.53,291.06 305.30,291.06" fill="#000"/><polygon points="358.15,293.11 346.57,293.11 347.60,295.36 337.35,292.08 347.60,288.80 346.57,291.06 358.15,291.06" fill="#000"/><polygon points="409.75,293.11 399.88,293.11 400.90,295.36 390.65,292.08 400.90,288.80 399.88,291.06 409.75,291.06" fill="#000"/><polygon points="461.20,293.11 453.33,293.11 454.35,295.36 444.10,292.08 454.35,288.80 453.33,291.06 461.20,291.06" fill="#000"/><polygon points="515.10,293.11 504.33,293.11 505.35,295.36 495.10,292.08 505.35,288.80 504.33,291.06 515.10,291.06" fill="#000"/><polygon points="568.65,293.11 555.67,293.11 556.70,295.36 546.45,292.08 556.70,288.80 555.67,291.06 568.65,291.06" fill="#000"/><polygon points="619.25,293.11 609.98,293.11 611.00,295.36 600.75,292.08 611.00,288.80 609.98,291.06 619.25,291.06" fill="#000"/><polygon points="670.30,293.11 663.83,293.11 664.85,295.36 654.60,292.08 664.85,288.80 663.83,291.06 670.30,291.06" fill="#000"/><polygon points="722.60,293.11 716.43,293.11 717.45,295.36 707.20,292.08 717.45,288.80 716.43,291.06 722.60,291.06" fill="#000"/><polygon points="773.05,293.11 770.88,293.11 771.90,295.36 761.65,292.08 771.90,288.80 770.88,291.06 773.05,291.06" fill="#000"/><polygon points="823.65,292.85 822.88,292.85 823.65,294.54 815.95,292.08 823.65,289.62 822.88,291.31 823.65,291.31" fill="#000"/><polygon points="874.65,292.56 874.17,292.56 874.65,293.62 869.85,292.08 874.65,290.54 874.17,291.60 874.65,291.60" fill="#000"/><polygon points="927.20,292.58 926.70,292.58 927.20,293.68 922.20,292.08 927.20,290.48 926.70,291.58 927.20,291.58" fill="#000"/><polygon points="982.15,293.08 981.15,293.08 982.15,295.28 972.15,292.08 982.15,288.88 981.15,291.08 982.15,291.08" fill="#000"/><polygon points="1035.25,293.11 1033.17,293.11 1034.20,295.36 1023.95,292.08 1034.20,288.80 1033.17,291.06 1035.25,291.06" fill="#000"/><polygon points="1087.70,293.11 1085.63,293.11 1086.65,295.36 1076.40,292.08 1086.65,288.80 1085.63,291.06 1087.70,291.06" fill="#000"/><polygon points="1139.35,293.05 1138.38,293.05 1139.35,295.18 1129.65,292.08 1139.35,288.98 1138.38,291.11 1139.35,291.11" fill="#000"/><polygon points="1190.95,292.88 1190.15,292.88 1190.95,294.64 1182.95,292.08 1190.95,289.52 1190.15,291.28 1190.95,291.28" fill="#000"/><polygon points="96.90,273.87 83.33,273.87 84.35,276.12 74.10,272.84 84.35,269.56 83.33,271.82 96.90,271.82" fill="#000"/><polygon points="147.95,273.87 137.17,273.87 138.20,276.12 127.95,272.84 138.20,269.56 137.17,271.82 147.95,271.82" fill="#000"/><polygon points="201.10,273.87 188.93,273.87 189.95,276.12 179.70,272.84 189.95,269.56 188.93,271.82 201.10,271.82" fill="#000"/><polygon points="252.40,273.87 242.53,273.87 243.55,276.12 233.30,272.84 243.55,269.56 242.53,271.82 252.40,271.82" fill="#000"/><polygon points="305.30,273.87 294.53,273.87 295.55,276.12 285.30,272.84 295.55,269.56 294.53,271.82 305.30,271.82" fill="#000"/><polygon points="358.15,273.87 346.57,273.87 347.60,276.12 337.35,272.84 347.60,269.56 346.57,271.82 358.15,271.82" fill="#000"/><polygon points="409.75,273.87 399.88,273.87 400.90,276.12 390.65,272.84 400.90,269.56 399.88,271.82 409.75,271.82" fill="#000"/><polygon points="461.20,273.87 453.33,273.87 454.35,276.12 444.10,272.84 454.35,269.56 453.33,271.82 461.20,271.82" fill="#000"/><polygon points="515.10,273.87 504.33,273.87 505.35,276.12 495.10,272.84 505.35,269.56 504.33,271.82 515.10,271.82" fill="#000"/><polygon points="567.55,273.87 556.77,273.87 557.80,276.12 547.55,272.84 557.80,269.56 556.77,271.82 567.55,271.82" fill="#000"/><polygon points="617.85,273.87 611.38,273.87 612.40,276.12 602.15,272.84 612.40,269.56 611.38,271.82 617.85,271.82" fill="#000"/><polygon points="670.30,273.87 663.83,273.87 664.85,276.12 654.60,272.84 664.85,269.56 663.83,271.82 670.30,271.82" fill="#000"/><polygon points="722.30,273.87 716.73,273.87 717.75,276.12 707.50,272.84 717.75,269.56 716.73,271.82 722.30,271.82" fill="#000"/><polygon points="773.05,273.87 770.88,273.87 771.90,276.12 761.65,272.84 771.90,269.56 770.88,271.82 773.05,271.82" fill="#000"/><polygon points="823.95,273.67 823.12,273.67 823.95,275.50 815.65,272.84 823.95,270.18 823.12,272.01 823.95,272.01" fill="#000"/><polygon points="874.65,273.32 874.17,273.32 874.65,274.38 869.85,272.84 874.65,271.30 874.17,272.36 874.65,272.36" fill="#000"/><polygon points="926.85,273.27 926.42,273.27 926.85,274.22 922.55,272.84 926.85,271.46 926.42,272.41 926.85,272.41" fill="#000"/><polygon points="981.45,273.70 980.59,273.70 981.45,275.59 972.85,272.84 981.45,270.09 980.59,271.98 981.45,271.98" fill="#000"/><polygon points="1034.60,273.84 1033.60,273.84 1034.60,276.04 1024.60,272.84 1034.60,269.64 1033.60,271.84 1034.60,271.84" fill="#000"/><polygon points="1087.75,273.87 1085.58,273.87 1086.60,276.12 1076.35,272.84 1086.60,269.56 1085.58,271.82 1087.75,271.82" fill="#000"/><polygon points="1140.90,273.87 1137.33,273.87 1138.35,276.12 1128.10,272.84 1138.35,269.56 1137.33,271.82 1140.90,271.82" fill="#000"/><polygon points="1194.10,273.87 1189.03,273.87 1190.05,276.12 1179.80,272.84 1190.05,269.56 1189.03,271.82 1194.10,271.82" fill="#000"/><polygon points="96.90,254.62 83.33,254.62 84.35,256.88 74.10,253.60 84.35,250.32 83.33,252.57 96.90,252.57" fill="#000"/><polygon points="147.50,254.62 137.62,254.62 138.65,256.88 128.40,253.60 138.65,250.32 137.62,252.57 147.50,252.57" fill="#000"/><polygon points="201.80,254.62 188.22,254.62 189.25,256.88 179.00,253.60 189.25,250.32 188.22,252.57 201.80,252.57" fill="#000"/><polygon points="252.40,254.62 242.53,254.62 243.55,256.88 233.30,253.60 243.55,250.32 242.53,252.57 252.40,252.57" fill="#000"/><polygon points="304.55,254.62 295.28,254.62 296.30,256.88 286.05,253.60 296.30,250.32 295.28,252.57 304.55,252.57" fill="#000"/><polygon points="357.75,254.62 346.98,254.62 348.00,256.88 337.75,253.60 348.00,250.32 346.98,252.57 357.75,252.57" fill="#000"/><polygon points="409.75,254.62 399.88,254.62 400.90,256.88 390.65,253.60 400.90,250.32 399.88,252.57 409.75,252.57" fill="#000"/><polygon points="461.20,254.62 453.33,254.62 454.35,256.88 444.10,253.60 454.35,250.32 453.33,252.57 461.20,252.57" fill="#000"/><polygon points="515.65,254.62 503.78,254.62 504.80,256.88 494.55,253.60 504.80,250.32 503.78,252.57 515.65,252.57" fill="#000"/><polygon points="566.10,254.62 558.22,254.62 559.25,256.88 549.00,253.60 559.25,250.32 558.22,252.57 566.10,252.57" fill="#000"/><polygon points="617.15,254.62 612.08,254.62 613.10,256.88 602.85,253.60 613.10,250.32 612.08,252.57 617.15,252.57" fill="#000"/><polygon points="670.00,254.62 664.12,254.62 665.15,256.88 654.90,253.60 665.15,250.32 664.12,252.57 670.00,252.57" fill="#000"/><polygon points="722.05,254.62 716.98,254.62 718.00,256.88 707.75,253.60 718.00,250.32 716.98,252.57 722.05,252.57" fill="#000"/><polygon points="773.05,254.62 770.88,254.62 771.90,256.88 761.65,253.60 771.90,250.32 770.88,252.57 773.05,252.57" fill="#000"/><polygon points="823.65,254.37 822.88,254.37 823.65,256.06 815.95,253.60 823.65,251.14 822.88,252.83 823.65,252.83" fill="#000"/><polygon points="875.55,254.26 874.89,254.26 875.55,255.71 868.95,253.60 875.55,251.49 874.89,252.94 875.55,252.94" fill="#000"/><polygon points="927.20,254.10 926.70,254.10 927.20,255.20 922.20,253.60 927.20,252.00 926.70,253.10 927.20,253.10" fill="#000"/><polygon points="979.55,254.08 979.07,254.08 979.55,255.14 974.75,253.60 979.55,252.06 979.07,253.12 979.55,253.12" fill="#000"/><polygon points="1034.15,254.51 1033.24,254.51 1034.15,256.51 1025.05,253.60 1034.15,250.69 1033.24,252.69 1034.15,252.69" fill="#000"/><polygon points="1087.75,254.62 1085.58,254.62 1086.60,256.88 1076.35,253.60 1086.60,250.32 1085.58,252.57 1087.75,252.57" fill="#000"/><polygon points="1140.90,254.62 1137.33,254.62 1138.35,256.88 1128.10,253.60 1138.35,250.32 1137.33,252.57 1140.90,252.57" fill="#000"/><polygon points="1194.10,254.62 1189.03,254.62 1190.05,256.88 1179.80,253.60 1190.05,250.32 1189.03,252.57 1194.10,252.57" fill="#000"/><polygon points="96.90,235.38 83.33,235.38 84.35,237.64 74.10,234.36 84.35,231.08 83.33,233.33 96.90,233.33" fill="#000"/><polygon points="147.20,235.38 137.92,235.38 138.95,237.64 128.70,234.36 138.95,231.08 137.92,233.33 147.20,233.33" fill="#000"/><polygon points="201.80,235.38 188.22,235.38 189.25,237.64 179.00,234.36 189.25,231.08 188.22,233.33 201.80,233.33" fill="#000"/><polygon points="252.40,235.38 242.53,235.38 243.55,237.64 233.30,234.36 243.55,231.08 242.53,233.33 252.40,233.33" fill="#000"/><polygon points="305.55,235.38 294.28,235.38 295.30,237.64 285.05,234.36 295.30,231.08 294.28,233.33 305.55,233.33" fill="#000"/><polygon points="357.30,235.38 347.43,235.38 348.45,237.64 338.20,234.36 348.45,231.08 347.43,233.33 357.30,233.33" fill="#000"/><polygon points="409.75,235.38 399.88,235.38 400.90,237.64 390.65,234.36 400.90,231.08 399.88,233.33 409.75,233.33" fill="#000"/><polygon points="461.20,235.38 453.33,235.38 454.35,237.64 444.10,234.36 454.35,231.08 453.33,233.33 461.20,233.33" fill="#000"/><polygon points="515.35,235.38 504.08,235.38 505.10,237.64 494.85,234.36 505.10,231.08 504.08,233.33 515.35,233.33" fill="#000"/><polygon points="565.10,235.38 559.22,235.38 560.25,237.64 550.00,234.36 560.25,231.08 559.22,233.33 565.10,233.33" fill="#000"/><polygon points="616.15,235.38 613.08,235.38 614.10,237.64 603.85,234.36 614.10,231.08 613.08,233.33 616.15,233.33" fill="#000"/><polygon points="670.00,235.38 664.12,235.38 665.15,237.64 654.90,234.36 665.15,231.08 664.12,233.33 670.00,233.33" fill="#000"/><polygon points="722.05,235.38 716.98,235.38 718.00,237.64 707.75,234.36 718.00,231.08 716.98,233.33 722.05,233.33" fill="#000"/><polygon points="773.05,235.38 770.88,235.38 771.90,237.64 761.65,234.36 771.90,231.08 770.88,233.33 773.05,233.33" fill="#000"/><polygon points="823.35,235.07 822.64,235.07 823.35,236.63 816.25,234.36 823.35,232.09 822.64,233.65 823.35,233.65" fill="#000"/><polygon points="875.55,235.02 874.89,235.02 875.55,236.47 868.95,234.36 875.55,232.25 874.89,233.70 875.55,233.70" fill="#000"/><polygon points="926.80,234.78 926.38,234.78 926.80,235.70 922.60,234.36 926.80,233.02 926.38,233.94 926.80,233.94" fill="#000"/><polygon points="979.00,234.73 978.63,234.73 979.00,235.54 975.30,234.36 979.00,233.18 978.63,233.99 979.00,233.99" fill="#000"/><polygon points="1034.15,235.27 1033.24,235.27 1034.15,237.27 1025.05,234.36 1034.15,231.45 1033.24,233.45 1034.15,233.45" fill="#000"/><polygon points="1087.75,235.38 1085.58,235.38 1086.60,237.64 1076.35,234.36 1086.60,231.08 1085.58,233.33 1087.75,233.33" fill="#000"/><polygon points="1139.50,235.36 1138.50,235.36 1139.50,237.56 1129.50,234.36 1139.50,231.16 1138.50,233.36 1139.50,233.36" fill="#000"/><polygon points="1194.10,235.38 1189.03,235.38 1190.05,237.64 1179.80,234.36 1190.05,231.08 1189.03,233.33 1194.10,233.33" fill="#000"/><polygon points="96.90,216.15 83.33,216.15 84.35,218.40 74.10,215.12 84.35,211.84 83.33,214.09 96.90,214.09" fill="#000"/><polygon points="146.50,216.15 138.62,216.15 139.65,218.40 129.40,215.12 139.65,211.84 138.62,214.09 146.50,214.09" fill="#000"/><polygon points="201.10,216.15 188.93,216.15 189.95,218.40 179.70,215.12 189.95,211.84 188.93,214.09 201.10,214.09" fill="#000"/><polygon points="252.40,216.15 242.53,216.15 243.55,218.40 233.30,215.12 243.55,211.84 242.53,214.09 252.40,214.09" fill="#000"/><polygon points="305.30,216.15 294.53,216.15 295.55,218.40 285.30,215.12 295.55,211.84 294.53,214.09 305.30,214.09" fill="#000"/><polygon points="357.30,216.15 347.43,216.15 348.45,218.40 338.20,215.12 348.45,211.84 347.43,214.09 357.30,214.09" fill="#000"/><polygon points="409.75,216.15 399.88,216.15 400.90,218.40 390.65,215.12 400.90,211.84 399.88,214.09 409.75,214.09" fill="#000"/><polygon points="461.20,216.15 453.33,216.15 454.35,218.40 444.10,215.12 454.35,211.84 453.33,214.09 461.20,214.09" fill="#000"/><polygon points="515.35,216.15 504.08,216.15 505.10,218.40 494.85,215.12 505.10,211.84 504.08,214.09 515.35,214.09" fill="#000"/><polygon points="564.70,216.15 559.62,216.15 560.65,218.40 550.40,215.12 560.65,211.84 559.62,214.09 564.70,214.09" fill="#000"/><polygon points="615.25,216.15 613.98,216.15 615.00,218.40 604.75,215.12 615.00,211.84 613.98,214.09 615.25,214.09" fill="#000"/><polygon points="670.00,216.15 664.12,216.15 665.15,218.40 654.90,215.12 665.15,211.84 664.12,214.09 670.00,214.09" fill="#000"/><polygon points="722.05,216.15 716.98,216.15 718.00,218.40 707.75,215.12 718.00,211.84 716.98,214.09 722.05,214.09" fill="#000"/><polygon points="772.75,216.15 771.18,216.15 772.20,218.40 761.95,215.12 772.20,211.84 771.18,214.09 772.75,214.09" fill="#000"/><polygon points="823.35,215.83 822.64,215.83 823.35,217.39 816.25,215.12 823.35,212.85 822.64,214.41 823.35,214.41" fill="#000"/><polygon points="876.80,216.03 875.89,216.03 876.80,218.03 867.70,215.12 876.80,212.21 875.89,214.21 876.80,214.21" fill="#000"/><polygon points="927.20,215.62 926.70,215.62 927.20,216.72 922.20,215.12 927.20,213.52 926.70,214.62 927.20,214.62" fill="#000"/><polygon points="979.55,215.60 979.07,215.60 979.55,216.66 974.75,215.12 979.55,213.58 979.07,214.64 979.55,214.64" fill="#000"/><polygon points="1034.15,216.03 1033.24,216.03 1034.15,218.03 1025.05,215.12 1034.15,212.21 1033.24,214.21 1034.15,214.21" fill="#000"/><polygon points="1087.75,216.15 1085.58,216.15 1086.60,218.40 1076.35,215.12 1086.60,211.84 1085.58,214.09 1087.75,214.09" fill="#000"/><polygon points="1140.90,216.15 1137.33,216.15 1138.35,218.40 1128.10,215.12 1138.35,211.84 1137.33,214.09 1140.90,214.09" fill="#000"/><polygon points="1194.95,216.15 1188.17,216.15 1189.20,218.40 1178.95,215.12 1189.20,211.84 1188.17,214.09 1194.95,214.09" fill="#000"/><polygon points="96.25,196.91 83.97,196.91 85.00,199.16 74.75,195.88 85.00,192.60 83.97,194.85 96.25,194.85" fill="#000"/><polygon points="145.80,196.91 139.32,196.91 140.35,199.16 130.10,195.88 140.35,192.60 139.32,194.85 145.80,194.85" fill="#000"/><polygon points="199.00,196.91 191.03,196.91 192.05,199.16 181.80,195.88 192.05,192.60 191.03,194.85 199.00,194.85" fill="#000"/><polygon points="252.50,196.91 242.43,196.91 243.45,199.16 233.20,195.88 243.45,192.60 242.43,194.85 252.50,194.85" fill="#000"/><polygon points="303.90,196.91 295.93,196.91 296.95,199.16 286.70,195.88 296.95,192.60 295.93,194.85 303.90,194.85" fill="#000"/><polygon points="356.35,196.91 348.38,196.91 349.40,199.16 339.15,195.88 349.40,192.60 348.38,194.85 356.35,194.85" fill="#000"/><polygon points="409.75,196.91 399.88,196.91 400.90,199.16 390.65,195.88 400.90,192.60 399.88,194.85 409.75,194.85" fill="#000"/><polygon points="460.80,196.91 453.73,196.91 454.75,199.16 444.50,195.88 454.75,192.60 453.73,194.85 460.80,194.85" fill="#000"/><polygon points="515.10,196.91 504.33,196.91 505.35,199.16 495.10,195.88 505.35,192.60 504.33,194.85 515.10,194.85" fill="#000"/><polygon points="564.25,196.91 560.07,196.91 561.10,199.16 550.85,195.88 561.10,192.60 560.07,194.85 564.25,194.85" fill="#000"/><polygon points="615.25,196.91 613.98,196.91 615.00,199.16 604.75,195.88 615.00,192.60 613.98,194.85 615.25,194.85" fill="#000"/><polygon points="670.70,196.91 663.43,196.91 664.45,199.16 654.20,195.88 664.45,192.60 663.43,194.85 670.70,194.85" fill="#000"/><polygon points="722.30,196.91 716.73,196.91 717.75,199.16 707.50,195.88 717.75,192.60 716.73,194.85 722.30,194.85" fill="#000"/><polygon points="773.20,196.91 770.73,196.91 771.75,199.16 761.50,195.88 771.75,192.60 770.73,194.85 773.20,194.85" fill="#000"/><polygon points="823.50,196.62 822.76,196.62 823.50,198.25 816.10,195.88 823.50,193.51 822.76,195.14 823.50,195.14" fill="#000"/><polygon points="877.10,196.85 876.13,196.85 877.10,198.98 867.40,195.88 877.10,192.78 876.13,194.91 877.10,194.91" fill="#000"/><polygon points="926.60,196.26 926.22,196.26 926.60,197.10 922.80,195.88 926.60,194.66 926.22,195.50 926.60,195.50" fill="#000"/><polygon points="980.15,196.48 979.55,196.48 980.15,197.80 974.15,195.88 980.15,193.96 979.55,195.28 980.15,195.28" fill="#000"/><polygon points="1032.90,196.54 1032.24,196.54 1032.90,197.99 1026.30,195.88 1032.90,193.77 1032.24,195.22 1032.90,195.22" fill="#000"/><polygon points="1088.05,196.91 1085.28,196.91 1086.30,199.16 1076.05,195.88 1086.30,192.60 1085.28,194.85 1088.05,194.85" fill="#000"/><polygon points="1141.65,196.91 1136.58,196.91 1137.60,199.16 1127.35,195.88 1137.60,192.60 1136.58,194.85 1141.65,194.85" fill="#000"/><polygon points="1194.95,196.91 1188.17,196.91 1189.20,199.16 1178.95,195.88 1189.20,192.60 1188.17,194.85 1194.95,194.85" fill="#000"/><polygon points="97.30,177.66 82.92,177.66 83.95,179.92 73.70,176.64 83.95,173.36 82.92,175.61 97.30,175.61" fill="#000"/><polygon points="146.00,177.66 139.12,177.66 140.15,179.92 129.90,176.64 140.15,173.36 139.12,175.61 146.00,175.61" fill="#000"/><polygon points="197.60,177.66 192.43,177.66 193.45,179.92 183.20,176.64 193.45,173.36 192.43,175.61 197.60,175.61" fill="#000"/><polygon points="252.10,177.66 242.83,177.66 243.85,179.92 233.60,176.64 243.85,173.36 242.83,175.61 252.10,175.61" fill="#000"/><polygon points="303.35,177.66 296.48,177.66 297.50,179.92 287.25,176.64 297.50,173.36 296.48,175.61 303.35,175.61" fill="#000"/><polygon points="356.35,177.66 348.38,177.66 349.40,179.92 339.15,176.64 349.40,173.36 348.38,175.61 356.35,175.61" fill="#000"/><polygon points="409.05,177.66 400.58,177.66 401.60,179.92 391.35,176.64 401.60,173.36 400.58,175.61 409.05,175.61" fill="#000"/><polygon points="459.80,177.66 454.73,177.66 455.75,179.92 445.50,176.64 455.75,173.36 454.73,175.61 459.80,175.61" fill="#000"/><polygon points="514.65,177.66 504.78,177.66 505.80,179.92 495.55,176.64 505.80,173.36 504.78,175.61 514.65,175.61" fill="#000"/><polygon points="563.80,177.66 560.52,177.66 561.55,179.92 551.30,176.64 561.55,173.36 560.52,175.61 563.80,175.61" fill="#000"/><polygon points="616.15,177.66 613.08,177.66 614.10,179.92 603.85,176.64 614.10,173.36 613.08,175.61 616.15,175.61" fill="#000"/><polygon points="671.30,177.66 662.83,177.66 663.85,179.92 653.60,176.64 663.85,173.36 662.83,175.61 671.30,175.61" fill="#000"/><polygon points="722.30,177.66 716.73,177.66 717.75,179.92 707.50,176.64 717.75,173.36 716.73,175.61 722.30,175.61" fill="#000"/><polygon points="773.20,177.66 770.73,177.66 771.75,179.92 761.50,176.64 771.75,173.36 770.73,175.61 773.20,175.61" fill="#000"/><polygon points="823.80,177.44 823.00,177.44 823.80,179.20 815.80,176.64 823.80,174.08 823.00,175.84 823.80,175.84" fill="#000"/><polygon points="876.80,177.55 875.89,177.55 876.80,179.55 867.70,176.64 876.80,173.73 875.89,175.73 876.80,175.73" fill="#000"/><polygon points="926.95,177.09 926.50,177.09 926.95,178.08 922.45,176.64 926.95,175.20 926.50,176.19 926.95,176.19" fill="#000"/><polygon points="980.15,177.24 979.55,177.24 980.15,178.56 974.15,176.64 980.15,174.72 979.55,176.04 980.15,176.04" fill="#000"/><polygon points="1032.90,177.30 1032.24,177.30 1032.90,178.75 1026.30,176.64 1032.90,174.53 1032.24,175.98 1032.90,175.98" fill="#000"/><polygon points="1088.05,177.66 1085.28,177.66 1086.30,179.92 1076.05,176.64 1086.30,173.36 1085.28,175.61 1088.05,175.61" fill="#000"/><polygon points="1141.65,177.66 1136.58,177.66 1137.60,179.92 1127.35,176.64 1137.60,173.36 1136.58,175.61 1141.65,175.61" fill="#000"/><polygon points="1194.95,177.66 1188.17,177.66 1189.20,179.92 1178.95,176.64 1189.20,173.36 1188.17,175.61 1194.95,175.61" fill="#000"/><polygon points="98.40,158.42 81.83,158.42 82.85,160.68 72.60,157.40 82.85,154.12 81.83,156.37 98.40,156.37" fill="#000"/><polygon points="146.00,158.42 139.12,158.42 140.15,160.68 129.90,157.40 140.15,154.12 139.12,156.37 146.00,156.37" fill="#000"/><polygon points="197.25,158.42 192.78,158.42 193.80,160.68 183.55,157.40 193.80,154.12 192.78,156.37 197.25,156.37" fill="#000"/><polygon points="250.90,158.42 244.03,158.42 245.05,160.68 234.80,157.40 245.05,154.12 244.03,156.37 250.90,156.37" fill="#000"/><polygon points="302.80,158.42 297.03,158.42 298.05,160.68 287.80,157.40 298.05,154.12 297.03,156.37 302.80,156.37" fill="#000"/><polygon points="356.35,158.42 348.38,158.42 349.40,160.68 339.15,157.40 349.40,154.12 348.38,156.37 356.35,156.37" fill="#000"/><polygon points="408.45,158.42 401.18,158.42 402.20,160.68 391.95,157.40 402.20,154.12 401.18,156.37 408.45,156.37" fill="#000"/><polygon points="459.80,158.42 454.73,158.42 455.75,160.68 445.50,157.40 455.75,154.12 454.73,156.37 459.80,156.37" fill="#000"/><polygon points="514.10,158.42 505.33,158.42 506.35,160.68 496.10,157.40 506.35,154.12 505.33,156.37 514.10,156.37" fill="#000"/><polygon points="563.55,158.42 560.77,158.42 561.80,160.68 551.55,157.40 561.80,154.12 560.77,156.37 563.55,156.37" fill="#000"/><polygon points="616.85,158.42 612.38,158.42 613.40,160.68 603.15,157.40 613.40,154.12 612.38,156.37 616.85,156.37" fill="#000"/><polygon points="671.00,158.42 663.12,158.42 664.15,160.68 653.90,157.40 664.15,154.12 663.12,156.37 671.00,156.37" fill="#000"/><polygon points="722.30,158.42 716.73,158.42 717.75,160.68 707.50,157.40 717.75,154.12 716.73,156.37 722.30,156.37" fill="#000"/><polygon points="773.20,158.42 770.73,158.42 771.75,160.68 761.50,157.40 771.75,154.12 770.73,156.37 773.20,156.37" fill="#000"/><polygon points="823.35,158.11 822.64,158.11 823.35,159.67 816.25,157.40 823.35,155.13 822.64,156.69 823.35,156.69" fill="#000"/><polygon points="875.95,158.14 875.21,158.14 875.95,159.77 868.55,157.40 875.95,155.03 875.21,156.66 875.95,156.66" fill="#000"/><polygon points="927.60,157.98 927.02,157.98 927.60,159.26 921.80,157.40 927.60,155.54 927.02,156.82 927.60,156.82" fill="#000"/><polygon points="979.85,157.94 979.31,157.94 979.85,159.13 974.45,157.40 979.85,155.67 979.31,156.86 979.85,156.86" fill="#000"/><polygon points="1032.00,157.88 1031.52,157.88 1032.00,158.94 1027.20,157.40 1032.00,155.86 1031.52,156.92 1032.00,156.92" fill="#000"/><polygon points="1088.05,158.42 1085.28,158.42 1086.30,160.68 1076.05,157.40 1086.30,154.12 1085.28,156.37 1088.05,156.37" fill="#000"/><polygon points="1141.65,158.42 1136.58,158.42 1137.60,160.68 1127.35,157.40 1137.60,154.12 1136.58,156.37 1141.65,156.37" fill="#000"/><polygon points="1194.95,158.42 1188.17,158.42 1189.20,160.68 1178.95,157.40 1189.20,154.12 1188.17,156.37 1194.95,156.37" fill="#000"/><polygon points="100.50,139.19 79.72,139.19 80.75,141.44 70.50,138.16 80.75,134.88 79.72,137.14 100.50,137.14" fill="#000"/><polygon points="147.10,139.19 138.02,139.19 139.05,141.44 128.80,138.16 139.05,134.88 138.02,137.14 147.10,137.14" fill="#000"/><polygon points="197.05,139.19 192.97,139.19 194.00,141.44 183.75,138.16 194.00,134.88 192.97,137.14 197.05,137.14" fill="#000"/><polygon points="249.85,139.19 245.08,139.19 246.10,141.44 235.85,138.16 246.10,134.88 245.08,137.14 249.85,137.14" fill="#000"/><polygon points="302.80,139.19 297.03,139.19 298.05,141.44 287.80,138.16 298.05,134.88 297.03,137.14 302.80,137.14" fill="#000"/><polygon points="356.00,139.19 348.73,139.19 349.75,141.44 339.50,138.16 349.75,134.88 348.73,137.14 356.00,137.14" fill="#000"/><polygon points="406.90,139.19 402.73,139.19 403.75,141.44 393.50,138.16 403.75,134.88 402.73,137.14 406.90,137.14" fill="#000"/><polygon points="460.80,139.19 453.73,139.19 454.75,141.44 444.50,138.16 454.75,134.88 453.73,137.14 460.80,137.14" fill="#000"/><polygon points="514.10,139.19 505.33,139.19 506.35,141.44 496.10,138.16 506.35,134.88 505.33,137.14 514.10,137.14" fill="#000"/><polygon points="563.55,139.19 560.77,139.19 561.80,141.44 551.55,138.16 561.80,134.88 560.77,137.14 563.55,137.14" fill="#000"/><polygon points="616.15,139.19 613.08,139.19 614.10,141.44 603.85,138.16 614.10,134.88 613.08,137.14 616.15,137.14" fill="#000"/><polygon points="670.00,139.19 664.12,139.19 665.15,141.44 654.90,138.16 665.15,134.88 664.12,137.14 670.00,137.14" fill="#000"/><polygon points="722.30,139.19 716.73,139.19 717.75,141.44 707.50,138.16 717.75,134.88 716.73,137.14 722.30,137.14" fill="#000"/><polygon points="773.50,139.19 770.43,139.19 771.45,141.44 761.20,138.16 771.45,134.88 770.43,137.14 773.50,137.14" fill="#000"/><polygon points="822.65,138.73 822.08,138.73 822.65,139.98 816.95,138.16 822.65,136.34 822.08,137.59 822.65,137.59" fill="#000"/><polygon points="875.95,138.90 875.21,138.90 875.95,140.53 868.55,138.16 875.95,135.79 875.21,137.42 875.95,137.42" fill="#000"/><polygon points="928.10,138.84 927.42,138.84 928.10,140.34 921.30,138.16 928.10,135.98 927.42,137.48 928.10,137.48" fill="#000"/><polygon points="980.70,138.87 979.99,138.87 980.70,140.43 973.60,138.16 980.70,135.89 979.99,137.45 980.70,137.45" fill="#000"/><polygon points="1032.00,138.64 1031.52,138.64 1032.00,139.70 1027.20,138.16 1032.00,136.62 1031.52,137.68 1032.00,137.68" fill="#000"/><polygon points="1088.05,139.19 1085.28,139.19 1086.30,141.44 1076.05,138.16 1086.30,134.88 1085.28,137.14 1088.05,137.14" fill="#000"/><polygon points="1141.90,139.19 1136.33,139.19 1137.35,141.44 1127.10,138.16 1137.35,134.88 1136.33,137.14 1141.90,137.14" fill="#000"/><polygon points="1195.50,139.19 1187.62,139.19 1188.65,141.44 1178.40,138.16 1188.65,134.88 1187.62,137.14 1195.50,137.14" fill="#000"/><polygon points="101.60,119.95 78.62,119.95 79.65,122.20 69.40,118.92 79.65,115.64 78.62,117.90 101.60,117.90" fill="#000"/><polygon points="147.60,119.95 137.52,119.95 138.55,122.20 128.30,118.92 138.55,115.64 137.52,117.90 147.60,117.90" fill="#000"/><polygon points="197.90,119.95 192.12,119.95 193.15,122.20 182.90,118.92 193.15,115.64 192.12,117.90 197.90,117.90" fill="#000"/><polygon points="249.30,119.95 245.63,119.95 246.65,122.20 236.40,118.92 246.65,115.64 245.63,117.90 249.30,117.90" fill="#000"/><polygon points="303.35,119.95 296.48,119.95 297.50,122.20 287.25,118.92 297.50,115.64 296.48,117.90 303.35,117.90" fill="#000"/><polygon points="354.75,119.95 349.98,119.95 351.00,122.20 340.75,118.92 351.00,115.64 349.98,117.90 354.75,117.90" fill="#000"/><polygon points="405.20,119.92 404.20,119.92 405.20,122.12 395.20,118.92 405.20,115.72 404.20,117.92 405.20,117.92" fill="#000"/><polygon points="461.20,119.95 453.33,119.95 454.35,122.20 444.10,118.92 454.35,115.64 453.33,117.90 461.20,117.90" fill="#000"/><polygon points="513.35,119.95 506.08,119.95 507.10,122.20 496.85,118.92 507.10,115.64 506.08,117.90 513.35,117.90" fill="#000"/><polygon points="563.25,119.95 561.07,119.95 562.10,122.20 551.85,118.92 562.10,115.64 561.07,117.90 563.25,117.90" fill="#000"/><polygon points="616.15,119.95 613.08,119.95 614.10,122.20 603.85,118.92 614.10,115.64 613.08,117.90 616.15,117.90" fill="#000"/><polygon points="669.15,119.95 664.98,119.95 666.00,122.20 655.75,118.92 666.00,115.64 664.98,117.90 669.15,117.90" fill="#000"/><polygon points="722.05,119.95 716.98,119.95 718.00,122.20 707.75,118.92 718.00,115.64 716.98,117.90 722.05,117.90" fill="#000"/><polygon points="773.50,119.95 770.43,119.95 771.45,122.20 761.20,118.92 771.45,115.64 770.43,117.90 773.50,117.90" fill="#000"/><polygon points="823.35,119.63 822.64,119.63 823.35,121.19 816.25,118.92 823.35,116.65 822.64,118.21 823.35,118.21" fill="#000"/><polygon points="875.55,119.58 874.89,119.58 875.55,121.03 868.95,118.92 875.55,116.81 874.89,118.26 875.55,118.26" fill="#000"/><polygon points="928.30,119.64 927.58,119.64 928.30,121.22 921.10,118.92 928.30,116.62 927.58,118.20 928.30,118.20" fill="#000"/><polygon points="981.85,119.86 980.91,119.86 981.85,121.93 972.45,118.92 981.85,115.91 980.91,117.98 981.85,117.98" fill="#000"/><polygon points="1032.90,119.58 1032.24,119.58 1032.90,121.03 1026.30,118.92 1032.90,116.81 1032.24,118.26 1032.90,118.26" fill="#000"/><polygon points="1087.75,119.95 1085.58,119.95 1086.60,122.20 1076.35,118.92 1086.60,115.64 1085.58,117.90 1087.75,117.90" fill="#000"/><polygon points="1141.65,119.95 1136.58,119.95 1137.60,122.20 1127.35,118.92 1137.60,115.64 1136.58,117.90 1141.65,117.90" fill="#000"/><polygon points="1195.20,119.95 1187.92,119.95 1188.95,122.20 1178.70,118.92 1188.95,115.64 1187.92,117.90 1195.20,117.90" fill="#000"/><polygon points="101.60,100.71 78.62,100.71 79.65,102.96 69.40,99.68 79.65,96.40 78.62,98.66 101.60,98.66" fill="#000"/><polygon points="149.55,100.71 135.57,100.71 136.60,102.96 126.35,99.68 136.60,96.40 135.57,98.66 149.55,98.66" fill="#000"/><polygon points="199.55,100.71 190.47,100.71 191.50,102.96 181.25,99.68 191.50,96.40 190.47,98.66 199.55,98.66" fill="#000"/><polygon points="250.35,100.71 244.58,100.71 245.60,102.96 235.35,99.68 245.60,96.40 244.58,98.66 250.35,98.66" fill="#000"/><polygon points="303.35,100.71 296.48,100.71 297.50,102.96 287.25,99.68 297.50,96.40 296.48,98.66 303.35,98.66" fill="#000"/><polygon points="354.75,100.71 349.98,100.71 351.00,102.96 340.75,99.68 351.00,96.40 349.98,98.66 354.75,98.66" fill="#000"/><polygon points="405.20,100.68 404.20,100.68 405.20,102.88 395.20,99.68 405.20,96.48 404.20,98.68 405.20,98.68" fill="#000"/><polygon points="460.80,100.71 453.73,100.71 454.75,102.96 444.50,99.68 454.75,96.40 453.73,98.66 460.80,98.66" fill="#000"/><polygon points="512.50,100.71 506.93,100.71 507.95,102.96 497.70,99.68 507.95,96.40 506.93,98.66 512.50,98.66" fill="#000"/><polygon points="563.25,100.71 561.07,100.71 562.10,102.96 551.85,99.68 562.10,96.40 561.07,98.66 563.25,98.66" fill="#000"/><polygon points="616.15,100.71 613.08,100.71 614.10,102.96 603.85,99.68 614.10,96.40 613.08,98.66 616.15,98.66" fill="#000"/><polygon points="669.15,100.71 664.98,100.71 666.00,102.96 655.75,99.68 666.00,96.40 664.98,98.66 669.15,98.66" fill="#000"/><polygon points="722.05,100.71 716.98,100.71 718.00,102.96 707.75,99.68 718.00,96.40 716.98,98.66 722.05,98.66" fill="#000"/><polygon points="773.50,100.71 770.43,100.71 771.45,102.96 761.20,99.68 771.45,96.40 770.43,98.66 773.50,98.66" fill="#000"/><polygon points="823.80,100.48 823.00,100.48 823.80,102.24 815.80,99.68 823.80,97.12 823.00,98.88 823.80,98.88" fill="#000"/><polygon points="875.55,100.34 874.89,100.34 875.55,101.79 868.95,99.68 875.55,97.57 874.89,99.02 875.55,99.02" fill="#000"/><polygon points="928.30,100.40 927.58,100.40 928.30,101.98 921.10,99.68 928.30,97.38 927.58,98.96 928.30,98.96" fill="#000"/><polygon points="982.15,100.68 981.15,100.68 982.15,102.88 972.15,99.68 982.15,96.48 981.15,98.68 982.15,98.68" fill="#000"/><polygon points="1033.90,100.54 1033.04,100.54 1033.90,102.43 1025.30,99.68 1033.90,96.93 1033.04,98.82 1033.90,98.82" fill="#000"/><polygon points="1087.75,100.71 1085.58,100.71 1086.60,102.96 1076.35,99.68 1086.60,96.40 1085.58,98.66 1087.75,98.66" fill="#000"/><polygon points="1141.65,100.71 1136.58,100.71 1137.60,102.96 1127.35,99.68 1137.60,96.40 1136.58,98.66 1141.65,98.66" fill="#000"/><polygon points="1194.95,100.71 1188.17,100.71 1189.20,102.96 1178.95,99.68 1189.20,96.40 1188.17,98.66 1194.95,98.66" fill="#000"/><polygon points="100.50,81.47 79.72,81.47 80.75,83.72 70.50,80.44 80.75,77.16 79.72,79.41 100.50,79.41" fill="#000"/><polygon points="150.50,81.47 134.62,81.47 135.65,83.72 125.40,80.44 135.65,77.16 134.62,79.41 150.50,79.41" fill="#000"/><polygon points="200.60,81.47 189.43,81.47 190.45,83.72 180.20,80.44 190.45,77.16 189.43,79.41 200.60,79.41" fill="#000"/><polygon points="251.85,81.47 243.08,81.47 244.10,83.72 233.85,80.44 244.10,77.16 243.08,79.41 251.85,79.41" fill="#000"/><polygon points="304.00,81.47 295.82,81.47 296.85,83.72 286.60,80.44 296.85,77.16 295.82,79.41 304.00,79.41" fill="#000"/><polygon points="354.95,81.47 349.77,81.47 350.80,83.72 340.55,80.44 350.80,77.16 349.77,79.41 354.95,79.41" fill="#000"/><polygon points="406.60,81.47 403.03,81.47 404.05,83.72 393.80,80.44 404.05,77.16 403.03,79.41 406.60,79.41" fill="#000"/><polygon points="459.80,81.47 454.73,81.47 455.75,83.72 445.50,80.44 455.75,77.16 454.73,79.41 459.80,79.41" fill="#000"/><polygon points="511.80,81.47 507.62,81.47 508.65,83.72 498.40,80.44 508.65,77.16 507.62,79.41 511.80,79.41" fill="#000"/><polygon points="563.80,81.47 560.52,81.47 561.55,83.72 551.30,80.44 561.55,77.16 560.52,79.41 563.80,79.41" fill="#000"/><polygon points="616.15,81.47 613.08,81.47 614.10,83.72 603.85,80.44 614.10,77.16 613.08,79.41 616.15,79.41" fill="#000"/><polygon points="669.15,81.47 664.98,81.47 666.00,83.72 655.75,80.44 666.00,77.16 664.98,79.41 669.15,79.41" fill="#000"/><polygon points="722.05,81.47 716.98,81.47 718.00,83.72 707.75,80.44 718.00,77.16 716.98,79.41 722.05,79.41" fill="#000"/><polygon points="773.75,81.47 770.18,81.47 771.20,83.72 760.95,80.44 771.20,77.16 770.18,79.41 773.75,79.41" fill="#000"/><polygon points="825.05,81.47 823.78,81.47 824.80,83.72 814.55,80.44 824.80,77.16 823.78,79.41 825.05,79.41" fill="#000"/><polygon points="876.25,81.24 875.45,81.24 876.25,83.00 868.25,80.44 876.25,77.88 875.45,79.64 876.25,79.64" fill="#000"/><polygon points="928.55,81.21 927.78,81.21 928.55,82.90 920.85,80.44 928.55,77.98 927.78,79.67 928.55,79.67" fill="#000"/><polygon points="981.45,81.30 980.59,81.30 981.45,83.19 972.85,80.44 981.45,77.69 980.59,79.58 981.45,79.58" fill="#000"/><polygon points="1034.60,81.44 1033.60,81.44 1034.60,83.64 1024.60,80.44 1034.60,77.24 1033.60,79.44 1034.60,79.44" fill="#000"/><polygon points="1087.75,81.47 1085.58,81.47 1086.60,83.72 1076.35,80.44 1086.60,77.16 1085.58,79.41 1087.75,79.41" fill="#000"/><polygon points="1141.65,81.47 1136.58,81.47 1137.60,83.72 1127.35,80.44 1137.60,77.16 1136.58,79.41 1141.65,79.41" fill="#000"/><polygon points="1194.50,81.47 1188.62,81.47 1189.65,83.72 1179.40,80.44 1189.65,77.16 1188.62,79.41 1194.50,79.41" fill="#000"/><polygon points="99.75,62.22 80.47,62.22 81.50,64.48 71.25,61.20 81.50,57.92 80.47,60.17 99.75,60.17" fill="#000"/><polygon points="149.87,62.22 135.25,62.22 136.28,64.48 126.03,61.20 136.28,57.92 135.25,60.17 149.87,60.17" fill="#000"/><polygon points="200.09,62.22 189.94,62.22 190.96,64.48 180.71,61.20 190.96,57.92 189.94,60.17 200.09,60.17" fill="#000"/><polygon points="251.40,62.22 243.53,62.22 244.55,64.48 234.30,61.20 244.55,57.92 243.53,60.17 251.40,60.17" fill="#000"/><polygon points="303.56,62.22 296.26,62.22 297.29,64.48 287.04,61.20 297.29,57.92 296.26,60.17 303.56,60.17" fill="#000"/><polygon points="354.59,62.22 350.13,62.22 351.16,64.48 340.91,61.20 351.16,57.92 350.13,60.17 354.59,60.17" fill="#000"/><polygon points="406.28,62.22 403.35,62.22 404.37,64.48 394.12,61.20 404.37,57.92 403.35,60.17 406.28,60.17" fill="#000"/><polygon points="459.44,62.22 455.08,62.22 456.11,64.48 445.86,61.20 456.11,57.92 455.08,60.17 459.44,60.17" fill="#000"/><polygon points="511.47,62.22 507.96,62.22 508.99,64.48 498.74,61.20 508.99,57.92 507.96,60.17 511.47,60.17" fill="#000"/><polygon points="563.49,62.22 560.84,62.22 561.86,64.48 551.61,61.20 561.86,57.92 560.84,60.17 563.49,60.17" fill="#000"/><polygon points="615.84,62.22 613.38,62.22 614.41,64.48 604.16,61.20 614.41,57.92 613.38,60.17 615.84,60.17" fill="#000"/><polygon points="668.82,62.22 665.31,62.22 666.34,64.48 656.09,61.20 666.34,57.92 665.31,60.17 668.82,60.17" fill="#000"/><polygon points="721.69,62.22 717.33,62.22 718.36,64.48 708.11,61.20 718.36,57.92 717.33,60.17 721.69,60.17" fill="#000"/><polygon points="773.43,62.22 770.50,62.22 771.52,64.48 761.27,61.20 771.52,57.92 770.50,60.17 773.43,60.17" fill="#000"/><polygon points="824.79,62.20 823.79,62.20 824.79,64.39 814.81,61.20 824.79,58.01 823.79,60.20 824.79,60.20" fill="#000"/><polygon points="876.05,61.96 875.29,61.96 876.05,63.63 868.45,61.20 876.05,58.77 875.29,60.44 876.05,60.44" fill="#000"/><polygon points="928.36,61.93 927.63,61.93 928.36,63.54 921.04,61.20 928.36,58.86 927.63,60.47 928.36,60.47" fill="#000"/><polygon points="981.24,62.02 980.42,62.02 981.24,63.81 973.07,61.20 981.24,58.59 980.42,60.38 981.24,60.38" fill="#000"/><polygon points="1034.35,62.15 1033.40,62.15 1034.35,64.24 1024.85,61.20 1034.35,58.16 1033.40,60.25 1034.35,60.25" fill="#000"/><polygon points="1087.47,62.22 1085.86,62.22 1086.89,64.48 1076.64,61.20 1086.89,57.92 1085.86,60.17 1087.47,60.17" fill="#000"/><polygon points="1141.29,62.22 1136.93,62.22 1137.96,64.48 1127.71,61.20 1137.96,57.92 1136.93,60.17 1141.29,60.17" fill="#000"/><polygon points="1194.12,62.22 1189.00,62.22 1190.03,64.48 1179.78,61.20 1190.03,57.92 1189.00,60.17 1194.12,60.17" fill="#000"/></g><rect x="85.5" y="61.5" width="1118.00" height="385.00" fill="none" stroke="#000" stroke-width="1.1"/><line x1="80.6" x2="85.5" y1="446.50" y2="446.50" stroke="#000" stroke-width="1.1"/><text x="75.0" y="452.10" font-family="'Liberation Sans', sans-serif" font-size="14" text-anchor="end" textLength="22.09" lengthAdjust="spacingAndGlyphs" fill="#000">0.0</text><line x1="80.6" x2="85.5" y1="407.50" y2="407.50" stroke="#000" stroke-width="1.1"/><text x="75.0" y="413.10" font-family="'Liberation Sans', sans-serif" font-size="14" text-anchor="end" textLength="48.59" lengthAdjust="spacingAndGlyphs" fill="#000">1000.0</text><line x1="80.6" x2="85.5" y1="369.50" y2="369.50" stroke="#000" stroke-width="1.1"/><text x="75.0" y="375.10" font-family="'Liberation Sans', sans-serif" font-size="14" text-anchor="end" textLength="48.59" lengthAdjust="spacingAndGlyphs" fill="#000">2000.0</text><line x1="80.6" x2="85.5" y1="330.50" y2="330.50" stroke="#000" stroke-width="1.1"/><text x="75.0" y="336.10" font-family="'Liberation Sans', sans-serif" font-size="14" text-anchor="end" textLength="48.59" lengthAdjust="spacingAndGlyphs" fill="#000">3000.0</text><line x1="80.6" x2="85.5" y1="292.50" y2="292.50" stroke="#000" stroke-width="1.1"/><text x="75.0" y="298.10" font-family="'Liberation Sans', sans-serif" font-size="14" text-anchor="end" textLength="48.59" lengthAdjust="spacingAndGlyphs" fill="#000">4000.0</text><line x1="80.6" x2="85.5" y1="253.50" y2="253.50" stroke="#000" stroke-width="1.1"/><text x="75.0" y="259.10" font-family="'Liberation Sans', sans-serif" font-size="14" text-anchor="end" textLength="48.59" lengthAdjust="spacingAndGlyphs" fill="#000">5000.0</text><line x1="80.6" x2="85.5" y1="215.50" y2="215.50" stroke="#000" stroke-width="1.1"/><text x="75.0" y="221.10" font-family="'Liberation Sans', sans-serif" font-size="14" text-anchor="end" textLength="48.59" lengthAdjust="spacingAndGlyphs" fill="#000">6000.0</text><line x1="80.6" x2="85.5" y1="176.50" y2="176.50" stroke="#000" stroke-width="1.1"/><text x="75.0" y="182.10" font-family="'Liberation Sans', sans-serif" font-size="14" text-anchor="end" textLength="48.59" lengthAdjust="spacingAndGlyphs" fill="#000">7000.0</text><line x1="80.6" x2="85.5" y1="138.50" y2="138.50" stroke="#000" stroke-width="1.1"/><text x="75.0" y="144.10" font-family="'Liberation Sans', sans-serif" font-size="14" text-anchor="end" textLength="48.59" lengthAdjust="spacingAndGlyphs" fill="#000">8000.0</text><line x1="80.6" x2="85.5" y1="99.50" y2="99.50" stroke="#000" stroke-width="1.1"/><text x="75.0" y="105.10" font-family="'Liberation Sans', sans-serif" font-size="14" text-anchor="end" textLength="48.59" lengthAdjust="spacingAndGlyphs" fill="#000">9000.0</text><line x1="80.6" x2="85.5" y1="61.50" y2="61.50" stroke="#000" stroke-width="1.1"/><text x="75.0" y="67.10" font-family="'Liberation Sans', sans-serif" font-size="14" text-anchor="end" textLength="57.42" lengthAdjust="spacingAndGlyphs" fill="#000">10000.0</text><line x1="85.50" x2="85.50" y1="446.5" y2="451.4" stroke="#000" stroke-width="1.1"/><text x="84.50" y="466.9" font-family="'Liberation Sans', sans-serif" font-size="14" text-anchor="middle" textLength="39.75" lengthAdjust="spacingAndGlyphs" fill="#000">50.00</text><text x="85.10" y="483.9" font-family="'Liberation Sans', sans-serif" font-size="14" text-anchor="middle" textLength="35.93" lengthAdjust="spacingAndGlyphs" fill="#000">-2.49</text><line x1="198.50" x2="198.50" y1="446.5" y2="451.4" stroke="#000" stroke-width="1.1"/><text x="197.50" y="466.9" font-family="'Liberation Sans', sans-serif" font-size="14" text-anchor="middle" textLength="39.75" lengthAdjust="spacingAndGlyphs" fill="#000">51.01</text><text x="198.10" y="483.9" font-family="'Liberation Sans', sans-serif" font-size="14" text-anchor="middle" textLength="35.93" lengthAdjust="spacingAndGlyphs" fill="#000">-2.49</text><line x1="311.50" x2="311.50" y1="446.5" y2="451.4" stroke="#000" stroke-width="1.1"/><text x="310.50" y="466.9" font-family="'Liberation Sans', sans-serif" font-size="14" text-anchor="middle" textLength="39.75" lengthAdjust="spacingAndGlyphs" fill="#000">52.02</text><text x="311.10" y="483.9" font-family="'Liberation Sans', sans-serif" font-size="14" text-anchor="middle" textLength="35.93" lengthAdjust="spacingAndGlyphs" fill="#000">-2.49</text><line x1="424.50" x2="424.50" y1="446.5" y2="451.4" stroke="#000" stroke-width="1.1"/><text x="423.50" y="466.9" font-family="'Liberation Sans', sans-serif" font-size="14" text-anchor="middle" textLength="39.75" lengthAdjust="spacingAndGlyphs" fill="#000">53.03</text><text x="424.10" y="483.9" font-family="'Liberation Sans', sans-serif" font-size="14" text-anchor="middle" textLength="35.93" lengthAdjust="spacingAndGlyphs" fill="#000">-2.49</text><line x1="537.50" x2="537.50" y1="446.5" y2="451.4" stroke="#000" stroke-width="1.1"/><text x="536.50" y="466.9" font-family="'Liberation Sans', sans-serif" font-size="14" text-anchor="middle" textLength="39.75" lengthAdjust="spacingAndGlyphs" fill="#000">54.04</text><text x="537.10" y="483.9" font-family="'Liberation Sans', sans-serif" font-size="14" text-anchor="middle" textLength="35.93" lengthAdjust="spacingAndGlyphs" fill="#000">-2.49</text><line x1="650.50" x2="650.50" y1="446.5" y2="451.4" stroke="#000" stroke-width="1.1"/><text x="649.50" y="466.9" font-family="'Liberation Sans', sans-serif" font-size="14" text-anchor="middle" textLength="39.75" lengthAdjust="spacingAndGlyphs" fill="#000">55.05</text><text x="650.10" y="483.9" font-family="'Liberation Sans', sans-serif" font-size="14" text-anchor="middle" textLength="35.93" lengthAdjust="spacingAndGlyphs" fill="#000">-2.49</text><line x1="763.50" x2="763.50" y1="446.5" y2="451.4" stroke="#000" stroke-width="1.1"/><text x="762.50" y="466.9" font-family="'Liberation Sans', sans-serif" font-size="14" text-anchor="middle" textLength="39.75" lengthAdjust="spacingAndGlyphs" fill="#000">56.06</text><text x="763.10" y="483.9" font-family="'Liberation Sans', sans-serif" font-size="14" text-anchor="middle" textLength="35.93" lengthAdjust="spacingAndGlyphs" fill="#000">-2.49</text><line x1="876.50" x2="876.50" y1="446.5" y2="451.4" stroke="#000" stroke-width="1.1"/><text x="875.50" y="466.9" font-family="'Liberation Sans', sans-serif" font-size="14" text-anchor="middle" textLength="39.75" lengthAdjust="spacingAndGlyphs" fill="#000">57.07</text><text x="876.10" y="483.9" font-family="'Liberation Sans', sans-serif" font-size="14" text-anchor="middle" textLength="35.93" lengthAdjust="spacingAndGlyphs" fill="#000">-2.49</text><line x1="989.50" x2="989.50" y1="446.5" y2="451.4" stroke="#000" stroke-width="1.1"/><text x="988.50" y="466.9" font-family="'Liberation Sans', sans-serif" font-size="14" text-anchor="middle" textLength="39.75" lengthAdjust="spacingAndGlyphs" fill="#000">58.08</text><text x="989.10" y="483.9" font-family="'Liberation Sans', sans-serif" font-size="14" text-anchor="middle" textLength="35.93" lengthAdjust="spacingAndGlyphs" fill="#000">-2.49</text><line x1="1102.50" x2="1102.50" y1="446.5" y2="451.4" stroke="#000" stroke-width="1.1"/><text x="1101.50" y="466.9" font-family="'Liberation Sans', sans-serif" font-size="14" text-anchor="middle" textLength="39.75" lengthAdjust="spacingAndGlyphs" fill="#000">59.09</text><text x="1102.10" y="483.9" font-family="'Liberation Sans', sans-serif" font-size="14" text-anchor="middle" textLength="35.93" lengthAdjust="spacingAndGlyphs" fill="#000">-2.49</text><line x1="1203.50" x2="1203.50" y1="446.5" y2="451.4" stroke="#000" stroke-width="1.1"/><text x="1202.50" y="466.9" font-family="'Liberation Sans', sans-serif" font-size="14" text-anchor="middle" textLength="39.75" lengthAdjust="spacingAndGlyphs" fill="#000">59.99</text><text x="1203.10" y="483.9" font-family="'Liberation Sans', sans-serif" font-size="14" text-anchor="middle" textLength="35.93" lengthAdjust="spacingAndGlyphs" fill="#000">-2.49</text><text x="527.9" y="498.0" font-family="'Liberation Sans', sans-serif" font-size="14" textLength="143.0" lengthAdjust="spacingAndGlyphs" fill="#000">Latitude (degrees N)</text><text x="554.3" y="514.0" font-family="'Liberation Sans', sans-serif" font-size="14" textLength="153.4" lengthAdjust="spacingAndGlyphs" fill="#000">Longitude (degrees E)</text><text x="0" y="0" transform="translate(20.9 312.5) rotate(-90)" font-family="'Liberation Sans', sans-serif" font-size="14" textLength="119.0" lengthAdjust="spacingAndGlyphs" fill="#000">Altitude (meters)</text><text x="85.3" y="20.85" font-family="'Liberation Sans', sans-serif" font-size="14" font-weight="bold" textLength="649.6" lengthAdjust="spacingAndGlyphs" fill="#000">Reflectivity cross section and wind vectors parallel to cross section: CrosssectionA</text><text x="85.3" y="36.8" font-family="'Liberation Sans', sans-serif" font-size="14" font-weight="bold" textLength="617.0" lengthAdjust="spacingAndGlyphs" fill="#000">Latitudes (degrees north): 50.00,60.00, Longitudes (degrees east): -2.50,-2.50</text><text x="85.3" y="52.6" font-family="'Liberation Sans', sans-serif" font-size="14" font-weight="bold" textLength="599.5" lengthAdjust="spacingAndGlyphs" fill="#000">Simulation start time: 2024-03-14 00:00:00, Valid time: 2024-03-15 03:00:00</text><rect x="1214.3" y="419.00" width="34.20" height="27.90" fill="#0000a8"/><rect x="1214.3" y="391.50" width="34.20" height="27.90" fill="#0000fa"/><rect x="1214.3" y="364.00" width="34.20" height="27.90" fill="#0034ff"/><rect x="1214.3" y="336.50" width="34.20" height="27.90" fill="#0080ff"/><rect x="1214.3" y="309.00" width="34.20" height="27.90" fill="#00c8ff"/><rect x="1214.3" y="281.50" width="34.20" height="27.90" fill="#23ffd4"/><rect x="1214.3" y="254.00" width="34.20" height="27.90" fill="#5dff9a"/><rect x="1214.3" y="226.50" width="34.20" height="27.90" fill="#9aff5d"/><rect x="1214.3" y="199.00" width="34.20" height="27.90" fill="#d4ff23"/><rect x="1214.3" y="171.50" width="34.20" height="27.90" fill="#ffdb00"/><rect x="1214.3" y="144.00" width="34.20" height="27.90" fill="#ff9400"/><rect x="1214.3" y="116.50" width="34.20" height="27.90" fill="#ff5200"/><rect x="1214.3" y="89.00" width="34.20" height="27.90" fill="#fa0f00"/><rect x="1214.3" y="61.50" width="34.20" height="27.90" fill="#a80000"/><rect x="1214.3" y="61.5" width="34.20" height="385.00" fill="none" stroke="#000" stroke-width="1.1"/><line x1="1248.5" x2="1253.4" y1="446.50" y2="446.50" stroke="#000" stroke-width="1.1"/><text x="1257.9" y="452.10" font-family="'Liberation Sans', sans-serif" font-size="14" textLength="8.83" lengthAdjust="spacingAndGlyphs" fill="#000">5</text><line x1="1248.5" x2="1253.4" y1="391.50" y2="391.50" stroke="#000" stroke-width="1.1"/><text x="1257.9" y="397.10" font-family="'Liberation Sans', sans-serif" font-size="14" textLength="17.67" lengthAdjust="spacingAndGlyphs" fill="#000">15</text><line x1="1248.5" x2="1253.4" y1="336.50" y2="336.50" stroke="#000" stroke-width="1.1"/><text x="1257.9" y="342.10" font-family="'Liberation Sans', sans-serif" font-size="14" textLength="17.67" lengthAdjust="spacingAndGlyphs" fill="#000">25</text><line x1="1248.5" x2="1253.4" y1="281.50" y2="281.50" stroke="#000" stroke-width="1.1"/><text x="1257.9" y="287.10" font-family="'Liberation Sans', sans-serif" font-size="14" textLength="17.67" lengthAdjust="spacingAndGlyphs" fill="#000">35</text><line x1="1248.5" x2="1253.4" y1="226.50" y2="226.50" stroke="#000" stroke-width="1.1"/><text x="1257.9" y="232.10" font-family="'Liberation Sans', sans-serif" font-size="14" textLength="17.67" lengthAdjust="spacingAndGlyphs" fill="#000">45</text><line x1="1248.5" x2="1253.4" y1="171.50" y2="171.50" stroke="#000" stroke-width="1.1"/><text x="1257.9" y="177.10" font-family="'Liberation Sans', sans-serif" font-size="14" textLength="17.67" lengthAdjust="spacingAndGlyphs" fill="#000">55</text><line x1="1248.5" x2="1253.4" y1="116.50" y2="116.50" stroke="#000" stroke-width="1.1"/><text x="1257.9" y="122.10" font-family="'Liberation Sans', sans-serif" font-size="14" textLength="17.67" lengthAdjust="spacingAndGlyphs" fill="#000">65</text><line x1="1248.5" x2="1253.4" y1="61.50" y2="61.50" stroke="#000" stroke-width="1.1"/><text x="1257.9" y="67.10" font-family="'Liberation Sans', sans-serif" font-size="14" textLength="17.67" lengthAdjust="spacingAndGlyphs" fill="#000">75</text><text x="0" y="0" transform="translate(1290.8 309.3) rotate(-90)" font-family="'Liberation Sans', sans-serif" font-size="14" textLength="109.8" lengthAdjust="spacingAndGlyphs" fill="#000">Reflectivity dBZ</text><polygon points="1216.80,51.92 1237.58,51.92 1236.55,54.18 1246.80,50.90 1236.55,47.62 1237.58,49.88 1216.80,49.88" fill="#000"/><text x="1257.8" y="55.9" font-family="'Liberation Sans', sans-serif" font-size="14" textLength="47.5" lengthAdjust="spacingAndGlyphs" fill="#000">25 m/s</text></svg></body></html>
